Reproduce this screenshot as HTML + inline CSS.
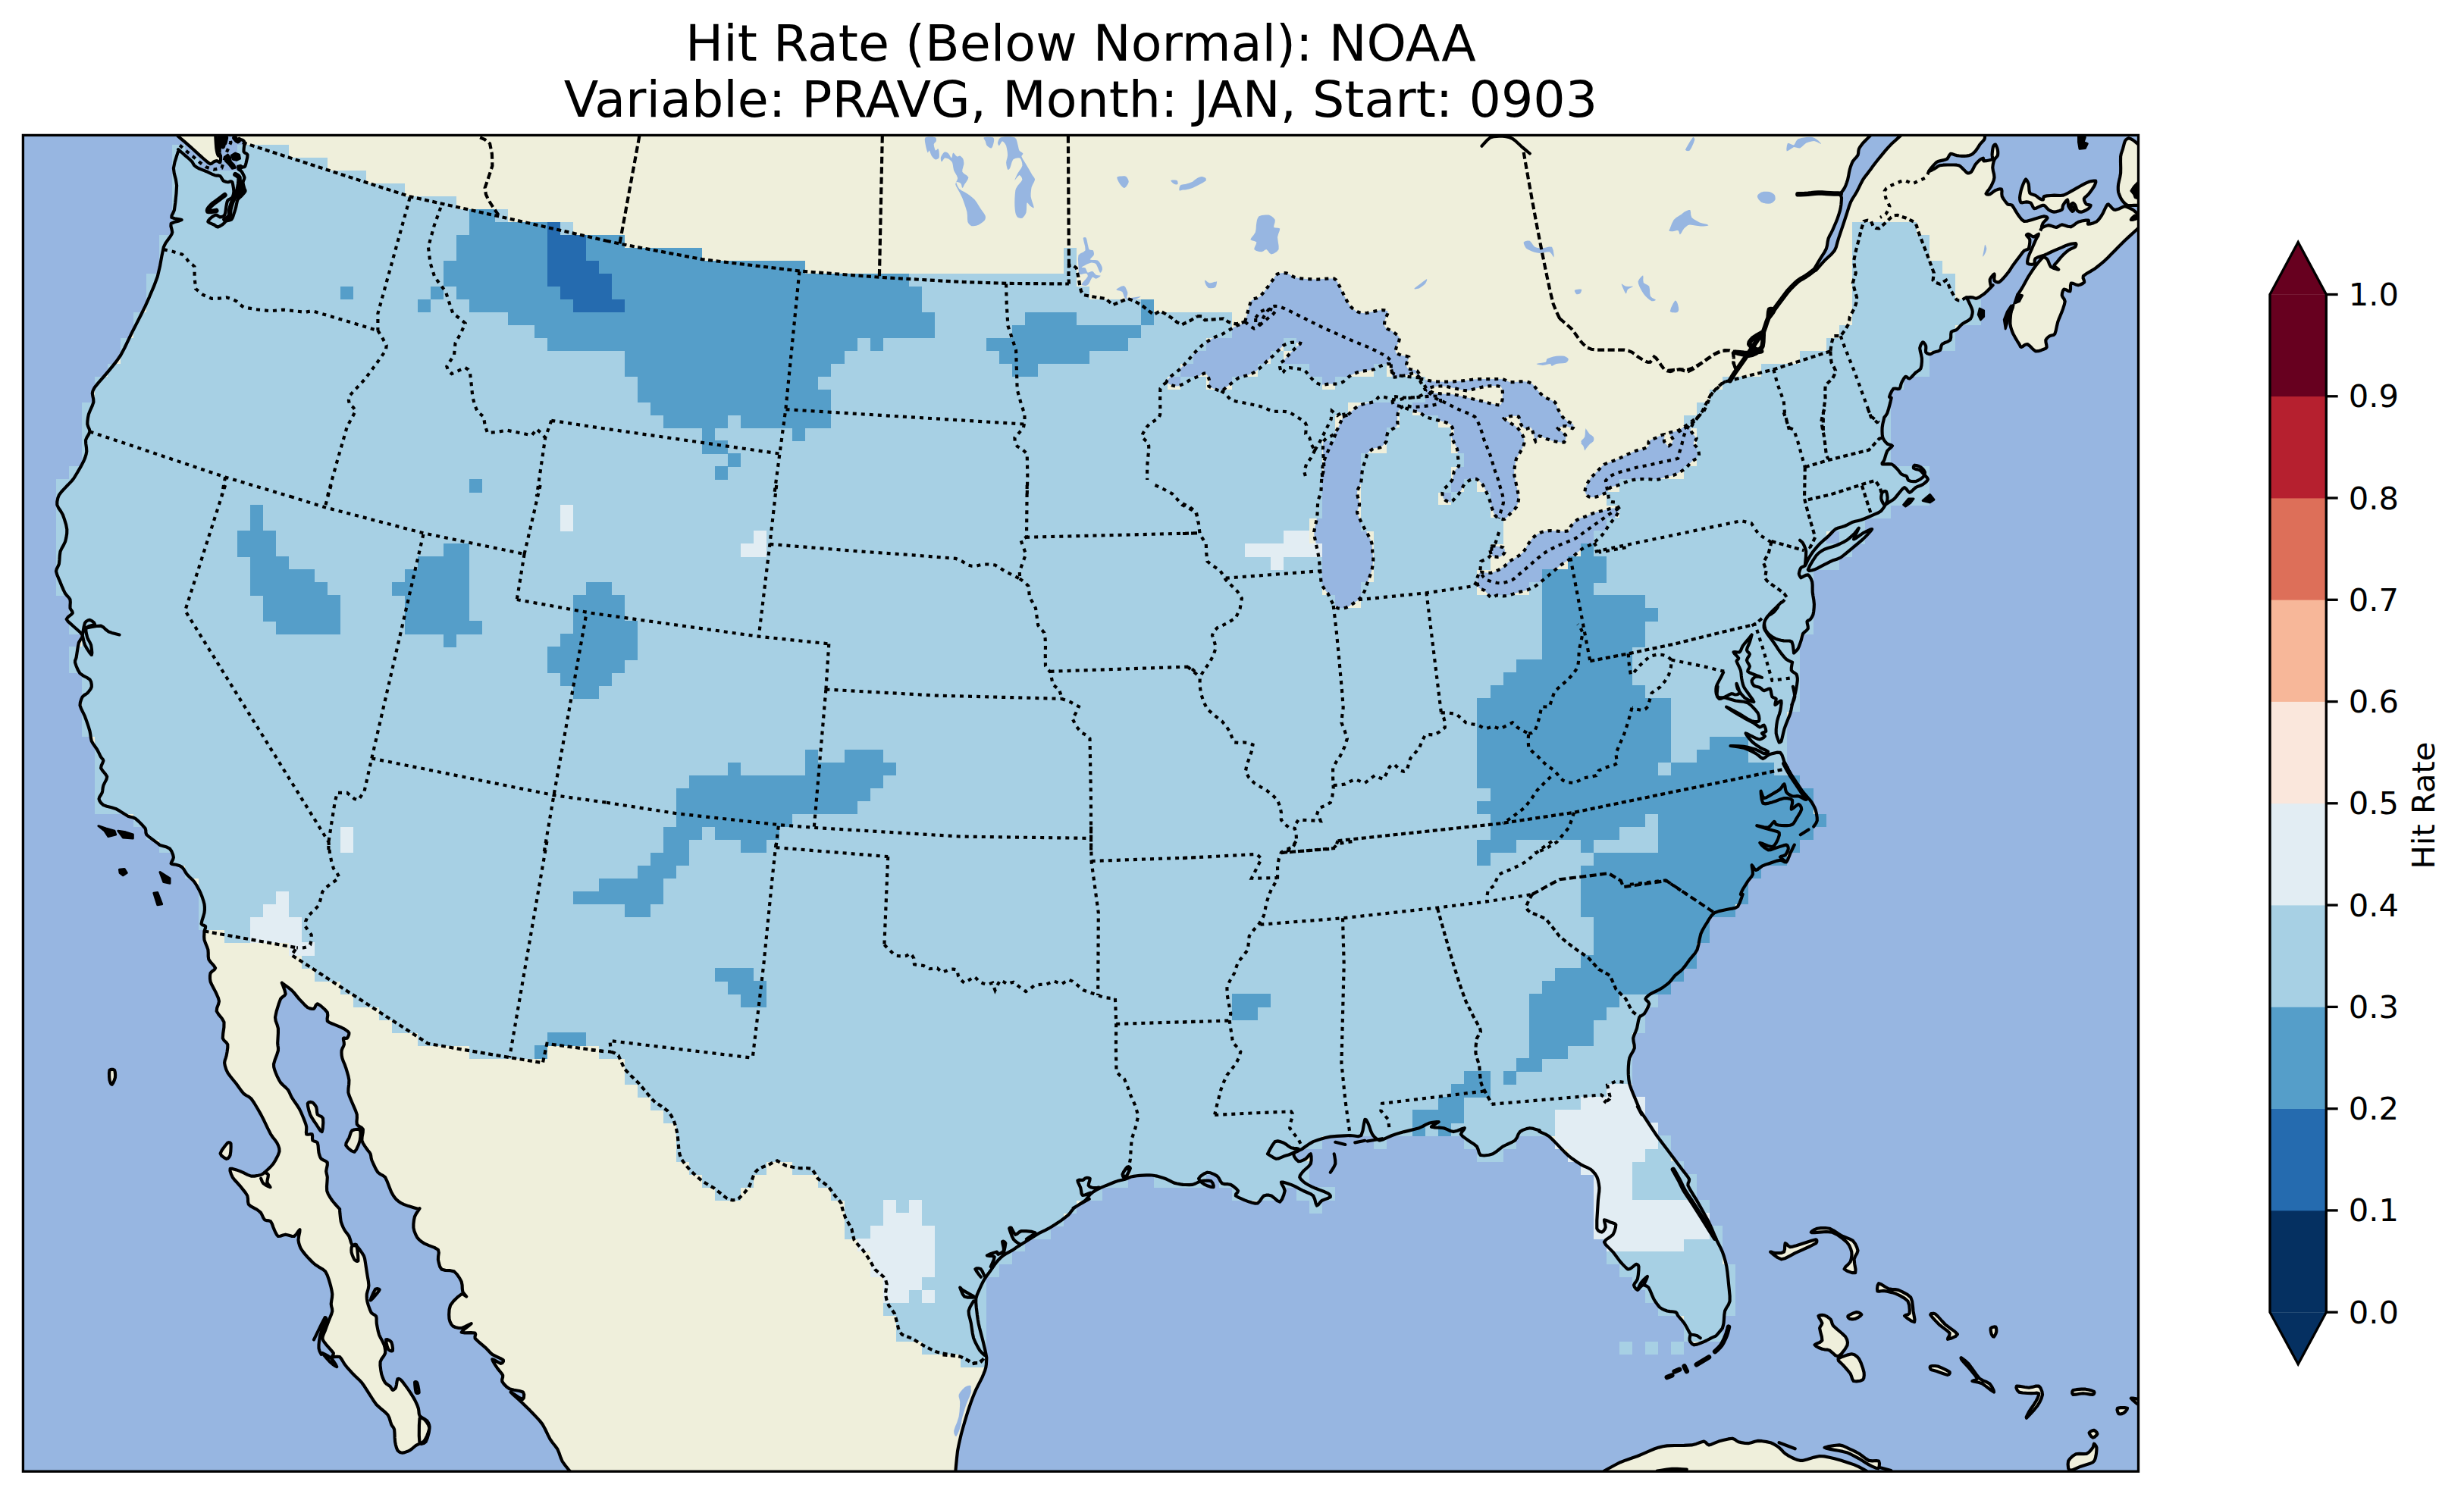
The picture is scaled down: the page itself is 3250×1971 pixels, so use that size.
<!DOCTYPE html><html><head><meta charset="utf-8"><title>Hit Rate</title><style>html,body{margin:0;padding:0;background:#fff}body{width:3250px;height:1971px;position:relative;overflow:hidden}</style></head><body><svg width="3250" height="1971" viewBox="0 0 3250 1971" style="position:absolute;left:0;top:0">
<defs><clipPath id="ax"><rect x="30.4" y="178.4" width="2790.1" height="1762.8"/></clipPath></defs>
<g clip-path="url(#ax)">
<rect x="30.4" y="178.4" width="2790.1" height="1762.8" fill="#97b6e1"/>
<path d="M1583.5,1558.5l-1.1,-1 -1.3,-2.7 2.4,-3 4.7,-3.3 4.3,-1.8 4.2,0.6 5,2.1 3.8,2.2 2.3,3 2,3.9 2.1,2.8 3.4,0.8 4.3,0.1 3.7,0.7 3.6,2.2 3.9,3.2 2.3,2.7 -0.9,2.2 -2.1,2.3 -0.3,2 4.6,2.7 7.4,3.2 5.9,2.2 4,1.2 4,0.8 3.3,-0.3 2.7,-2.7 2.8,-4.2 2.6,-2.9 3,-0.8 3.5,0 3.3,0.8 3.7,2.8 4.2,3.8 3.4,1.5 2.7,-3.4 2.5,-6.1 1.3,-5.1 -1.4,-4.2 -2.6,-4.5 -0.8,-2.6 3,0 5.1,1.5 4.9,1.7 5.1,2.3 6,3.2 5.1,2.6 4.6,2 4.8,2.1 3.6,2.4 2,4.3 1.4,5.5 1.4,3.2 1.8,-1 2.3,-3 2.4,-2.5 3.8,-1.6 4.7,-1.7 2.9,-1.5 0,-1.6 -1.4,-1.9 -1.8,-1.4 -4.5,-2 -6.4,-2.4 -5.4,-2.1 -4.5,-2 -4.7,-2.3 -3.8,-2.2 -3.3,-2.5 -3.1,-3 -1.7,-2.6 0.6,-2.5 2.1,-2.9 2.2,-2.7 3.1,-2.9 3.9,-3.5 2.7,-3.4 0.8,-4.5 -0.1,-5.4 -0.7,-3.1 -1.6,1 -2.4,3 -2.5,2.5 -3,1.6 -3.7,1.5 -3,0.2 -2.8,-2.4 -2.8,-4.1 -0.9,-3.3 2.5,-2.2 4.5,-2.1 4.4,-2.2 4.2,-3 5.2,-3.7 5.2,-3 6.7,-2.4 8.3,-2.4 7.7,-1.7 8.4,-0.8 9.9,-0.5 7.7,-0.3 5.4,0.5 5.3,0.7 3.9,-1.2 2.1,-6.3 1.5,-9.1 1.3,-5.7 1.6,0.3 1.7,3 1.5,3.2 1.4,3.9 1.7,5.1 1.8,4 2.6,3.3 3.5,3.2 3.6,1.6 4.8,-1.3 6.1,-2.8 5.4,-2.4 5.1,-1.7 5.7,-1.7 5.4,-1.5 6.2,-1.5 7.4,-1.8 5.9,-1.6 4.5,-2.1 4.6,-2.5 3.9,-1.8 4.8,-1.1 5.4,-0.7 2.8,0.1 -2.5,1.7 -5,2.8 -2.3,2 3.7,0.7 6.8,0.3 5.8,0.6 4.3,1.7 4.5,2.1 4.1,1.1 5.2,-1.4 5.9,-2.4 3.6,-1.1 -0.8,1.8 -2.8,3.4 -1.3,3 2.2,2.6 3.9,2.9 3.6,2.6 3.7,2.5 4.4,2.8 3.3,2.8 1.6,3.8 1.3,4.6 2,3 4.6,0.5 6.3,-0.8 5.3,-1.4 4.2,-2.7 4.6,-3.8 4.2,-3.2 5.3,-2.6 6.2,-2.8 4.7,-2.7 2.5,-3.6 1.8,-4.5 2.2,-3.3 3.8,-2.2 4.9,-1.8 4.3,-0.9 4.5,0.7 5.1,1.5 3.4,1.1 -0.3,0.3 -0.5,0.4 0,0.3 3.3,1.6 5.2,2.3 4.5,2.6 4.1,3.7 4.8,4.9 4.1,4.3 4,4.2 4.7,4.8 4.3,4 5.1,3.9 6,4.2 5.1,3.3 4.5,2.3 4.7,2.1 3.8,2.1 3,2.8 3,3.4 2.1,3.5 1.5,4.3 1.1,5.4 0.6,4.9 -0.2,4.8 -0.8,5.8 -0.6,5.7 -0.7,11.6 -0.9,15.1 0,10.6 1.5,2.5 2.7,1.8 2.3,0.6 1.9,-1.3 1.9,-2.6 1.1,-2.6 -0.4,-3.3 -1.1,-4 -0.2,-2.4 2.1,0.3 3.3,1.5 2.8,1.4 2.7,0.7 2.8,0.9 1.6,1.6 -0.4,3.7 -1.5,5.1 -2,4.2 -3.9,3.2 -5,3.4 -2.5,3.2 2.3,4 4.9,4.8 4.2,4.2 3.2,4.2 3.5,4.8 3,3.9 3.3,3.6 3.7,3.8 2.8,2.4 1.6,0.1 1.7,-0.7 1.6,-1 2,-1.6 2.5,-2.1 1.9,-1.2 1.4,0.4 1.3,1.2 0.6,1.6 -0.1,4.7 -0.6,6.5 -0.9,5.1 -1.6,3 -2.2,2.8 -1.1,2.3 0.9,2.6 2.1,2.6 1.9,1.3 1.9,-1.6 2.4,-3 2.2,-1.9 2.6,0.1 3,1.2 2.5,1.9 2.1,4.1 2.3,5.7 2.1,4.8 2.4,4 3,4.2 2.7,3.2 2.9,2 3.6,1.7 3.2,1.2 3.8,0.6 4.4,0.4 3.2,0.6 1.4,1.3 0.8,1.8 1,1.8 2.3,2.7 3.1,3.5 2.8,3.5 2.8,4.8 3.2,5.9 2.1,3.9 -0.5,2.2 -0.6,3.2 0.1,2.7 1.2,2.3 2.1,2.4 2.5,1.2 3.8,-0.7 5,-1.8 4.2,-1.7 3.4,-1.6 3.6,-1.8 2.8,-1.5 2.2,-1 2.3,-1 2,-1.3 2.7,-3 3.3,-4 2.1,-2.7 0.4,-1.6 0.7,-2.4 0.5,-2.5 0.4,-4.7 0.4,-6.2 0.8,-5.3 2,-4 2.8,-4.4 1.7,-4.6 0,-6.7 -0.8,-8.5 -0.8,-7.5 -0.7,-7.4 -0.9,-8.3 -1,-7.1 -1.5,-6.5 -2,-7 -2,-5.9 -2.4,-5.2 -2.9,-5.6 -2.8,-5.5 -2.8,-6.7 -3.4,-8.2 -3.6,-7.8 -4.9,-9.2 -6.2,-11.1 -5.1,-8.9 -4.3,-7.1 -4.4,-7.2 -2.7,-5.2 0.2,-2.7 1.2,-2.7 0.3,-2.7 -1.9,-3.3 -3.1,-4 -3.2,-4.1 -4.1,-5.5 -5.4,-7.2 -5.1,-6.8 -6.1,-8.1 -7.4,-9.7 -6,-8.1 -4.5,-6.6 -4.5,-6.9 -3.9,-6 -4.5,-6.8 -5,-7.5 -3,-7.1 -3,-7.2 -2.8,-6.7 -3.1,-7.8 -2.2,-6.6 -1,-5.9 -0.5,-6.5 -0.1,-5.5 0.2,-5.4 0.5,-5.9 0.9,-4.9 2,-4.3 2.8,-4.7 1.7,-4 -0.2,-4.1 -1,-4.8 -0.4,-4.1 1.2,-4.1 2,-4.6 1.6,-4.2 1,-4.9 1.1,-5.7 1.2,-4.1 1.9,-1.8 2.5,-1.3 2.1,-1.7 2.4,-3.8 2.7,-5.2 1.4,-4 -1.2,-2.5 -2.5,-2.1 -1.2,-1.9 1.2,-2.1 2.5,-2.3 2.8,-2.1 3.8,-2 5,-2.3 4.2,-2.2 3.8,-2.4 4.1,-3 3.4,-2.7 2.8,-3.1 2.8,-3.6 2.6,-3.1 3,-2.5 3.6,-2.8 3.1,-2.8 3.1,-3.9 3.5,-4.8 3.1,-4.3 3.3,-3.9 3.7,-4.4 2.8,-4.6 1.7,-6.4 1.5,-8.1 1.6,-6.6 2.4,-5.1 3,-5.2 2.8,-4.4 2.7,-4.5 3.3,-4.8 3.7,-3.6 5.9,-2.1 7.6,-1.6 6,-1.2 4.1,-0.7 4.1,-0.8 3.1,-1.8 2.5,-4.9 2.5,-6.7 1.5,-4.6 -0.9,0.2 -1.2,0.3 -0.6,-0.4 0.5,-1.6 1,-2.4 1.2,-2.4 1.9,-3.2 2.5,-4 2.2,-3.5 2.4,-3 2.6,-3.3 1.7,-3.1 -0.1,-4.3 -0.9,-5 -0.3,-2.8 1.2,1.4 2.1,3.3 2.1,2 2.3,-1 2.9,-2.3 2.8,-2 3.2,-1.4 3.9,-1.4 3.6,-1.2 4.3,-1.5 5.1,-1.6 4,-0.9 2.9,0.9 2.9,1.5 2.2,0.2 1.9,-3 1.9,-4.8 1.6,-4.2 1.9,-3.8 2,-4.2 1.4,-2.7 25.4,-24.1 1.4,-1.9 2,-3 1.2,-3.1 -0.1,-4 -0.8,-5.1 -1,-4.3 -1.4,-3.6 -2,-3.9 -1.9,-3.2 -2,-2.7 -2.4,-2.7 -2.3,-2.7 -2.8,-3.2 -3.5,-3.9 -3.1,-3.6 -3.1,-4.1 -3.5,-4.9 -2.8,-4.3 -2.5,-4.7 -2.5,-5.2 -1.7,-3.5 -10.7,-33.5 0.8,-0.2 1.1,-0.4 0.8,-0.7 1.2,-4.4 1.5,-6.5 1.3,-5.2 1.3,-3.7 1.4,-3.8 1.3,-3.2 1.3,-3.4 1.6,-3.8 1.2,-3.5 0.9,-3.7 0.8,-4.3 0.9,-4 1.2,-4.5 1.6,-5.4 1.2,-4.9 1.1,-5.3 1,-6 0.6,-4.7 0,-2.9 -0.5,-2.9 -0.8,-2.3 -2.1,-1.7 -2.8,-1.7 -1.8,-1.9 0,-3.4 0.7,-4.4 0.6,-2.9 2,-12.2 1.4,-1.2 2.1,-2 1.8,-2.2 1.4,-3.1 1.5,-4.1 1.2,-3.5 0.8,-3.2 0.8,-3.4 1,-2.8 2.1,-2.2 2.8,-2.3 1.8,-2.2 -0.1,-3 -0.9,-3.7 -0.3,-2.7 1,-1.1 1.6,-0.6 1.4,-0.9 1.4,-1.7 1.5,-2.4 1.1,-2.6 0.7,-3.8 0.5,-5 0.2,-4.6 -0.5,-5 -1,-6.1 -0.7,-5 -0.1,-4.5 0,-4.9 -0.4,-4 -1.3,-3.6 -2,-3.7 -2.1,-2.1 -3,0.6 -3.8,2 -2.5,1.4 -0.9,-1.3 -1.2,-2 -0.6,-2 0.5,-2.6 1,-3.2 1.2,-2.3 1.6,-1 2,-0.6 1.7,-1 1.3,-2.2 1.3,-3 1.4,-2.9 1.9,-3.3 2.4,-3.9 2.4,-3.5 2.8,-3.4 3.4,-4 3.2,-3.3 3.4,-3.1 3.9,-3.3 3.4,-3 3,-3.2 3.3,-3.5 3.1,-2.7 3.7,-1.6 4.5,-1.2 3.9,-1.2 3.5,-1.7 3.8,-2 3.4,-1.6 3.3,-0.9 3.8,-0.9 3.6,-0.9 4.1,-1.5 5,-2 4.3,-1.9 4.4,-1.9 5.1,-2.2 3.9,-2.6 3.1,-3.9 2.7,-4.4 1.7,-1.1 1.9,-1.3 2.4,-1.5 3.1,-1.9 2.5,-1.9 2.2,-2.5 2.4,-3 2.1,-2.6 2.1,-2.6 2.5,-2.8 2.1,-1.3 2.1,1.7 2.4,3.3 2.2,1.7 2.4,-1.4 2.9,-2.9 2.7,-2.4 3,-1.4 3.5,-1.2 2.9,-1.4 2.7,-2 2.7,-2.5 1.3,-2.2 -1,-2.2 -2.3,-2.4 -1.4,-1.4 -0.5,1.2 -1.5,2.1 -2.6,2 -3.6,2.1 -3.2,1.3 -3.2,0.1 -3.6,-0.5 -2.6,-0.9 -1.1,-1.6 -0.6,-2.1 -0.9,-1.7 -1.9,-0.9 -2.6,-0.8 -2.2,-1 -1.7,-1.9 -1.9,-2.5 -1.8,-2.3 -2.3,-2.3 -2.8,-2.7 -2.9,-1.7 -4,-0.2 -5,0.3 -3.1,-0.1 0,-1.3 1.4,-2 1.3,-2 1.1,-3.6 1.4,-4.8 1.5,-3.7 2.4,-2.6 2.9,-2.4 1.4,-1.7 -1.4,-0.9 -2.8,-0.7 -2.5,-1.1 -2.1,-2.1 -2.2,-2.9 -1.6,-3 -0.7,-3.9 -0.2,-5.1 0.1,-4.4 0.7,-4.7 1.2,-5.2 0.8,-3.5 1.1,-1.3 1.6,-2.1 1.3,-2.3 1.9,-6.1 2.2,-8.3 1.3,-5.7 -0.7,-0.6 -1.4,-0.1 -0.6,-0.6 1.1,-3.2 2.1,-4.4 2.1,-3.1 2.6,-0.4 3.2,0.6 2.3,-0.2 1.1,-2.1 0.7,-3.1 0.9,-2.8 1.5,-2.9 2,-3.3 1.8,-1.9 1.6,0.5 1.9,1.7 1.9,0.5 2.4,-2 3.1,-3.3 2.5,-2.7 2.4,-1.6 2.5,-1.7 1.8,-2.1 0.9,-3.8 0.5,-5.1 0,-4.5 -0.8,-4.4 -1.3,-5.1 -0.6,-3.9 0.9,-3.3 1.6,-3.1 1.5,-1.6 1.4,0.8 1.6,2.3 1,2.2 0.1,2.6 -0.3,3.2 0.2,2.3 1.4,1.3 2.1,0.9 1.9,0.4 1.6,-0.5 1.8,-1.1 1.9,-1 2.6,-0.7 3.2,-0.8 2.3,-1.2 0.9,-2.3 0.5,-3.1 1.2,-2.6 3.2,-1.7 4.5,-1.7 3.1,-2 0.8,-3.3 0,-4.3 0.5,-3.1 1.8,-1.2 2.5,-0.6 2.4,-0.9 2.4,-2.3 2.9,-3.1 2.7,-2.6 3.5,-2.1 4.2,-2.3 3,-2.3 1.5,-2.9 0.9,-3.5 0.3,-3 -0.5,-2.5 -1,-2.8 -1.2,-2.7 -1.7,-3.6 -2.1,-4.3 -1.5,-2.9 2.2,0 3.2,-0.1 2.6,0.1 1.8,0.6 1.8,0.7 1.8,0.1 3.1,-1.5 4,-2.6 3.6,-2.6 3.7,-3.5 4.2,-4.3 2.8,-2.9 -2.5,1.2 -0.6,-2.3 -0.7,-3.5 -0.1,-3 1.6,-2.9 2.5,-3.1 1.7,-1.3 0.2,2 -0.4,3.9 0.2,2.9 1.5,1.3 2.3,0.8 2,0.1 1.8,-1.1 2.1,-1.9 2,-2.1 2.3,-2.6 2.7,-3.3 2.3,-2.9 1.8,-2.7 2,-3.1 2,-3 2.7,-3.7 3.4,-4.4 2.7,-3.6 2,-2.7 2,-2.7 1.8,-1.9 2,-0.9 2.3,-0.7 1.6,-1.3 0.9,-3.4 0.6,-4.7 0,-3.6 -1.3,-2.3 -2,-2.1 -1.1,-1.4 0.4,-0.9 1.2,-0.5 1.3,-0.1 1.9,1.1 2.5,1.7 2.2,0.9 2.4,-1.1 2.7,-1.9 1.4,-0.7 -0.7,2 -1.9,3.5 -1.7,3.3 -1.4,3.2 -1.6,3.7 -1.4,3.3 -1.5,3.3 -1.7,3.7 -1.2,3.2 -1,3.3 -0.7,3.7 0.2,2.5 2.4,1 3.7,0.3 2.7,-0.5 0.6,-1.9 0,-3 0.9,-2.4 3,-1.5 4.5,-1.5 4.1,-1.4 4.2,-1.8 4.9,-2.3 4.1,-1.8 3.5,-1.5 3.6,-1.6 3.1,-1.3 2.9,-1.3 3.1,-1.3 2.8,-1 3.3,-0.8 3.8,-0.6 2.4,-0.1 0.6,1.1 -0.4,1.8 -0.9,1.5 -2.3,1.3 -3.5,1.5 -3,1.6 -2.8,2.3 -3.3,3 -2.7,2.7 -2.5,2.9 -2.8,3.4 -2,2.5 -1.3,1.2 -1.2,1.3 -0.4,1.2 1.8,1.8 2.8,2.2 1.2,1.1 -2.5,-0.5 -4.3,-1.4 -3.4,-1.8 -1.7,-2.9 -1.4,-3.8 -1.3,-2.8 -1.7,-1.7 -2.1,-1.3 -2,0.1 -3,2.8 -3.9,4.7 -3.3,4.2 -2.9,4.1 -3.2,4.8 -2.7,4.2 -2.4,4.3 -2.7,4.9 -2.2,4 -2.3,3.8 -2.6,4.1 -1.7,2.6 -6.5,15.1 -0.8,1.9 -1.1,3 -0.8,3.1 -0.7,4.7 -0.5,6.2 -0.1,5.2 0.8,4.4 1.5,4.8 1.7,4.2 2.5,4.5 3.1,5.2 2.4,3.7 0.8,1.6 0.8,1.7 1.1,0.7 2.2,-1.2 2.9,-2.1 2.9,-0.7 3.3,2.5 4,4.1 3.5,2.7 3.6,-0.1 4.1,-1.3 3,-1.2 1.6,-0.6 1.5,-0.8 0.9,-1.3 -0.3,-2.7 -0.8,-3.7 -0.2,-3 1.3,-2 2,-2 2,-1.4 2.2,-0.7 2.6,-0.5 1.9,-1.4 1.4,-4.4 1.3,-6.3 1.3,-5.4 1.7,-4.4 2,-4.8 1.7,-4.2 1.6,-4.4 1.6,-5.1 0.8,-3.9 -1,-2.9 -1.9,-2.7 -1.1,-2.4 0.3,-2.9 1,-3.3 1.4,-1.9 2.4,0.6 3.3,1.7 2.3,0.4 0.6,-3 0,-4.7 0.7,-3 2.6,0.3 3.6,1.5 3.2,0.9 2.9,-0.8 3.2,-1.5 2,-1.7 -0.3,-2.3 -1.3,-3.1 0.2,-2.7 3.8,-2.9 5.9,-3.4 5.1,-3.1 4.3,-3.3 4.8,-3.8 4.2,-3.6 4.3,-4.1 4.8,-5 4.3,-4.3 4.1,-4.2 4.8,-4.8 4.5,-4.4 5.8,-5.4 7,-6.4 4.6,-4.2 5.4,0 0,-127.9 -2515.1,0 0,6.1 0.1,2 0.3,2.8 0.6,1.8 1.4,-0.2 2,-1.1 1.7,-0.7 1.4,0.1 1.5,0.4 1.1,0.5 0.9,0.7 0.7,1.1 0.4,1.2 -0.3,3.5 -0.6,4.9 -0.1,3.6 1.4,1.5 2.2,1 1.4,1.5 -0.2,3.3 -1,4.4 -0.8,3.4 -0.5,1.9 -0.6,1.9 -0.9,1.2 -1.8,0.2 -2.4,-0.2 -1.8,0 -1.1,0.8 -0.7,1.2 -0.2,1 0.9,0.8 1.7,1 1.4,1.2 1.5,2.3 1.6,3.2 0.9,2.6 -0.4,1.9 -1,2.1 -0.6,2 0.4,2.9 0.9,3.5 0.7,2.6 0.5,1 0.5,1 0,1 -1.2,1.8 -2,2.3 -1.8,2 -1.7,1.5 -1.9,1.7 -1.4,1.8 -0.8,2.6 -0.7,3.4 -0.6,3 -0.9,3.2 -1.1,3.8 -1,3 -0.8,2.6 -1,2.6 -1.2,1.9 -2.1,0.9 -2.7,0.5 -2.2,0.6 -1.4,1.2 -1.2,1.5 -1.4,1.3 -2.1,1.5 -2.8,1.6 -2.2,0.9 -1.6,-0.5 -1.7,-1.3 -1.7,-1.2 -2.8,-1.2 -3.3,-1.4 -1.9,-1.4 0.8,-1.9 2.2,-2.3 2,-1.8 1.9,-1.3 2.2,-1.2 1.9,-0.5 1.7,0.8 1.7,1.4 1.7,0.8 2,-0.4 2.3,-1 1.7,-1.6 0.9,-3.1 0.6,-4.4 0.5,-3.6 0.5,-2.9 0.6,-2.9 0.9,-2.2 1.8,-1.4 2.4,-1.2 1.8,-1.4 1,-2.2 0.7,-3 0.3,-2.9 -0.4,-3.9 -0.8,-4.8 -0.8,-3.3 -0.6,-0.5 -0.8,-0.3 -0.6,-0.2 -1,0.3 -1.5,0.5 -1.5,0.2 -1.9,-0.3 -2.2,-0.7 -1.9,-1 -1.3,-1.9 -1.3,-2.4 -1.4,-1.8 -2,-0.5 -2.6,-0.1 -2.5,-0.4 -3.3,-1.4 -4.1,-1.9 -3.6,-1.7 -3.4,-1.3 -3.8,-1.5 -2.9,-1.2 -2.2,-1.2 -2.2,-1.5 -1.6,-1.3 -1,-1.5 -0.9,-1.8 -1.1,-1.7 -2.5,-2.4 -3.4,-3 -3.1,-2.7 -3.2,-2.8 -3.5,-3.1 -2.1,-0.6 -2,6.1 -2.9,9.1 -1.6,8.1 0.9,7 2.1,8 1.2,7.8 -0.6,10.4 -1.3,12.7 -1.3,9.3 -1.5,3.7 -1.9,3.6 -0.2,2.5 4,1.4 6.2,0.9 3.1,0.9 -3.3,1.3 -6.4,1.6 -4.3,2 -0.2,3.4 1.2,4.5 0.7,3.5 -0.7,2.3 -1.2,2.1 -1.4,2.1 -2.4,3.4 -3.3,4.6 -2.4,4.9 -2.3,10.9 -2.7,14.9 -3.1,13.2 -4.7,12.6 -6.1,14.4 -5.4,12 -5.2,10.7 -5.9,11.6 -5.2,10.1 -5.2,10.7 -5.8,12.1 -5.2,9.7 -5.1,7.4 -5.8,7.3 -5.3,6.4 -6,7.1 -7,8 -4.9,6 -1.5,2.6 -1.2,2.8 -0.5,2.7 0.5,3.3 0.9,4.1 0.2,4 -1.7,5 -2.8,6.1 -2,5.1 -0.9,4.4 -0.6,4.7 -0.1,3.9 1,3.3 1.6,3.4 0.6,3.1 -1.4,3.4 -2.5,4.1 -1.6,3.8 0.2,4.5 0.8,5.4 0.3,4.7 -0.7,4.1 -1.4,4.5 -1.8,4.4 -3.7,7.1 -5.2,8.9 -4.1,6.7 -2.9,3.6 -3.1,3.3 -2.1,2.1 -3.2,3.4 -4.8,5.1 -3.4,4.5 -1.6,4.1 -1,4.8 0,4.1 1.8,4 3.1,4.5 2.6,4.5 2.1,5.9 2.2,7.3 1.2,6.2 -0.1,5.5 -1,5.9 -1.2,4.9 -2,4.2 -2.6,4.6 -1.9,4.2 -0.7,5.2 -0.4,6.1 -0.5,4.9 -1.4,3.3 -1.7,3.2 -0.8,3.2 1.2,4.4 2.2,5.4 2.1,4.8 2,4.9 2.4,5.5 2.1,4.3 2.3,2.9 2.5,2.6 1.7,2.6 0.3,3.6 -0.3,4.3 0,3.4 1.2,2.3 1.6,2.2 0.5,2 -2.4,2.4 -3.8,3 -1.9,2.7 2,3 4,3.5 3.7,3.3 4,3.6 4.7,4.2 2.7,3.6 -0.7,3 -2.3,3.3 -1.9,3.4 -1.2,6 -1.2,7.8 -0.9,5.7 -0.7,2.2 -0.8,2.1 -0.1,2.2 1.4,4.4 2.4,5.7 2.7,4.5 4.1,2.9 5.2,2.7 3.7,2.5 1.6,3 0.7,3.7 0,3 -1.3,2.8 -2.2,3 -2,2.4 -2.1,1.5 -2.5,1.5 -1.9,1.8 -1.5,3.1 -1.4,4.3 -0.4,4 1.5,4.3 2.6,5.3 2.4,5 2.2,6.1 2.5,7.4 1.8,6 0.8,4.5 0.6,4.6 0.9,3.9 2.1,3.7 2.9,4.1 2.4,3.5 1.8,3.4 1.7,3.6 1.4,2.8 1.3,1.6 1.4,1.5 0.6,1.7 -1,2.8 -1.7,3.6 -0.6,3.4 2.3,3.5 3.6,4.2 2.2,3.6 -0.9,3.7 -2.2,4.2 -1.7,3.5 -0.7,3.2 -0.4,3.5 -0.6,3 -1.5,2.7 -1.9,2.9 -0.8,2.6 1,2.7 2.1,3 2.8,2.4 4.5,1.6 6.2,1.5 5.5,1.7 5.3,3 6.1,3.9 4.8,2.9 3.3,1.1 3.4,0.7 3.1,1.4 4.3,3.7 5.1,5.2 3.6,4.1 0.7,2.6 0.1,3 0.8,2.5 4.2,3.7 6,4.5 4.4,3.2 1.2,0.9 1.2,1 0.8,0.6 3.6,1 5.4,1.7 4,2.1 2.3,3.3 1.8,4.5 0.8,3.6 -0.9,3 -1.7,3 -0.7,2.1 1.4,0.8 2.6,0.4 2.5,0.4 2.6,0.8 3,1 2.6,1.5 2.1,2.7 2.2,3.7 2.2,3.3 2.9,3 3.7,3.4 3.1,3.4 2.8,4.4 3,5.4 2.3,4.8 1.9,4.7 1.8,5.4 1.2,4.5 0.4,3.7 0,4 -0.4,3.7 -1.3,4.8 -1.8,5.7 -0.8,4.1 1.4,1.5 2.5,0.8 1.6,0.9 -0.1,2.1 -0.9,2.6 -0.6,1.8 -0.1,2.9 -0.2,4.4 0.3,4.1 1.4,4 2,4.8 1.5,4.2 0.3,4.2 0,4.7 0.6,4 2.8,3.9 3.9,4.2 2.1,3.3 -1.4,2.2 -3,2.1 -2.1,2.2 -0.6,3.3 0,4.2 0.6,3.9 1.7,4 2.6,4.8 2.2,4.2 1.9,4.1 2,4.7 1,4.1 -1,4.1 -1.8,4.7 -0.5,4.2 2.7,4.4 4.3,5.1 2.8,5.1 -0.1,6.7 -1.2,8.3 -0.4,6.1 1.8,3 2.8,2.5 1.9,2.7 0,4.4 -0.8,5.7 -0.8,4.5 -1,3.3 -1.1,3.3 -0.5,3.1 0.7,3.9 1.5,4.8 2,4.3 3.3,4.6 4.4,5.4 3.7,4.6 3.2,4.4 3.5,4.9 3,3.7 3.1,2.2 3.6,1.8 3.1,2.5 4,5.7 4.8,8 4.2,7.4 4.3,8.4 4.8,10 3.8,7.6 2.8,4.1 3.1,3.8 2.3,3.4 1.7,3.5 1.3,4 0.2,3.9 -1.8,5 -3.2,6.2 -3.1,5 -3.6,4.2 -4.5,4.2 -3.3,3 -1.5,1.3 -1.5,1.1 -1.8,0.8 -3.6,0.9 -4.9,0.8 -4.5,0 -4.6,-1.7 -5.4,-2.7 -4.6,-2.1 -4.7,-1.7 -5.2,-1.5 -3.1,-0.1 -0.1,2.8 1.4,4.5 1.9,4.1 2.7,3.6 3.8,4 3.3,3.7 3.3,4.1 3.8,4.8 2.6,4.1 0.7,3.9 0.1,4.2 0.8,3.3 2.9,2.5 4.1,2.2 2.8,1.3 1.7,1.2 2.6,2 2.2,2 1.5,2.9 1.6,3.6 1.7,2.6 2.5,0.9 3.1,0.3 2.5,1.1 1.8,3.2 1.6,4.5 1.5,3.7 1.4,3.1 1.7,3.1 1.8,1.9 2.8,-0.3 3.6,-1.2 3.3,-0.8 3.6,0.8 4.3,1.3 3.5,0.2 2.9,-2.8 2.9,-4.2 1.7,-1.8 -0.2,3.1 -1.2,5.6 -0.6,4.9 0.6,3.8 1.2,4 1.5,3.6 2.5,3.7 3.4,4.2 3.1,3.5 3,3.2 3.4,3.5 3.4,3 4.3,2.8 5.3,3.1 4,3.2 2.4,4.5 2,5.8 1.5,5 1.3,4.7 1.2,5.4 0.7,4.5 -0.3,4.3 -0.8,4.8 -0.5,3.9 0.5,3.2 0.9,3.3 0.2,3.2 -1.2,3.9 -2,4.9 -1.7,4.2 -1.6,4.2 -1.8,4.9 -1.4,3.9 -1.4,3.3 -1.4,3.5 -0.5,2.9 0.9,2.6 1.9,2.8 2.1,2.7 3.1,3.6 4,4.5 2.6,3.3 -0.3,1.8 -1.2,1.9 -0.1,1.2 2.5,0 4,-0.4 3.3,0.4 2.1,2.5 2.2,3.7 2.1,3.5 2.8,3.5 3.6,4.1 3.4,3.8 4,4 5,4.7 4,4.3 3.3,4.6 3.4,5.3 3,4.7 3,4.7 3.4,5.3 3.4,4.6 4.7,4.2 5.7,4.7 4.2,4.1 2.1,4.3 1.5,5 1.2,3.7 1.3,2.1 1.6,2.1 1,2.2 0.4,4.8 0.2,6.3 0.4,5.2 0.8,4.1 1.2,4.2 1.3,3 1.8,1.7 2.3,1.2 2.3,0.4 3,-0.6 3.7,-1.3 3.1,-1.4 2.6,-1.9 2.9,-2.5 2.6,-2.1 3.1,-1.5 3.7,-1.6 2.9,-1.7 1.9,-2.3 1.7,-2.9 1.3,-2.9 1.3,-3.5 1.4,-4.4 0.6,-3.5 -0.5,-2.8 -1.2,-2.9 -1.6,-2.4 -2.9,-2.1 -4,-2.2 -2.8,-2.2 -0.9,-2.9 -0.3,-3.6 -0.5,-3.3 -1.2,-3.5 -1.8,-4.1 -1.8,-3.7 -2.3,-4 -3,-4.8 -2.8,-4.2 -3.2,-4.5 -3.7,-5 -2.9,-3.5 -1.6,-1.2 -1.8,-0.8 -1.4,0.4 -0.8,3.1 -0.7,4.7 -0.8,3.5 -1.2,1.6 -1.6,1.3 -1.4,0.4 -1,-1.1 -1.1,-2 -1.2,-1.8 -1.9,-1.3 -2.5,-1.6 -2.1,-1.9 -1.8,-3.1 -1.8,-4.2 -1.3,-4.1 -0.9,-5 -0.8,-6.2 0.1,-5 1.8,-3.9 2.9,-4 1.8,-3.5 0.1,-3.6 -0.7,-4.1 -1,-3.7 -1.9,-4 -2.6,-4.7 -2,-4.3 -1.3,-4.7 -1.1,-5.5 -0.8,-4.4 -0.2,-3.5 0,-3.5 -0.5,-2.7 -1.8,-1.6 -2.6,-1.4 -2.1,-1.9 -1.9,-4.2 -2,-5.8 -1.3,-4.6 -0.5,-3.3 -0.2,-3.3 0.1,-3.1 0.8,-3.3 1.2,-4 0.6,-4.1 -0.5,-5.5 -1.2,-6.8 -0.9,-5.5 -0.6,-4 -0.6,-4 -0.5,-3.4 -0.5,-3.1 -0.6,-3.5 -1.1,-3.2 -2.6,-4.3 -3.6,-5.1 -2.9,-3.5 -2.1,-0.7 -2.5,-0.1 -1.9,-0.9 -1.3,-3.1 -1.3,-4.5 -1.3,-3.7 -1.8,-2.7 -2.2,-2.7 -1.9,-2.7 -1.7,-3.3 -1.8,-4.2 -1.3,-3.9 -0.7,-4.9 -0.6,-5.8 -0.3,-5.7 -2.6,-2.8 -3.9,-4.3 -3.3,-4 -2.6,-3.9 -2.8,-4.6 -1.7,-4.5 -0.2,-5.7 0.5,-6.9 0.3,-5.2 -0.5,-2.7 -0.7,-2.8 -0.4,-2.6 0.6,-3.6 1,-4.5 0,-3.3 -2.2,-1.9 -3.3,-1.4 -2.6,-1.6 -1.4,-2.2 -1,-2.9 -0.8,-3 -0.5,-4.1 -0.4,-5.2 -0.8,-3.7 -2,-1.5 -2.6,-0.7 -1.9,-1 -0.3,-2.5 0.1,-3.4 -0.4,-2.2 -2.2,-0.2 -3.2,0.5 -2.1,-0.3 -0.3,-2.5 0.3,-3.9 0,-3.4 -0.7,-3 -1.2,-3.4 -1.3,-3.3 -1.8,-4.4 -2.3,-5.4 -2.4,-4.8 -3.1,-4.8 -3.8,-5.4 -2.9,-4.4 -1.6,-3.4 -1.5,-3.4 -1.7,-3 -2.9,-3 -3.8,-3.4 -3.1,-3.3 -2.4,-4 -2.4,-4.9 -1.7,-4.1 -1.3,-3.5 -1.1,-3.9 -0.2,-4 1.6,-5.5 2.6,-6.9 1.7,-5.4 0.1,-3.2 -0.5,-3.3 -0.3,-3.3 0.3,-5.7 0.4,-7.5 0,-6.2 -1.3,-4.7 -1.9,-5 -0.7,-5 1.6,-7.7 2.9,-9.6 2.6,-7 2.2,-2.3 2.8,-1.9 1.5,-2.3 -1,-4.6 -2.2,-6 -1.6,-4 3.4,2.5 5.2,3.7 4.3,3.5 3.3,3.5 3.4,4.2 3.1,3.7 3.6,3.9 4.2,4.4 3.5,3.1 2.8,1.2 3,0.6 2.4,-0.2 1.5,-2.1 1.4,-3.1 1.9,-1.3 4,2.5 5.4,4.7 3.6,4.1 0.5,3.8 -0.7,4.4 0.2,3.2 2.5,1.9 3.8,1.6 3.5,1.4 3.6,1.5 4.3,1.8 3.4,1.6 2.9,1.8 2.9,2 1.7,2 -0.2,2.4 -1.1,2.8 -1.3,1.9 -1.6,0.2 -2,-0.5 -1.3,0.3 0.1,2.1 0.7,3.3 0.2,2.8 -0.9,2.5 -1.5,2.9 -0.9,2.7 -0.1,2.9 0.2,3.5 0.6,3.3 1.3,3.9 2,4.7 1.6,4.4 1.5,5 1.7,5.9 1,5.3 -0.2,5.3 -0.7,6 -0.1,5 1.2,4.2 1.9,4.6 1.8,4.2 2.2,5.1 2.6,6 1.7,5.1 0.1,4.5 -0.4,4.8 0.3,3.7 2.4,2.2 3.5,1.9 2.2,2.4 -0.2,4.3 -1.1,5.6 -0.3,4.7 1.6,3.9 2.7,4.2 2.2,3.2 1.7,2.3 1.8,2.1 1.3,2.1 0.6,2.4 0.4,3 0.7,2.8 2.2,5 3,6.4 2.9,4.8 3.1,2.3 3.6,1.8 3,2.4 2.7,5.7 3,7.8 2.4,6 2,3.6 2.2,3.4 2.3,2.7 2.7,2.3 3.4,2.3 3.7,1.9 6.2,2.2 7.9,2.4 6.9,0.8 -1.8,2.7 -2.7,4 -2,4 -1,4.5 -0.6,5.4 0,4.7 1,4.4 1.9,4.8 2,3.8 2.6,2.9 3.4,2.8 3.7,2.4 5.7,2.4 7.3,2.8 4.9,2.9 0.9,3.9 -0.7,4.8 -0.2,4.3 0.9,4.4 1.5,5.1 2.4,3.5 4.7,1.1 6.5,0.3 5.1,1.2 3.7,3.7 3.6,5.3 2.4,4.6 0.9,4.4 0.2,4.9 0.5,3.7 1.7,2.7 2.2,2.5 1,1.3 -1.3,-0.9 -2.6,-1.9 -2.6,-0.4 -4.6,3.5 -5.9,5.7 -4.1,5.4 -1.5,5.7 -0.4,6.8 0.3,5.3 1,3.8 1.7,3.5 2.1,2.5 3.2,1.5 4.3,1 3.9,0.1 4.8,-1.9 5.6,-2.9 2.6,-1.1 -3.5,2.9 -6.4,5 -3.1,3.5 4.4,0.8 7.9,-0.2 5.6,0.4 0.6,1.8 -0.7,2.8 0.1,2.5 4,3.9 5.9,5.1 4.7,4 2.7,2.8 2.6,2.9 2.8,2.4 4.8,2.5 6,2.8 3.8,2.2 0.1,1.8 -1.4,1.9 -2,0.8 -3.7,-1.7 -4.8,-2.8 -2.8,-1 1,2.7 2.8,4.7 2.7,4 2.5,3.2 3,3.6 1.9,2.9 -0.1,2.6 -0.9,2.9 0.1,2.6 2.2,3.2 3.6,3.8 3.9,2.8 5.8,1.5 7.3,1.2 4.8,1.5 1.3,3.3 -0.3,4.3 -1.7,2.1 -5,-2.7 -7.1,-4.8 -3.5,-2.2 3.4,3.5 7,6.3 5.9,5.5 4.3,4.2 4.7,4.6 4,4.1 4.2,4.4 4.8,5.3 3.9,5 3.3,6.1 3.5,7.4 3,5.9 3.2,4.4 3.6,4.5 2.9,4.1 2.1,5 2.1,6.1 2.3,5.2 3.7,5.2 4.6,5.7 3.1,3.7 0,3.5 507.2,0 0,-5.7 0.6,-6.8 1,-10.3 1,-8.9 1.4,-7.4 1.8,-8.2 1.7,-7.1 2,-7.3 2.4,-8.4 2.1,-7 2,-6.5 2.4,-7.1 2,-5.9 2,-5.4 2.3,-5.7 2.2,-5.1 2.6,-5.3 3.1,-6 2.5,-5 1.8,-4.3 1.8,-4.6 1.2,-4 0.6,-4.5 0.3,-5.1 0.1,-3.4 -0.4,-2.4 -0.7,-3.7 -0.8,-3.7 -1.1,-4.7 -1.4,-6 -1.4,-5.5 -1.6,-6.1 -1.9,-7.3 -1.4,-6.1 -0.9,-5.4 -0.8,-5.7 -0.6,-5.1 -0.6,-5.3 -0.5,-6 0.1,-5 1.2,-4.3 1.9,-4.6 1.8,-4 1.9,-4.2 2.4,-4.8 2.2,-4 2.5,-3.7 3,-4.1 2.6,-3.6 2.6,-3.7 2.9,-4.3 2.6,-3.4 2.5,-2.8 2.9,-2.9 2.8,-2.4 3.5,-2.2 4.2,-2.3 3.6,-2 3.1,-2 3.4,-2.3 3.3,-2.2 3.9,-2.5 4.8,-3 4.2,-2.6 4.1,-2.6 4.8,-3 4.1,-2.5 4.1,-2.1 4.8,-2.3 4.1,-2.1 4.1,-2.4 4.8,-3 4.1,-2.7 4.3,-3 4.9,-3.7 3.8,-3 2.4,-2.8 2.2,-3 1.9,-2.4 2,-1.7 2.2,-1.6 2.3,-1.5 3,-1.9 3.7,-2.4 3,-2.2 2.2,-2.5 2.1,-3.1 2.2,-2.5 2.8,-2.2 3.6,-2.3 3.4,-2 3.9,-1.9 4.8,-2 4.2,-1.7 4.2,-1.7 4.8,-2 4,-1.4 3.4,-0.9 3.5,-0.7 2.9,-0.7 2.6,-1 2.8,-1.3 2.7,-1 3.4,-0.6 4.1,-0.6 3.8,-0.4 4.1,-0.3 4.9,-0.3 4,0 3.2,0.2 3.4,0.5 3.2,0.6 4,1.1 5,1.6 4,1.5 3.2,1.6 3.4,1.8 3.1,1.4 3.9,0.9 4.5,0.9 2.9,0.5 3.4,0.1 5.2,0.2 4.4,-0.3 3.7,-1.4 4,-2Z" fill="#efefdb"/>
<path d="M2672.1,236.5l1.2,1.2 1.4,2.6 1.1,2.8 0.4,3.7 0.3,4.6 0.8,3.3 2,1.4 2.9,0.8 2.4,0.8 2,1.4 2.1,1.7 1.7,1.3 1.6,0.8 1.6,0.6 1.2,0 0.4,-1.2 0.2,-1.9 0.8,-1.3 3.5,-0.7 5.2,-0.4 4.5,-0.3 3.9,0.1 4.2,0.2 3.6,-0.3 3.3,-1.3 3.6,-1.9 3.3,-1.9 3.6,-2 4.3,-2.5 3.8,-2.1 3.8,-2.1 4.3,-2.2 3.6,-1.6 3.5,-1 3.7,-0.6 2.3,0.2 0.1,1.7 -1,2.9 -1.3,2.7 -2.1,3.2 -2.8,3.9 -2.4,3.1 -2.2,2.1 -2.4,2 -1.3,1.8 0.3,2.4 1.3,2.9 1.4,2 1.9,0.7 2.5,0.3 1.4,0.4 -0.3,1.2 -1.1,1.8 -1.5,1.4 -2.5,1.6 -3.5,1.7 -2.8,1.1 -2.1,0 -2.1,-0.5 -1.6,-1 -1.1,-2.1 -1,-3 -0.8,-2.2 -0.9,-1.3 -1.1,-1.1 -1,-0.5 -1.1,0.5 -1.3,1.2 -0.5,1.2 1.2,1.3 2,1.7 1.2,1.4 -0.2,1.5 -0.9,1.7 -1.1,0.5 -1.6,-1.4 -2,-2.7 -1.5,-2.5 -0.6,-3.1 -0.3,-3.8 -0.6,-1.9 -1.7,1.4 -2.4,3.2 -1.7,2.7 -0.5,2.1 -0.1,2.1 -0.9,1.7 -2.8,1.3 -4.1,1.1 -3.3,0.5 -2.5,-0.5 -2.6,-1.1 -2.2,-1.3 -2,-1.9 -2.1,-2.5 -1.8,-1.5 -1.8,0 -2.1,0.7 -1.9,0.8 -2.3,1.1 -2.8,1.4 -2.2,0.4 -1.5,-1.9 -1.5,-3.1 -1.4,-2.3 -1.7,-0.9 -2.1,-0.4 -2,-0.2 -2.4,0.3 -2.9,0.6 -2,-0.1 -0.9,-1.6 -0.5,-2.5 -0.1,-2.5 0.3,-2.7 0.6,-3.2 0.6,-2.9 0.8,-2.8 1.1,-3.3 1,-2.6 1.1,-2.6 1.3,-2.7ZM405.8,1455.8l1.3,-1.5 2.5,-0.4 2.1,0.3 1.9,1.5 2.1,2.4 1.5,2.5 0.6,3.1 0.3,3.8 0.7,2.9 2.2,1.5 3.1,1.3 1.9,2.1 0.3,5.7 -0.6,7.7 -1,4.4 -2,-1.4 -2.9,-4.2 -2.6,-4.1 -2.7,-3.9 -3.1,-4.8 -2.3,-4.3 -1.6,-4.9 -1.3,-5.8ZM464.3,1491.5l3.2,-1.3 4.3,-0.5 2.9,0.8 0.8,3.5 -0.1,5.5 -0.7,5 -1.7,5.5 -2.8,6.2 -2.7,3.5 -3.8,-1.3 -4.7,-3.9 -2.8,-3.5 0.4,-3.1 2,-3.6 1.8,-3.1 1.1,-3.4 1.2,-3.7ZM144.5,1411.9l1.9,-1.1 2.7,0.1 1.9,1 0.8,2.6 0.3,3.8 -0.2,3.4 -1.1,3.4 -1.7,3.7 -1.4,2 -1.2,-0.8 -1.2,-2.5 -0.8,-2.6 -0.4,-4.1 -0.1,-5.3ZM290.6,1521.7l2.2,-4.5 4.2,-5.7 3.3,-3.8 1.5,-0.5 1.7,0.4 1,1.1 0.1,4.3 -0.3,6.3 -0.7,4.7 -1.2,2.3 -1.8,1.9 -1.9,0.6 -2.9,-1.4 -3.6,-2.7ZM2335.2,1651.6l3.3,2.9 5.8,4.4 5.5,2.4 5.2,-1.4 6.4,-3.3 6.3,-3.4 9,-4.1 11.2,-5.1 7.4,-3.8 1,-1.7 0,-2.2 -1,-1 -5.7,1.5 -8.5,2.8 -6.9,2.2 -4.7,1.5 -4.7,1.3 -3.6,0.5 -2.6,-1.6 -2.3,-2.5 -1.6,-0.8 -0.5,3 -0.2,4.9 -0.9,3.5 -3.2,1.2 -4.6,0.4 -3.6,0 -2.9,-0.7 -2.9,-1ZM2388.8,1625.6l1.6,-1.5 3.1,-2 3.4,-1.4 4.7,-0.6 6.1,-0.1 5.4,0.7 5.2,2.6 6,4 5.1,3.2 5,2 5.5,2.1 4.1,2.3 2.9,3.8 2.4,5 1.2,4.2 -1.1,3.5 -2.3,3.9 -1.5,4 0.6,6 1.3,7.4 -0.3,4.5 -4.4,-0.1 -6.4,-2.3 -3.8,-2.5 1.4,-2.7 3.8,-3.6 2.9,-3.5 1.1,-3.9 0.7,-4.8 -0.2,-4.2 -1.2,-4.1 -2.2,-4.8 -3.1,-4.1 -5.3,-4.5 -7.3,-5.2 -6.8,-3.3 -7.6,-0.6 -8.9,0.7 -6.3,0.5 -2.1,0 -2,-0.1ZM2398.5,1736l1.8,-0.9 3.3,-0.2 3,0.4 2.7,1.3 3.1,2.1 2.3,2.1 1.1,2.4 0.8,3.1 1.4,2.7 4.8,4.4 6.7,5.6 4.7,4.6 1.9,3.6 0.9,3.9 -0.5,3.8 -3,5.1 -4.8,6.1 -4.2,3.4 -3.7,-1.4 -4.2,-3.8 -3.5,-2.9 -3.2,-0.8 -3.5,-0.3 -3,-0.5 -3.7,-1.5 -4.1,-2.1 -2,-1.9 2.3,-1.6 4.6,-1.8 2.9,-2.5 -0.5,-4.8 -1.8,-6.5 -1,-4.9 0.9,-2.3 1.6,-2.1 0.8,-2.1 -1.5,-3.2 -2.4,-3.8ZM2424.5,1792.8l4.5,-2.6 7.4,-2.6 5.9,-1.3 3.7,1 3.4,2.4 2.7,3.1 2.5,5.2 2.5,7.1 1.5,5.5 0.2,3.7 -0.5,3.6 -1.4,2.5 -3.4,1.3 -4.9,0.7 -3.7,-0.4 -1.6,-2.4 -1.2,-3.8 -1.4,-3.5 -2.9,-3.6 -3.7,-4.3 -3.1,-3.5 -3,-2.8 -3,-2.9ZM2437.5,1736l2.9,-1.7 4.7,-2.1 3.7,-1.1 2.8,0.5 2.6,1.4 1.1,1.4 -1.7,1.8 -3.4,2.2 -3,1.5 -2.6,0.4 -2.8,0 -2.1,-0.4 -1.4,-1 -1,-1.5ZM2478.1,1693.1l3.4,1.4 5.1,3.3 4.4,2.5 4,0.6 4.7,0.2 4.3,0.8 5.4,2.4 6.4,3.5 4.5,3.8 1.8,5.3 0.9,6.9 0.5,5.7 1,5.5 1,5.9 -0.4,3.2 -3.9,-1.4 -5.7,-3.7 -3.4,-3 1.2,-1 3.2,-0.7 2.1,-1.6 0.2,-4.6 -0.6,-6.4 -1.8,-5.2 -4.2,-3.6 -6,-3.5 -5.4,-2.6 -5.4,-1.7 -6.2,-1.4 -4.7,-0.8 -3.1,0.3 -3.1,0.6 -1.9,-0.3 -0.4,-3.2 0.6,-4.6ZM2546.2,1734.4l1,-1.4 2.9,-0.3 2.6,0.7 3.7,3.6 4.8,5.5 4.5,4.8 5.8,4.4 6.9,4.9 3.5,3.7 -2.8,2.9 -6,2.6 -4.1,1 0.4,-1.7 1.9,-3.3 0.3,-3.1 -3.6,-3.4 -5.6,-4.2 -4.8,-3.8 -4.3,-4.4 -4.6,-5.1ZM2625.8,1752.2l1.8,-1.1 2.7,-0.7 2,0.2 0.7,1.6 0.3,2.6 -0.1,2.3 -0.8,2.4 -1.3,2.6 -1.1,1.5 -1.1,-0.3 -1.2,-1.4 -0.9,-1.6 -0.7,-2.5 -0.5,-3.3ZM2546.2,1802.5l2.4,-0.5 3.7,0 3.7,0.5 5.2,2.1 6.3,3 4.1,2.4 0.2,1.5 -1.2,1.7 -1.6,0.7 -4.1,-1.1 -5.9,-2.1 -4.6,-1.7 -2.8,-0.7 -2.8,-0.7 -1.9,-0.8 -0.9,-1.4 -0.4,-1.7ZM2586.8,1791.2l2.4,1.7 3.9,3 3.5,3.4 4.4,5.9 5.5,7.8 4.7,5.8 4.4,2.6 4.9,1.9 3.7,2 2.9,4 2.5,4.9 0.4,2.4 -3.8,-2.5 -6.4,-5 -5.4,-3.8 -4.9,-1.5 -5.2,-1 -2.9,-0.8 1.4,-0.7 3.5,-0.8 1.6,-1.7 -2.6,-4.1 -4.7,-5.8 -4,-4.7 -3.2,-3.6 -3.3,-3.6 -2.3,-2.6 -0.8,-1.3 -0.5,-1.5ZM2659.9,1828.5l4.1,0.3 6.6,1.2 5.5,0.8 4.6,-0.9 4.8,-1.3 3.6,-0.1 2.4,2.7 1.9,4.5 0.6,4.2 -1.2,4.4 -2.4,5.4 -2.9,4.8 -4.7,5.8 -6.1,6.6 -3.8,3.8 -0.2,-1.1 1.6,-3.5 1.8,-3.5 2.9,-4.4 3.9,-5.6 2.9,-4.6 1.8,-3.6 1.4,-3.8 0.1,-2.4 -2.2,-0.5 -3.7,0.3 -3.8,0.2 -5.2,-0.2 -6.5,-0.5 -4.6,-0.9 -2.4,-2.5 -1.3,-3.4ZM2734.5,1834l4.4,-0.8 6.5,-0.5 5.4,0 4.3,0.8 4.3,1.3 2.7,1.2 0.4,1.3 -0.7,1.7 -1.3,0.9 -3.5,-0.3 -5,-0.9 -4.5,-0.5 -4.5,0.6 -5.1,0.9 -3.4,0.2 -1.2,-1.6 0,-2.5ZM2793,1857.7l3.8,-0.6 5.7,0 3.5,0.6 -0.5,1.8 -2.2,2.8 -2.2,1.9 -2.1,0.9 -2.6,0.4 -1.8,-0.3 -1.2,-2.1 -0.9,-3.2ZM2810.8,1844.7l2.3,-0.2 4.4,0.8 3.1,1.1 0.9,2.2 0,3 -0.9,1.3 -3.1,-2 -4.4,-3.7ZM2755.6,1890.2l1.5,-1.5 2.7,-1.3 2.3,-0.5 1.8,1.1 1.8,2 0.7,1.8 -1.3,1.9 -2.5,2.1 -2.1,0.9 -2,-1.5 -2,-2.8ZM2728.1,1927.5l2.3,-3.3 3.7,-3.5 3.7,-2.3 4.6,-0.5 5.6,0.3 4.4,-0.4 3.2,-2.2 2.9,-3.3 2,-2.6 0.7,-1.9 0.4,-2 0.5,-1 1.1,0.8 1.4,2 0.8,2.1 0,3.3 -0.4,4.4 -0.6,3.6 -0.7,2.9 -1.2,3 -2,2.3 -4.5,1.9 -6.3,1.9 -5.4,1.7 -5.1,2.2 -5.7,2.4 -3.8,0.6 -1.6,-3 -0.5,-5.1ZM2116,1940.5l5.4,-3 8.3,-4.5 7.4,-3.8 7.2,-2.8 8.3,-2.8 7.3,-2.6 7.4,-3.2 8.5,-3.7 6.8,-2.8 5.3,-1.7 5.4,-1.3 5.5,-0.9 9.9,-0.4 12.7,-0.1 9.9,-0.5 6,-1.5 5.9,-2.2 4.3,-1.1 2.3,1.2 2,2.4 2.2,1.2 3.6,-1 4.8,-2 4.6,-1.8 5.7,-1.5 6.9,-1.7 5.3,-0.7 2.8,1 2.6,2 2.7,1.5 3.9,0.9 4.8,0.9 4.3,0.2 4,-0.9 4.7,-1.5 4.3,-0.9 5.1,0.3 6.1,0.9 5,1.1 4,1.8 4.1,2.4 3.3,2.3 2.6,2.5 2.7,3 2.8,2.6 3.9,2.5 5,2.7 4.1,1.9 3.1,1.1 3.3,0.8 3.3,0.1 6.6,-1.7 8.7,-2.6 7.4,-1.6 6.2,0.4 6.8,1.3 6.5,1.6 8.2,2.3 9.9,3.1 7.9,2.7 6.2,2.8 6.1,3.2 3.9,2.1ZM2406.6,1909.7l4.5,-1.3 8.2,-1.4 6.8,-0.6 4.5,1 4.6,2 3.9,1.9 4.1,1.9 4.8,2.3 4.1,2.3 4.1,3 4.8,3.6 4.1,2.5 4.5,0.4 5.2,-0.3 3.3,0.5 0.9,3 -0.3,4.3 -1.3,2.5 -3.2,-0.6 -4.8,-2.1 -4.3,-2.2 -4,-2.4 -4.6,-3 -4.4,-2.7 -5,-2.7 -6,-3.1 -5.3,-2.3 -5.3,-1.3 -5.9,-1.1 -5,-0.9 -5.3,-1 -5.6,-1.2ZM553.5,1871.2l1.5,-0.9 2.7,1 2.3,1.6 2.4,2.8 2.7,4.2 1.4,4.3 -0.8,5.8 -2,7.2 -2.1,4.9 -2.6,2 -3.4,0.9 -2.1,-1.3 -0.7,-9.3 0.1,-13.9ZM464.3,1644l1.7,-1.4 2.4,-1 1.7,0.7 1.2,6 0.9,9 0.2,6.1 -1.1,0.6 -2.1,-0.8 -1.7,-1.4 -1.4,-2.7 -1.6,-3.8 -0.9,-3.2 -0.2,-2.9 0.2,-3ZM488.6,1715.4l1.3,-3.9 2.8,-6.3 2.4,-4.4 2,-0.7 2.3,0.4 1.2,0.9 -1.1,2 -2.3,3 -2.1,2.5 -2.4,2.8 -2.8,2.9ZM509.1,1767.3l1.8,-0.2 3.1,1.5 2.2,2 1.1,3.5 0.7,4.7 -0.1,3.1 -1.5,0.5 -2.3,-0.7 -1.8,-1.4 -1.5,-3.9 -1.4,-5.6ZM547.1,1823.5l0.8,-0.5 1.4,0.3 1,0.9 1,3.8 1,5.4 0.3,3.7 -1,0.8 -1.7,0 -1.2,-0.8 -0.8,-3.9 -0.6,-5.8ZM234.6,179.5l3.6,3.1 5.5,4.6 4.5,3.9 3.4,3 3.5,3.2 3.1,2.8 3.2,3 3.7,3.3 3.2,2.8 3.1,2.7 3.3,2.7 2.6,1.6 1.9,-0.4 1.7,-1.5 1.4,-1.1 1.3,-0.5 1.4,-0.4 1.3,-0.1 1.4,0.8 1.6,1.1 1.1,0.1 0.5,-2.5 0.2,-3.9 -0.2,-2.7 -1,-0.5 -1.5,0 -1.1,-0.5 -0.8,-2.2 -0.7,-3.4 -0.5,-3.4 -0.4,-5 -0.4,-6.4 -0.2,-4.2Z" fill="#efefdb"/>
<path d="M1642,424.4l2.6,-8 2.8,-11.3 2.8,-8.1 3.4,-2.6 4.6,-1.4 4.1,-2.1 4.6,-5.3 5.4,-7.2 4.2,-5.8 2.8,-4.1 2.7,-4.2 2.7,-2.8 3.7,-1.1 4.5,-0.3 3.9,0.3 3.4,1.3 3.6,2.2 3.2,1.6 3.1,0.9 3.5,0.6 3.5,0.5 5.8,0.5 7.6,0.4 6.9,0.2 7.5,-0.5 8.6,-0.7 6.2,0.1 2.7,2 1.9,3.2 1.5,3 1.7,3.1 1.8,3.7 1.6,3.3 1.6,3.2 1.8,3.7 1.7,3.2 1.8,3.1 2.2,3.4 2.1,2.7 2.4,2.2 2.9,2.3 2.8,1.6 3.1,1 3.7,0.7 3.3,0.3 3.2,-0.4 3.6,-0.8 3.4,-0.8 3.9,-0.8 4.5,-0.9 3.7,-0.4 3.2,0.2 3.2,0.6 1.8,1.3 -0.7,3.1 -2,4.3 -1.4,3.7 -0.5,3.1 -0.2,3.4 0.7,2.7 2.7,2 4,2.1 3.5,1.9 3.4,2.4 3.6,2.9 2.1,2.9 -0.6,3.8 -2,4.6 -1.5,3.7 -0.7,2.5 -0.6,2.6 0.3,2 2,1.5 3.2,1.5 2.9,1.1 3.2,0.5 3.8,0.5 2.2,1 -0.4,2.6 -1.7,3.6 -1,3 0.1,2.2 0.6,2.2 1.3,1.6 3.5,1 5,0.8 3.7,1.3 2.1,3 1.7,3.9 0.3,2.2 -1.9,-1.3 -3.3,-2.9 -2.9,-1.9 -2.5,0.2 -3,1 -2.7,0.9 -3.1,0.7 -3.7,0.7 -3.3,0.6 -3.5,0.6 -3.9,0.6 -2.7,-0.2 -0.8,-1.7 -0.1,-2.7 -0.2,-2.7 -0.6,-3.4 -1,-4.1 -1.4,-2.6 -2.8,-0.2 -3.9,1 -3.5,1.2 -3.2,1.5 -3.6,2.1 -3.3,1.5 -3.8,0.8 -4.6,0.7 -3.8,0.5 -3.3,0.5 -3.6,0.7 -3.2,0.8 -3.3,1.4 -3.8,1.9 -3.1,1.8 -2.7,2.3 -2.9,2.7 -2.5,2.1 -2.5,1.3 -2.9,1 -2.7,0.7 -3.1,0.1 -3.7,-0.1 -3.3,0 -3.3,0.4 -3.8,0.6 -3.1,0.1 -2.7,-0.6 -2.9,-1.1 -2.5,-1.4 -2.6,-2.3 -3,-3.1 -2.5,-2.7 -2.2,-2.8 -2.4,-3.1 -2.5,-2.2 -3.3,-1.1 -4.2,-0.6 -3.7,-0.4 -3.7,-0.6 -4.2,-0.6 -3.3,0.2 -2.6,2.4 -2.6,3.3 -1.9,1.4 -1.4,-3 -1.2,-5.2 -0.4,-3.9 1.1,-1.7 2.1,-1.1 1.9,-1.3 2,-2.3 2.5,-2.9 2.6,-2.9 3.5,-3.6 4.4,-4.4 3.2,-3.2 1.9,-1.5 1.9,-1.5 0.3,-1 -3,-0.6 -5,-0.5 -4.2,0.1 -3.4,0.9 -3.7,1.5 -3,1.6 -2.4,2.1 -2.5,2.6 -2.2,2.4 -2.3,2.3 -2.5,2.6 -2.3,2.2 -2.2,1.9 -2.6,2.2 -2.3,2 -2.5,2.5 -2.9,3 -2.7,2.6 -2.8,2.4 -3.4,2.6 -3,2.1 -3.2,1.5 -3.7,1.4 -3.2,1.2 -3.3,0.9 -3.8,1 -3.1,1.1 -2.7,1.8 -2.9,2.3 -2.5,2 -2.6,2 -3,2.2 -2.5,1.9 -2.1,2 -2.3,2.2 -2.7,0.9 -5.1,-1.2 -6.7,-2.6 -4.4,-2.3 -0.4,-2 1,-2.6 0.4,-2.5 -1.1,-3.5 -2,-4.2 -2,-2.5 -2.6,0.5 -3.4,1.9 -3.1,1.7 -3.2,1.2 -3.7,1.5 -3.3,1.4 -3.2,1.9 -3.7,2.3 -3.2,1.8 -3.2,1.4 -3.6,1.3 -3.4,0.4 -4.3,-1 -5,-2.1 -2.8,-2 0.7,-2.4 2.6,-3 2.7,-2.7 3.1,-2.6 3.9,-3 3.2,-2.5 2.4,-2.3 2.5,-2.5 2.2,-2.3 2.3,-2.5 2.5,-3 2.3,-2.6 2.2,-2.6 2.6,-3 2.3,-2.6 2.5,-2.6 3,-3 2.6,-2.5 2.5,-2.1 2.9,-2.1 2.7,-1.9 3.1,-2 3.8,-2.2 3.3,-1.8 3.2,-1.4 3.7,-1.3 3.2,-1.4 3.3,-1.9 3.7,-2.3 3.2,-1.9 2.9,-1.7 3.3,-1.8 2.9,-1.6 3.3,-1.2 3.9,-1.3ZM1589.3,369.6l1.3,0.7 2.4,2 2.4,1.3 3.1,-0.6 3.7,-1.2 2.3,-0.2 -0.1,2.3 -1.2,3.5 -1.7,2.3 -2.7,0.1 -3.8,-0.8 -2.7,-1.3 -1.6,-2.6 -1.2,-3.5ZM1872.3,500.2l4.2,0 7.4,1.7 6.7,1.3 6.3,0.3 7.5,0.2 6.5,-0.1 6.6,-0.3 7.5,-0.6 6.2,-0.5 5.3,-0.7 5.7,-0.8 5.2,-0.5 5.8,-0.1 6.7,0 5.8,0.1 5.5,-0.1 6,-0.1 4.7,0.2 3.4,1.2 3.3,1.7 3.4,1.1 5.6,-0.1 7.1,-0.7 5.6,-0.2 3.7,0.5 3.6,1.1 2.9,1.4 2.7,2.6 2.9,3.6 2.5,3 2.4,2.7 2.8,2.9 2.9,2.5 4.5,2.3 5.6,2.4 4.1,2.4 1.8,2.7 1.2,3.4 1.1,3 1.8,3.3 2.2,3.9 2,3 2.2,2.2 2.6,2.2 2.3,1.7 2.5,1.4 2.8,1.3 1.8,1.3 0.4,1.8 -0.4,2.1 -1,1.2 -2.4,-0.7 -3.5,-1.5 -3.2,-0.9 -3.8,0.4 -4.3,1.2 -2,1.5 2.4,2.5 4.6,3.5 3.1,3.1 0.4,3.2 -0.8,3.7 -1.6,2.3 -3.3,0.3 -4.8,-0.6 -4.1,-0.8 -3.4,-0.8 -3.6,-1.1 -3.2,-1.1 -3.4,-1.6 -3.8,-1.8 -2.9,-0.7 -2,2.1 -1.7,3.4 -1.4,1.6 -1.1,-2.3 -1,-4.2 -0.9,-3.6 -0.9,-3 -1,-3.2 -1.2,-1.9 -2.1,0.3 -2.7,1.2 -2.3,0.5 -2.1,-1.3 -2.3,-2.4 -1.7,-2.4 -1,-3.2 -0.8,-4.1 -1.2,-2.8 -2.5,-1 -3.5,-0.2 -3.1,0.2 -3.8,0.6 -4.4,1 -2,1.4 2.4,2.4 4.8,3.1 4,2.6 2.5,1.6 2.4,1.6 2.2,1.9 2.4,3.2 2.8,4.3 1.9,3.6 0.9,3 0.3,3.2 -0.2,3 -1.3,3.5 -2,4.2 -1.8,3.4 -1.7,2.7 -1.9,2.9 -1.4,2.6 -0.9,3.1 -0.7,3.7 -0.5,3.3 -0.5,3.2 -0.4,3.8 -0.1,3.2 0.5,3.2 0.8,3.7 0.7,3.2 0.7,3.2 0.7,3.6 0.7,3.3 0.8,3.8 0.9,4.5 0.3,3.9 -0.5,3.7 -1.1,4.1 -1.4,3.4 -2.3,3.1 -3.2,3.3 -2.7,2.7 -2.3,2.6 -2.6,2.8 -2.2,1.7 -2.3,0.3 -2.6,-0.6 -2.2,-0.7 -2,-0.9 -2.2,-1.4 -1.8,-1.8 -1.5,-2.9 -1.4,-3.8 -1.2,-3.4 -1,-3.2 -1,-3.8 -1,-3.2 -1.2,-3.2 -1.5,-3.7 -1.4,-3.2 -1.5,-3.3 -1.8,-3.8 -1.8,-3 -2.4,-2.7 -3,-2.7 -2.7,-1.7 -2.6,-0.3 -2.9,0.4 -2.6,0.9 -2.7,1.6 -3.1,2.3 -2.3,2.2 -1.5,2.5 -1.3,3 -1.3,2.6 -1.8,2.6 -2.2,3 -2.1,2.5 -2.4,2.7 -3,2.9 -2.7,1.5 -3.1,-0.8 -3.6,-2 -2.4,-2.3 -1,-3 -0.4,-3.9 0.4,-3.2 1.8,-2.4 2.9,-2.5 2.4,-2.2 2.1,-2.5 2.3,-2.9 1.6,-2.7 0.8,-3.2 0.5,-3.9 0.8,-3.1 1.9,-2.3 2.6,-2.4 1.6,-2.4 0.1,-3.3 -0.6,-4.2 -0.5,-3.7 -0.2,-3.6 -0.3,-4 -0.6,-3.5 -1.4,-3.4 -2,-3.7 -1.6,-3.1 -1.3,-2.8 -1.3,-3 -0.5,-2.3 1.2,-1.3 1.9,-1.2 1,-1.5 -0.9,-3.1 -2,-4 -2.2,-3.1 -2.9,-1.7 -3.7,-1.3 -3.5,-1 -3.8,-1 -4.6,-1.1 -3.8,-1 -3.4,-0.9 -3.7,-1 -3.1,-1.1 -2.6,-1.9 -2.9,-2.4 -2.6,-1.8 -3,-0.8 -3.7,-0.5 -3.4,-0.7 -3.8,-1.5 -4.5,-2 -3.9,-1.6 -4.2,-0.9 -4.8,-0.9 -3.2,-1.3 -1.1,-3.1 0,-4.2 1.1,-2.8 3,-0.3 4.6,0.8 4.6,0.5 6.3,0 7.9,-0.2 6.1,-0.8 4.4,-1.9 3.9,-3 1.8,-3.2 -2.3,-5 -4.2,-6.2ZM2090.5,648.3l0.4,-3.1 1.2,-3.8 1.4,-3.3 1.7,-3 2.2,-3.3 2.2,-2.8 2.5,-2.6 3,-2.9 2.6,-2.6 2.5,-2.7 2.9,-3.1 2.7,-2.3 3.1,-1.5 3.8,-1.4 3.3,-1.2 3.2,-1.2 3.7,-1.5 3.2,-1.3 3.2,-1.6 3.6,-1.8 3.4,-1.7 3.9,-1.7 4.5,-2 3.7,-1.4 2.8,-0.8 2.9,-0.5 2.5,-0.7 2.8,-1.1 3.2,-1.5 2.1,-1.5 0.2,-1.9 -0.6,-2.3 0.4,-1.9 2.6,-1.7 4,-1.8 3.5,-1.5 3.5,-1.8 4.1,-1.8 2.6,-0.5 0.4,2.2 -0.5,3.8 0.1,3.1 1.6,2.5 2.4,2.6 2.1,1 2.3,-1.7 2.5,-3.3 1.2,-3.1 -1.7,-3 -3,-3.6 -1.3,-2.5 2.3,-1 4.1,-0.4 3.7,-0.7 3.2,-1.6 3.7,-2.3 3.2,-2.1 3.3,-2.2 3.8,-2.7 3.1,-2.2 3.2,-2.7 3.5,-2.8 1.4,-0.6 -2.7,4 -4.7,6.6 -2.7,5.6 1.9,4.3 3.8,4.5 2.4,3.4 -0.9,2.2 -2.1,2 -1.1,1.9 1.5,2.4 2.7,2.9 1.9,2.8 0.9,3.2 0.5,3.9 -0.4,3 -2.3,2.1 -3.7,2 -3.1,2 -2.6,2.8 -2.9,3.5 -2.6,2.8 -2.6,1.9 -2.9,1.8 -2.6,1.4 -2.5,1.4 -2.9,1.5 -2.8,1.2 -3.7,1 -4.5,1.1 -3.9,0.9 -3.4,1.1 -3.6,1.3 -3.2,0.7 -3.2,-0.1 -3.7,-0.5 -3.2,-0.4 -3.2,-0.1 -3.8,0 -3.2,0.1 -3.2,0.2 -3.7,0.3 -3.2,0.5 -3.2,0.8 -3.8,1.1 -3.2,1.1 -3.2,1.3 -3.7,1.5 -3.2,1.3 -3.4,0.9 -3.9,1 -2.9,1.1 -1.6,1.9 -1.3,2.4 -1.1,1.8 -1.2,0.9 -1.5,0.6 -1.4,0.5 -2.9,1.3 -3.8,1.7 -3.4,1.1 -3.4,0.5 -3.9,0 -2.9,-0.5 -2.1,-1.7 -1.9,-2.7ZM2026.5,479.9l3,-0.6 5.3,-0.7 3.9,-0.8 0.9,-1.3 0.3,-1.9 0.8,-1.4 3.3,-1.3 4.8,-1.3 4.1,-0.9 3.5,-0.3 3.8,0 2.9,0.3 2.4,1 2.2,1.6 1.1,1.5 -0.4,1.7 -1.4,1.9 -1.9,1.4 -3.6,0.5 -4.8,0.3 -3.8,0.3 -2.3,1 -2.2,1.3 -1.6,0.7 -0.7,-0.8 -0.5,-1.4 -0.8,-0.8 -2.8,0.5 -4,1 -3.3,0.5 -3.3,-0.4 -3.6,-0.8ZM2091.5,565.1l0.7,0.8 1,2.9 1.3,2.4 2.2,1.6 2.9,1.8 2,1.6 0.7,1.9 0,2.2 -0.7,2 -2.3,1.9 -3.3,2.3 -2.5,1.9 -1.3,2.3 -0.9,2.6 -0.8,1.2 -0.7,-1.3 -0.7,-2.6 -0.7,-2.2 -1.1,-1.3 -1.4,-1.4 -0.5,-1.3 1.3,-1.6 2.2,-2.1 1.6,-2.4 0.5,-4.4 0.2,-5.5ZM1778,547.2l3.9,-3.5 5.2,-5 5.1,-3.7 6.5,-2 7.9,-1.5 5.9,-1.5 2.8,-2.4 2.4,-3.1 3,-1.6 6,1.1 8,2.4 6.2,1.5 3.4,-0.3 3.4,-0.9 3.4,-0.8 5.7,-0.7 7.5,-0.7 7.1,-0.6 8.8,-0.7 10.6,-0.7 7,0.4 2.1,2.8 0,4.3 -2.1,3 -9,1.8 -13.4,1.5 -10.1,0.8 -4.4,-0.6 -4.4,-1.2 -3.4,-0.3 -3,1.3 -3,2.3 -2.1,2.5 -1.1,3.6 -0.6,4.7 -0.3,3.9 0.2,3 0.3,3.1 -0.7,2.6 -3.5,2.5 -5.1,2.8 -3.6,2.8 -1.1,3.8 -0.2,4.6 -0.7,3.8 -2.2,3 -3.1,3.1 -2.8,2 -2.6,0.6 -3,0.1 -2.6,0.4 -2.7,1.5 -3.1,2.3 -2.3,2.2 -1.2,2.7 -0.9,3.3 -0.9,3.2 -1.3,3.5 -1.6,4.3 -1.2,4.3 -0.7,5.6 -0.5,7 -0.8,5.7 -1.7,4.1 -2.2,4.2 -1.2,3.9 0.7,5.1 1.5,6.2 0.9,4.9 -0.8,3.6 -1.6,3.5 -0.7,3.1 0.9,3.2 1.6,3.7 1.6,3.2 1.5,3.3 1.9,3.7 1.6,3.2 1.6,2.9 1.9,3.2 1.6,3 1.7,3.4 2,4 1.4,3.7 0.6,3.9 0.2,4.5 0.2,3.8 0.4,3.2 0.5,3.6 0.1,3.4 -0.4,4.3 -0.7,5.3 -0.9,4.6 -1.5,4.6 -1.9,5.2 -1.7,4.4 -1.3,4.1 -1.3,4.4 -1.4,3.7 -1.8,3.5 -2.2,3.7 -2.1,2.9 -2.4,2.2 -2.9,2.1 -2.8,1.8 -3.1,2.1 -3.7,2.4 -3.4,1.6 -3.6,0.9 -4.2,0.4 -3.3,-0.3 -2.6,-1.6 -2.5,-2.7 -2.1,-2.8 -1.9,-3.6 -2.1,-4.6 -2,-4 -2.7,-3.7 -3.2,-4.3 -2.3,-4.2 -1,-5.4 -0.5,-6.8 -0.5,-6 -0.6,-5.8 -0.6,-6.5 -0.8,-6 -1.2,-6.6 -1.7,-7.7 -1.2,-6 -0.9,-4 -0.9,-4.1 -0.2,-4.1 1,-6 1.8,-7.5 1.3,-6.7 0.4,-6.7 0.2,-7.6 0.4,-6 1.2,-4.1 1.6,-4.1 1.2,-4 0.4,-5.6 0.2,-6.9 0.4,-5.8 1,-4.5 1.3,-4.8 0.8,-4.9 -0.6,-10.5 -0.9,-13.9 0.5,-10.1 4,-4.2 6.1,-2.6 5.1,-3.3 4,-7 4,-9 3.2,-6.3 1.8,-1.2 2.3,-0.6ZM1952.4,754.8l0.5,-0.2 0.8,0.1 0.7,0.1 3.3,0.4 4.8,0.5 4.1,0.1 3.4,-0.9 3.7,-1.6 3,-1.5 2.8,-1.5 2.9,-1.9 2.4,-1.7 1.9,-1.9 2.1,-2.2 2.1,-2 3.1,-1.9 3.9,-2.3 3.2,-1.9 2.8,-1.8 2.9,-2.1 2.4,-2.2 2,-3 2.1,-3.8 2,-3.3 2.4,-3.4 2.9,-3.8 2.8,-3 3,-2.3 3.7,-2.2 3.4,-1.6 3.8,-1 4.5,-0.7 3.9,-0.3 3.9,0.2 4.4,0.5 3.9,0.3 4.2,0 4.6,-0.3 3.3,-0.7 1.1,-1.6 0.3,-2.4 0.7,-2.1 2.2,-2.6 3,-3.1 2.9,-2.4 3,-1.5 3.7,-1.3 3.4,-1.2 3.8,-1.6 4.5,-2 3.9,-1.5 3.9,-1.1 4.4,-1.1 3.9,-0.9 4,-1.1 4.5,-1.2 3.7,-0.7 3.5,-0.2 3.6,0.2 2,1 -0.7,2.7 -2.2,4 -2.2,3.5 -2.4,3.2 -3,3.6 -2.7,3.3 -2.6,3.9 -2.9,4.6 -2.6,3.7 -2.6,2.9 -3,2.9 -2.5,2.3 -1.9,1.8 -2,1.8 -2.2,1.5 -4,2 -5.4,2.5 -4.8,2.6 -4.6,3.7 -5.2,4.6 -4.4,3.8 -4,2.8 -4.4,2.8 -3.8,2.6 -3.9,3.1 -4.4,3.7 -3.9,3.3 -3.9,3.3 -4.5,3.8 -3.7,3.1 -3.4,2.8 -3.6,3 -3.2,2.3 -3.2,1.8 -3.6,1.8 -3.3,1.4 -3.8,1.1 -4.5,1 -3.9,1 -4,1.3 -4.6,1.6 -3.6,1.1 -2.8,0.6 -2.8,0.4 -2.5,0.1 -2.6,-0.3 -2.9,-0.6 -2.6,-0.2 -2.6,1.1 -2.9,1.6 -2.6,0.4 -2.6,-2.3 -3,-3.8 -2.6,-3 -2.8,-1.4 -3.1,-1.1 -2.2,-1.6 -1.2,-3.5 -0.7,-4.8 -0.1,-3.9 1,-3.1 1.7,-3ZM1967.6,720.3l4.5,0 6.3,0.9 4.4,1.1 1.5,1.6 0.7,2.4 -0.2,2.1 -1.3,2.2 -2.4,2.4 -2.4,1.5 -3.2,0.3 -4,-0.4 -2.9,-0.9 -1.6,-1.9 -1,-2.8 -0.5,-2.4 0,-2.3 0.6,-2.4ZM2091.4,566.1l1.3,1 1.9,2.6 1.8,2.5 2.2,2.2 2.6,2.6 1.3,2.3 -1.2,2.3 -2.6,2.5 -2.3,2.3 -2.1,2.7 -2.4,2.9 -1.6,1.5 -0.5,-1.2 -0.2,-2.6 -0.3,-2.3 -1.4,-1.7 -1.8,-1.7 -0.8,-1.7 1.2,-1.8 2.2,-2.1 1.6,-2.2 0.5,-3.5 0.1,-4.2ZM2618.1,178.8l-0.1,1.3 -0.1,2 -0.6,1.8 -1.6,2 -2.2,2.3 -2,2.3 -1.8,2.8 -2.1,3.3 -1.9,2.6 -1.8,1.9 -2,1.9 -2.1,1.3 -2.6,0.8 -3.2,0.5 -3,0.2 -3.2,0 -3.8,-0.3 -3.2,-0.4 -2.8,-0.9 -2.9,-1.1 -2.3,-0.2 -1.5,1.7 -1.5,2.8 -1.4,2.1 -2,0.9 -2.4,0.7 -2.2,0.5 -2.3,0.5 -2.6,0.6 -2.4,1.1 -3.6,3.6 -4.3,5 -2.3,3.1 1.3,0 3.2,-1.5 2.8,-1.4 2.1,-1.4 2.5,-1.8 2.7,-1.2 4.3,-0.5 5.7,-0.2 4.6,0 3.6,0 3.7,0.2 2.9,0.5 2.1,1.4 2.1,1.9 1.7,1.8 1.9,1.8 2.1,2.1 1.8,1.2 1.7,-0.1 1.9,-0.8 1.5,-1.2 1.6,-2.7 1.9,-3.8 1.7,-3 1.9,-2.2 2.1,-2.1 1.8,-1.6 1.6,-1.1 1.6,-0.8 1.2,-0.3 0.2,1 -0.1,1.7 0.6,1 3.2,-0.2 4.6,-0.9 3.2,-1.1 0.6,-1.7 -0.4,-2.5 -0.2,-2.4 0.3,-3.3 0.5,-4 0.6,-2.9 0.8,-1.5 1.2,-1.2 1,-0.2 1,1.7 1.2,3 0.7,2.6 0.3,2.4 0,2.7 -0.3,2.2 -1.2,1.8 -1.8,1.9 -1.4,2.1 -1,2.9 -0.8,3.7 -0.4,3.6 0.6,4.1 1.2,4.9 0.4,4.2 -0.9,3.9 -1.8,4.2 -1.7,3.6 -2.3,3.4 -2.8,3.7 -1.5,2.4 0.9,0.9 2.2,0.2 2.1,-0.4 2.2,-1.4 2.7,-2.1 2.4,-1.6 2.7,-1 3.2,-0.8 2.1,0.3 0.5,2.4 -0.2,3.7 0.4,3.4 2,3.5 2.9,4 2.4,2.8 1.9,0.6 2.2,0.1 1.8,0.7 2.2,3.2 2.7,4.6 2.4,3.9 2.5,3.5 3,3.8 3.2,2.2 4.4,-0.4 5.6,-1.7 4.7,-1.5 4.1,-1.1 4.3,-1.3 3.2,-0.6 1.9,0.3 1.8,0.8 0.7,1.1 -1.4,1.9 -2.5,2.5 -1.9,2.2 -1,2.2 -0.8,2.3 0.3,1.3 2.2,-0.6 3.4,-1.5 3.2,-0.8 3.3,0.8 3.8,1.4 3.1,0.7 2.4,-1 2.4,-1.6 2.5,-1 3.5,0.8 4.4,1.5 3.8,0.6 3.2,-1.7 3.6,-2.8 3.4,-2.1 4.4,-1.2 5.3,-0.9 3.5,-0.1 0.3,1.5 -1.1,2.3 0.1,1.4 2.9,-0.3 4.4,-1.2 3.6,-1.5 2.6,-2.3 2.6,-3.3 2.1,-3.1 2.1,-3.8 2.1,-4.6 1.7,-3.3 0.8,-1.4 0.9,-1.2 1.2,-0.3 2.1,2 2.7,3.2 2.5,2.1 2.3,0.1 2.7,-0.8 2.3,-0.8 2.2,-1.1 2.6,-1.3 2.5,-0.5 3.2,1 4,1.8 3,1.6 2,1.5 1.9,1.6 1.3,1.2 0.8,0.4 0.8,0.2 0.5,0.2 0,-11 -1.4,0 -2.2,0 -2.2,0 -2.7,0.2 -3.3,0.2 -2.8,-0.4 -2.5,-1.8 -2.7,-2.8 -2.1,-2.7 -1.7,-3.1 -1.6,-3.8 -1.1,-3.3 -0.3,-3.1 0,-3.6 0.3,-3.5 0.9,-4.2 1.2,-5.3 0.9,-5.2 0.1,-6.9 -0.2,-8.5 0.1,-6.5 0.7,-3.6 1.2,-3.5 1,-3.1 0.9,-3.4 1,-3.9 1,-2.9 1.2,-1.7 1.7,-1.3 1.5,-0.7 1.7,0.2 2.1,0.9 2,1.1 2.5,1.8 2.9,2.5 1.9,1.6 5.1,-17.1ZM2618.1,322.7l0.8,0.8 0.9,2.2 0.5,2.1 -0.2,1.8 -0.6,2.2 -0.7,1.8 -1.2,2.1 -1.5,2.2 -0.9,0.9 0.1,-1.8 0.7,-3.3 0.6,-3 0.5,-2.9 0.5,-3.3ZM2467.9,178l-2.9,2.9 -4.4,4.3 -3.4,3.6 -2.1,2.7 -2,2.8 -1.3,2.5 -0.5,2.5 -0.2,2.9 -0.6,2.6 -1.9,2.5 -2.7,2.9 -2.1,2.7 -1.5,3.2 -1.4,3.9 -1.1,3.6 -0.9,4.2 -0.9,5 -0.9,4.2 -1.2,3.6 -1.4,3.9 -1.4,3.2 -1.8,2.8 -2.2,2.9 -1.4,2.3 0.1,1.8 0.7,1.8 0.5,1.8 -0.2,3.8 -0.4,5.1 -0.7,4.5 -1,4.2 -1.5,4.8 -1.5,4.4 -2,5.1 -2.6,6 -2.1,4.9 -1.9,3.7 -2,3.7 -1.5,3.4 -0.9,4.1 -0.7,4.9 -1.1,4.3 -2.2,4.3 -3.1,4.8 -2.7,4.3 -2.8,4.7 -3.1,5.2 -2.1,3.5 2.7,1.4 2.7,-3.1 4.1,-4.7 3.9,-4.3 4.3,-4.1 5.2,-4.8 3.9,-4.5 2.2,-4.9 1.6,-5.9 1.5,-5.2 1.7,-5.1 2,-5.9 1.7,-5.1 1.7,-5.1 1.9,-5.9 1.7,-5.1 1.6,-5.2 1.9,-5.9 1.9,-5 2.4,-4.4 3,-4.7 2.6,-4.3 2.6,-5.1 2.9,-6 2.6,-4.9 2.6,-3.7 2.9,-3.7 2.5,-3.3 2.5,-3.4 2.8,-3.8 2.7,-3.6 3.3,-4.2 4,-4.9 3.5,-4.3 3.3,-3.9 3.8,-4.3 3.6,-3.8 4.5,-4.2 5.3,-4.8 3.6,-3.1ZM2317.9,258.4l1.1,-1.7 2,-1.8 2.2,-1.3 3.2,-0.6 4.2,-0.2 3.3,0.2 2.5,1 2.5,1.5 1.7,1.6 0.8,2 0.3,2.6 -0.3,2.1 -1.4,1.8 -2.4,1.9 -2.3,1.1 -2.9,0.2 -3.6,-0.4 -2.9,-0.6 -2.2,-1 -2.1,-1.5 -1.6,-1.5 -1.1,-1.7 -0.9,-2ZM2201.3,303.9l2.1,-3.6 3.8,-5.3 3.5,-4.5 3.4,-3.8 4,-4.1 3.3,-2.8 2.9,-1.6 3.1,-1.2 2.1,0.2 0.6,2.8 0,4.4 0.7,3.5 2.4,2 3.5,1.8 3.5,1.5 4.7,1.4 5.7,1.5 3,1.1 -1.9,0.7 -4.5,0.6 -4.3,0.1 -4.3,-0.9 -5.1,-1.3 -4,-0.5 -3,1.2 -2.8,2.1 -2.3,2.1 -1.9,2.8 -1.9,3.4 -1.5,1.8 -0.9,-1.1 -0.8,-2.6 -1,-1.7 -1.9,0.1 -2.6,0.8 -2.2,0.5 -2.2,0 -2.4,-0.2ZM2356.7,199.5l-0.4,-2.8 0.6,-4.8 1.1,-3.1 2.3,0.4 3.2,1.6 2.6,0.6 1.5,-2.1 1.6,-3.4 2.2,-2.5 4.7,-1.3 6.4,-1 5,-0.4 2.9,0.4 2.9,1 2.3,1.3 2.7,2.2 2.9,2.9 1.1,1.6 -2,-0.8 -3.9,-2 -3.5,-1.2 -3.4,0.3 -4,1.1 -3.3,1.3 -2.7,2.1 -2.9,2.8 -2.5,1.7 -2.5,-0.1 -2.9,-0.9 -2.6,-0.3 -3.2,1.8 -3.8,2.6ZM2222.8,198.1l1.4,-3.1 2.9,-5 2.4,-3.9 1.4,-2.2 1.5,-2.1 1.1,-1.1 0.7,0.7 0.6,1.6 0,1.7 -1.3,3.2 -2,4.4 -2,3.1 -2.4,1.8 -2.9,1.1ZM2202.7,411.1l1.2,-4.4 3,-6.5 2.5,-3.8 1.6,0.8 1.4,3.1 1,2.8 0.6,2.7 0.2,3.2 -0.8,2.1 -3.3,0.9 -4.7,0.2ZM1264.6,1839.9l2,-3.4 3.2,-3.8 2.9,-2.6 2.9,-1.5 3.3,-0.8 1.9,0.7 -0.2,3.6 -1.4,5.8 -1.6,5.2 -2.5,5 -3.3,5.9 -2.3,5.4 -0.7,6.1 -0.3,7.2 -0.6,6.1 -1.9,6.1 -2.6,6.5 -2,3.7 -1.5,-0.6 -1.4,-2.9 -0.4,-3 1.6,-5.4 2.8,-7.5 2.1,-6.6 0.9,-6.5 0.5,-7.4 0.2,-5.6 -0.6,-3.4 -1,-3.4ZM1264.5,1840.4l1.4,-2.8 2.6,-3.1 2.5,-2.2 2.7,-1.7 3.2,-1.4 2.3,-0.2 1.1,1.8 0.6,3.1 -0.1,3.2 -1.6,4.7 -2.7,6.2 -2.2,5.4 -1.7,5.1 -1.7,5.7 -1.5,5.4 -1.5,6.6 -1.8,7.8 -1.6,5.1 -2.2,0.9 -2.9,-0.7 -1.3,-1.8 1.9,-5.7 3.6,-8.4 2.6,-7 1,-5.7 0.6,-5.9 0,-4.7 -1,-3.5 -1.7,-3.4ZM1660.6,285.3l3.7,-1.2 5.2,-0.6 4.1,0.1 3.2,1.5 3.1,2.5 1.9,2.5 -0.2,3.2 -1.2,3.9 -0.3,2.7 2.3,0.7 3.6,0.1 2.2,0.8 -0.5,2.9 -1.6,4.3 -1.1,4.2 0.6,5.2 1,6.3 0,4.7 -2.5,3 -4,2.5 -3.2,1 -2.3,-1.6 -2.2,-3 -2,-1.9 -2,0.6 -2.2,1.7 -2.3,0.9 -3.3,-0.4 -4,-1.2 -2.4,-1.6 0.6,-2.9 1.9,-3.9 0.7,-2.9 -2.3,-1.2 -3.8,-0.9 -2,-1.2 1.4,-2.6 2.9,-3.6 2.2,-3.5 0.8,-4.1 0.3,-5 0.5,-3.9 0.6,-3.1 1,-2.9ZM1560,244.7l3.4,-1.6 5.1,-1.7 4.5,-1.6 4.4,-2.3 4.9,-2.8 3.7,-1.4 2.6,0.8 2.1,2 0.1,2.1 -4.5,3 -7.2,3.9 -6.1,2.8 -4.8,1.5 -5,1 -3.2,0.1 -1.1,-1.4 0.1,-2.4ZM1589.2,371.3l1.4,0.6 2.6,1.6 2.5,1 2.8,-0.8 3.3,-1.4 2,-0.4 0.1,2 -0.9,3.3 -1.4,2.2 -2.7,0.4 -3.6,-0.5 -2.8,-0.9 -1.7,-2.2 -1.3,-3.1ZM1865.2,381l1.7,-1.7 3.3,-2.5 3.1,-2.3 3.1,-2.4 3.5,-2.7 2.2,-1.3 0.1,1.3 -1,2.7 -1.4,2.4 -2.3,2.1 -3.1,2.2 -2.7,1.6 -2.6,0.7 -2.7,0.3ZM2009.7,319.4l2,-1.2 3.3,-0.7 2.8,0.2 2.1,2.2 2.2,3.4 2.2,2.5 2.8,1 3.5,0.5 3.4,0.2 4.3,-0.8 5.1,-1.2 3.6,0.3 1.7,4.1 0.9,6 0,3.6 -1.1,-1.3 -2.2,-3.5 -2.5,-2.4 -3.8,0.1 -5,1 -4.2,0.6 -3.4,-0.4 -3.5,-0.9 -2.9,-1 -2.8,-1.1 -3.1,-1.5 -2.2,-1.6 -1.6,-2.5 -1.4,-3.3ZM2076.9,382.7l2.5,-0.8 4,-0.4 2.6,0.2 0.2,1.4 -0.8,2.2 -1,1.6 -1.4,0.8 -2,0.6 -1.5,-0.1 -1.3,-1.5 -1.2,-2.3ZM2138.6,374.5l1,0.2 2.4,1.8 2.4,1.3 3.4,0.1 4.2,-0.2 2.2,0.1 -1.4,1 -3.3,1.4 -2.5,1.5 -1,2.3 -0.7,2.7 -0.9,0.8 -2,-3.5 -2.5,-5.8ZM2160.6,371.3l1.7,-3.2 2.8,-3.4 2,-1.5 0.4,2.2 -0.2,4.2 0.5,3.3 2.2,1.6 3.1,1.4 2.2,1.9 0.7,3.9 0.2,5.2 0.7,3.9 2.3,2.1 3.1,1.6 1.7,1.1 -0.9,1 -2.3,0.7 -2.3,0 -2.5,-1.5 -3,-2.5 -2.6,-2.5 -2.3,-2.9 -2.4,-3.7 -1.8,-3.2 -1.5,-3.1 -1.4,-3.6ZM2202.9,410.3l1.2,-4.2 2.9,-5.9 2.4,-3.6 1.5,0.5 1.4,2.4 0.9,2.6 0.3,3.2 0,4 -0.9,2.6 -3,0.5 -4.3,-0.5ZM2202.2,304.7l0.6,-3.7 2.3,-6.1 2.6,-4.8 3.3,-3.1 4.4,-2.8 3.7,-2.2 3.4,-2.2 3.7,-2.1 2.6,-0.6 1,2.3 0.5,4.1 1.1,3.4 2.8,2.4 4,2.3 3.6,1.8 4.2,1.3 4.9,1.1 2.3,0.8 -2.2,0.7 -4.8,0.6 -4.4,0.3 -4.2,-0.5 -4.9,-0.8 -3.9,-0.3 -3,0.6 -2.9,1.1 -2.2,1.6 -1.8,3.3 -1.7,4.3 -1.4,2.1 -0.9,-2.4 -0.9,-4.5 -1.4,-2.8 -3.4,1.2 -4.4,2.8ZM2318.1,257.7l1.7,-2 3.2,-1.9 3.2,-1 3.7,0.2 4.5,0.9 3.2,1.2 1.8,2.1 1.2,2.9 0.2,2.4 -1.3,2.2 -2.5,2.3 -2.6,1.4 -3.5,0.2 -4.5,-0.6 -3.4,-1.2 -2.3,-2.6 -2,-3.6ZM2223,197.6l1.7,-2.2 3.3,-3.1 2.5,-2.8 1.3,-2.9 1.1,-3.3 0.8,-1.9 0.8,0.3 0.7,1.4 0.1,1.5 -1.6,4.3 -2.6,5.8 -2.3,3.9 -2.2,0.6 -2.5,-0.5ZM1220.6,181.2l3.8,-0.7 5.5,0.1 3.9,0.6 1,1.3 0.2,2 -0.2,1.7 -0.9,1.2 -1.4,1.4 -0.8,1.5 0.3,2.6 0.9,3.4 0.9,2.1 1.3,-0.4 1.5,-1.4 1.2,-0.2 0.7,3 0.4,4.7 -0.1,3.4 -1.2,1.7 -2,1.1 -1.8,0.3 -1.7,-1.1 -1.9,-2 -1.5,-2 -1.1,-2.4 -1.1,-3 -0.8,-1.7 -0.7,0.8 -0.7,1.8 -0.7,0.5 -1,-2.8 -1.2,-4.5 -0.8,-3.9 -0.6,-3.3 -0.3,-3.5ZM1240.9,207.5l1.2,-2.5 2,-2.9 1.8,-1.7 1.6,0 1.9,0.9 1.6,1.2 1.4,2.1 1.5,2.7 1.2,1.3 0.7,-1.8 0.5,-3.4 0.8,-1.9 1.5,1.1 1.9,2.3 1.7,1.6 1.3,-0.1 1.5,-0.7 1.2,-0.2 1.4,0.9 1.6,1.6 1.1,1.6 0.6,2 0.4,2.6 0,2.5 -0.8,3.1 -1.1,3.9 -0.1,3.1 2.4,2.4 3.6,2.4 2.1,2.3 -0.9,2.9 -2.3,3.6 -1.9,2.7 -1.1,2.1 -1,2 -0.9,0.9 -0.6,-1.4 -0.5,-2.7 -0.9,-2 -2,-1.2 -2.6,-0.9 -1.5,0.1 0.5,2.3 1.6,3.8 1.9,3 2.9,2.1 3.9,2 3.4,2 3.3,2.3 3.7,2.9 3.1,2.9 2.8,3.7 2.9,4.7 2.4,3.8 2.3,3.2 2.3,3.3 1.5,2.7 0.3,2.1 -0.4,2.1 -0.9,1.8 -2.1,2.1 -3.2,2.3 -2.8,1.7 -3,0.9 -3.4,0.6 -2.7,-0.1 -2,-1.1 -1.9,-2 -1.2,-2.3 -0.4,-3.6 -0.1,-4.9 -0.5,-4.7 -1.7,-5.8 -2.4,-7 -2,-5.5 -1.7,-3.6 -1.8,-3.6 -1.6,-2.9 -1.5,-2.7 -1.7,-2.9 -0.8,-2.5 0.8,-2.5 1.5,-3 0.7,-2.7 -1.2,-3.1 -2.2,-3.7 -1.7,-3.3 -0.7,-3.4 -0.6,-3.9 -0.7,-2.9 -1.4,-2 -2,-1.8 -1.7,-1.2 -1.7,-0.7 -1.8,-0.5 -1.6,0.2 -1.4,1.6 -1.5,2.3 -1.1,1.1 -0.7,-1.3 -0.4,-2.5ZM1297.7,181.2l3.4,-0.5 5.2,0 3.6,0.5 1.1,1.5 0.2,2.3 -0.3,2.2 -0.7,2.8 -1.1,3.4 -1.3,2 -1.9,-0.2 -2.3,-1.4 -1.8,-1.5 -0.9,-1.8 -0.7,-2.3 -0.5,-2 -1.1,-1.8 -1.1,-1.9ZM1320,181.2l5.4,-0.7 7.5,0 5.4,0.7 2.2,2.4 1.1,3.6 0.7,3.1 0.7,2.8 0.6,3 0.8,2.3 1.6,1.5 2.1,1.4 1.3,1.2 -0.4,1.2 -1.2,1.4 -0.4,1.4 1.7,3.4 2.9,4.7 2.5,4.1 2.4,4.1 2.7,4.6 2,3.5 1.5,2 1.4,2 0.6,2.1 -1.1,2.9 -1.9,3.7 -1.5,3.5 -0.6,3.8 -0.4,4.6 0,3.8 0.8,3.5 1.2,3.7 1,2.9 0.6,2 0.5,2 -0.1,1.1 -1.3,-0.4 -2,-1.3 -1.7,-1.3 -1.5,-1.8 -1.5,-2 -1.1,-0.3 -0.4,3.4 -0.1,5.4 -0.5,4.4 -1.4,2.9 -1.9,2.6 -1.8,1.6 -2,0.3 -2.3,-0.4 -1.8,-0.9 -1.2,-1.5 -1.1,-2.2 -0.7,-2.4 -0.5,-3.7 -0.4,-4.9 -0.1,-4.6 0.1,-5.3 0.4,-6.2 0.5,-4.7 0.7,-2.2 1.1,-2 1.2,-1.9 2.1,-2.5 2.6,-3.1 1.4,-2.5 -0.6,-2.5 -1.7,-2.5 -1.7,-1.1 -2.1,2 -2.6,3.4 -1.4,1.7 0.6,-1.9 1.7,-3.8 1.7,-3.5 2.1,-3.2 2.5,-3.7 1.5,-3.2 -0.2,-3.6 -1.2,-4 -1.6,-2.5 -2.7,-0.3 -3.7,0.8 -2.8,1.5 -1.6,3.3 -1.3,4.5 -1.1,3.3 -0.9,1.2 -1.2,1 -1,-0.1 -0.8,-2.2 -0.8,-3.7 -0.4,-3.3 0.5,-3.1 1,-3.6 0.5,-3.4 -0.3,-3.9 -0.8,-4.7 -0.9,-3.6 -1.5,-2.7 -1.9,-2.4 -1.7,-1 -1.4,1.5 -1.5,2.9 -1.1,1.7 -0.9,-0.6 -0.9,-1.6 -0.2,-1.8 0.6,-2.3 1.3,-2.9ZM1428.6,314.1l0.9,-0.9 1.7,-0.2 1.4,0.7 0.8,2.2 0.7,3.4 0.6,2.9 0.6,2.5 0.6,2.7 0.8,1.9 1.6,0.5 2,0.1 1.5,0.4 0.7,1.6 0.5,2.4 -0.2,2.1 -1.7,2.1 -2.5,2.4 -0.9,1.6 2.5,0.4 4.3,0.1 3.4,0.5 2,2 1.8,2.8 1.2,2.3 0.7,1.7 0.3,1.9 0,1.5 -0.7,1.8 -1.1,1.9 -1.2,0.3 -1.5,-2.9 -1.9,-4.8 -1.7,-3.4 -1.8,-1.3 -2.3,-0.6 -2,-0.2 -1.9,0.4 -2.1,0.8 -2,0.9 -2.6,1.3 -2.9,1.5 -1.6,1.2 0.9,0.3 2.3,0.2 1.8,0.5 1,1.9 1,2.6 1.1,1.6 1.8,-0.4 2.3,-1.1 2,-0.5 1.6,1.3 1.8,2.2 1.6,1.6 2.2,0.5 2.6,0.1 1.3,0.4 -1.3,1.3 -2.6,1.7 -2.2,1 -1.7,-0.6 -1.7,-1.2 -1.6,-0.2 -1.6,2.5 -1.9,3.9 -1.6,2.8 -1.2,1 -1.5,0.7 -1.4,0.3 -1.9,-0.2 -2.3,-0.6 -0.8,-1.2 2.1,-2.9 3.6,-4.2 2.4,-3.1 0,-1.6 -0.8,-1.6 -1.3,-0.9 -2.7,0.3 -3.8,0.9 -2.6,-0.1 -0.8,-2.2 -0.2,-3.5 0,-3.5 -0.3,-5 -0.3,-6.4 0.6,-4.8 2.7,-2.2 3.9,-1.7 2.5,-2.2 -0.4,-5 -1.7,-6.7ZM1472.2,382.1l2.3,-1.9 4.4,-2.4 3.5,-0.8 2.1,2.1 1.8,3.8 1.1,3.2 -0.3,2.6 -0.9,2.8 0.2,1.7 2.6,0.2 4.1,-0.6 3.5,-0.6 3.2,-0.5 3.3,-0.5 1.6,0 -1.5,1.1 -3.3,1.8 -3.3,1.1 -3.9,0.2 -4.8,-0.3 -3.5,-0.9 -1.7,-2.6 -1.1,-3.7 -1.3,-2.8 -2.9,-1.3 -3.6,-0.8ZM1473.2,233.9l1.3,-1 2.6,-0.3 2.2,-0.1 2,-0.2 2.3,0 1.8,0.6 1.5,1.8 1.4,2.8 0.5,2.5 -1.2,2.9 -2.2,3.4 -2,1.8 -2,-0.7 -2.3,-2.1 -1.8,-2.2 -1.7,-2.9 -1.8,-3.7ZM1544.2,238l2.1,-0.4 3.6,0 2.5,0.4 0.9,1.5 0.4,2.2 -0.3,1.4 -1.3,0.3 -2.1,-0.2 -1.7,-0.6 -1.7,-1.4 -1.9,-1.9ZM1555.4,251.2l-0.1,-1.9 0.6,-3 1.5,-2.2 3.4,-0.8 4.9,-0.5 3.9,-0.8 2.9,-1.8 2.8,-2.4 2.4,-1.9 2.4,-1.3 2.5,-1.2 2.2,-0.5 2.4,0.5 2.6,1.2 1.1,1.3 -1.4,1.5 -2.8,1.8 -2.9,1.8 -3.6,2.3 -4.7,2.8 -3.9,2 -3.5,1 -3.7,0.6 -2.9,0.5 -2.4,0.6 -2.3,0.6ZM1588.9,369.9l0.8,0.9 1.4,1.8 1.8,1.3 2.8,0.3 3.7,0 2.7,-0.3 1.4,-1.1 1.1,-1.5 0.5,-0.4 -0.1,2.1 -0.7,3.5 -1.2,2.5 -2.7,0.9 -3.6,0.3 -2.8,-0.2 -1.4,-1.2 -1,-2 -0.7,-1.8 -0.9,-1.9 -0.9,-2.1Z" fill="#97b6e1"/>
<path d="M2672.1,236.5l1.2,1.2 1.4,2.6 1.1,2.8 0.4,3.7 0.3,4.6 0.8,3.3 2,1.4 2.9,0.8 2.4,0.8 2,1.4 2.1,1.7 1.7,1.3 1.6,0.8 1.6,0.6 1.2,0 0.4,-1.2 0.2,-1.9 0.8,-1.3 3.5,-0.7 5.2,-0.4 4.5,-0.3 3.9,0.1 4.2,0.2 3.6,-0.3 3.3,-1.3 3.6,-1.9 3.3,-1.9 3.6,-2 4.3,-2.5 3.8,-2.1 3.8,-2.1 4.3,-2.2 3.6,-1.6 3.5,-1 3.7,-0.6 2.3,0.2 0.1,1.7 -1,2.9 -1.3,2.7 -2.1,3.2 -2.8,3.9 -2.4,3.1 -2.2,2.1 -2.4,2 -1.3,1.8 0.3,2.4 1.3,2.9 1.4,2 1.9,0.7 2.5,0.3 1.4,0.4 -0.3,1.2 -1.1,1.8 -1.5,1.4 -2.5,1.6 -3.5,1.7 -2.8,1.1 -2.1,0 -2.1,-0.5 -1.6,-1 -1.1,-2.1 -1,-3 -0.8,-2.2 -0.9,-1.3 -1.1,-1.1 -1,-0.5 -1.1,0.5 -1.3,1.2 -0.5,1.2 1.2,1.3 2,1.7 1.2,1.4 -0.2,1.5 -0.9,1.7 -1.1,0.5 -1.6,-1.4 -2,-2.7 -1.5,-2.5 -0.6,-3.1 -0.3,-3.8 -0.6,-1.9 -1.7,1.4 -2.4,3.2 -1.7,2.7 -0.5,2.1 -0.1,2.1 -0.9,1.7 -2.8,1.3 -4.1,1.1 -3.3,0.5 -2.5,-0.5 -2.6,-1.1 -2.2,-1.3 -2,-1.9 -2.1,-2.5 -1.8,-1.5 -1.8,0 -2.1,0.7 -1.9,0.8 -2.3,1.1 -2.8,1.4 -2.2,0.4 -1.5,-1.9 -1.5,-3.1 -1.4,-2.3 -1.7,-0.9 -2.1,-0.4 -2,-0.2 -2.4,0.3 -2.9,0.6 -2,-0.1 -0.9,-1.6 -0.5,-2.5 -0.1,-2.5 0.3,-2.7 0.6,-3.2 0.6,-2.9 0.8,-2.8 1.1,-3.3 1,-2.6 1.1,-2.6 1.3,-2.7ZM1886.5,511.3l4.1,-1 6.5,-0.8 5.7,-0.2 5.2,0.7 5.8,1.2 5.2,1.1 5.3,1.2 6,1.3 4.9,0.6 4,-0.6 4.2,-1.3 4,-1.2 4.9,-1.1 6,-1.2 5.3,-0.7 5.6,-0.2 6.4,0.2 4.3,1 1.6,2.9 0.4,4.4 0,3.9 -0.2,4.2 -0.7,4.7 -1.1,3.2 -2.1,0.8 -3,-0.3 -3,-0.5 -3.6,-0.8 -4.6,-1.1 -4,-1.1 -3.8,-1 -4.3,-1.1 -4.1,-1 -5,-1.2 -6,-1.6 -5.2,-1.2 -4.6,-1.1 -5,-1.2 -4.6,-0.8 -5.2,-0.4 -6.1,-0.3 -5,-0.3 -4.4,-0.5 -4.6,-0.6 -3.1,-0.9 -1.8,-1.8 -1,-2.5Z" fill="#efefdb"/>
<g shape-rendering="crispEdges">
<path d="M227.4,191H244.4V208.6H227.4ZM312.6,191H380.7V208.6H312.6ZM227.4,207.9H261.5V225.5H227.4ZM312.6,207.9H431.9V225.5H312.6ZM227.4,224.9H483V242.5H227.4ZM227.4,241.9H534.1V259.5H227.4ZM227.4,258.9H602.3V276.5H227.4ZM227.4,275.9H670.4V293.4H227.4ZM227.4,292.8H755.6V310.4H227.4ZM2442.6,292.8H2527.8V310.4H2442.6ZM210.3,309.8H823.8V327.4H210.3ZM2442.6,309.8H2544.8V327.4H2442.6ZM210.3,326.8H926V344.4H210.3ZM1403.1,326.8H1420.2V344.4H1403.1ZM2442.6,326.8H2544.8V344.4H2442.6ZM210.3,343.8H1062.3V361.3H210.3ZM1403.1,343.8H1420.2V361.3H1403.1ZM2442.6,343.8H2561.9V361.3H2442.6ZM193.3,360.7H1420.2V378.3H193.3ZM2442.6,360.7H2578.9V378.3H2442.6ZM193.3,377.7H1437.2V395.3H193.3ZM2442.6,377.7H2578.9V395.3H2442.6ZM193.3,394.7H1522.4V412.3H193.3ZM2442.6,394.7H2613V412.3H2442.6ZM176.3,411.7H1624.7V429.2H176.3ZM2442.6,411.7H2613V429.2H2442.6ZM176.3,428.6H1624.7V446.2H176.3ZM2425.5,428.6H2578.9V446.2H2425.5ZM159.2,445.6H1590.6V463.2H159.2ZM1692.8,445.6H1709.9V463.2H1692.8ZM2408.5,445.6H2578.9V463.2H2408.5ZM159.2,462.6H1573.5V480.2H159.2ZM1675.8,462.6H1692.8V480.2H1675.8ZM2374.4,462.6H2544.8V480.2H2374.4ZM142.2,479.6H1556.5V497.1H142.2ZM1658.7,479.6H1726.9V497.1H1658.7ZM1812.1,479.6H1829.1V497.1H1812.1ZM2323.3,479.6H2544.8V497.1H2323.3ZM125.1,496.5H1539.5V514.1H125.1ZM1556.5,496.5H1590.6V514.1H1556.5ZM1624.7,496.5H1743.9V514.1H1624.7ZM1761,496.5H1880.3V514.1H1761ZM2272.2,496.5H2510.7V514.1H2272.2ZM125.1,513.5H1880.3V531.1H125.1ZM2255.1,513.5H2493.7V531.1H2255.1ZM108.1,530.5H1778V548.1H108.1ZM1846.2,530.5H1863.2V548.1H1846.2ZM2238.1,530.5H2493.7V548.1H2238.1ZM108.1,547.5H1761V565H108.1ZM1846.2,547.5H1897.3V565H1846.2ZM2221.1,547.5H2493.7V565H2221.1ZM108.1,564.4H1761V582H108.1ZM1829.1,564.4H1914.3V582H1829.1ZM2238.1,564.4H2493.7V582H2238.1ZM108.1,581.4H1743.9V599H108.1ZM1829.1,581.4H1914.3V599H1829.1ZM2238.1,581.4H2493.7V599H2238.1ZM108.1,598.4H1743.9V616H108.1ZM1795.1,598.4H1931.4V616H1795.1ZM2238.1,598.4H2493.7V616H2238.1ZM91.1,615.4H1743.9V632.9H91.1ZM1795.1,615.4H1914.3V632.9H1795.1ZM2221.1,615.4H2544.8V632.9H2221.1ZM74,632.3H1743.9V649.9H74ZM1795.1,632.3H1914.3V649.9H1795.1ZM1931.4,632.3H1948.4V649.9H1931.4ZM2135.9,632.3H2544.8V649.9H2135.9ZM74,649.3H1743.9V666.9H74ZM1795.1,649.3H1897.3V666.9H1795.1ZM1914.3,649.3H1965.5V666.9H1914.3ZM2118.8,649.3H2544.8V666.9H2118.8ZM74,666.3H1743.9V683.9H74ZM1795.1,666.3H1965.5V683.9H1795.1ZM2135.9,666.3H2493.7V683.9H2135.9ZM74,683.3H1726.9V700.8H74ZM1795.1,683.3H1982.5V700.8H1795.1ZM2118.8,683.3H2459.6V700.8H2118.8ZM74,700.2H1726.9V717.8H74ZM1812.1,700.2H1982.5V717.8H1812.1ZM2101.8,700.2H2408.5V717.8H2101.8ZM2425.5,700.2H2459.6V717.8H2425.5ZM74,717.2H1743.9V734.8H74ZM1812.1,717.2H1965.5V734.8H1812.1ZM2084.7,717.2H2442.6V734.8H2084.7ZM74,734.2H1743.9V751.8H74ZM1812.1,734.2H1965.5V751.8H1812.1ZM2067.7,734.2H2425.5V751.8H2067.7ZM74,751.2H1743.9V768.7H74ZM1812.1,751.2H1948.4V768.7H1812.1ZM2033.6,751.2H2391.5V768.7H2033.6ZM74,768.1H1743.9V785.7H74ZM1795.1,768.1H1948.4V785.7H1795.1ZM2016.6,768.1H2391.5V785.7H2016.6ZM91.1,785.1H1761V802.7H91.1ZM1795.1,785.1H2391.5V802.7H1795.1ZM91.1,802.1H2391.5V819.6H91.1ZM91.1,819.1H2391.5V836.6H91.1ZM108.1,836H2374.4V853.6H108.1ZM91.1,853H2374.4V870.6H91.1ZM91.1,870H2374.4V887.6H91.1ZM108.1,887H2374.4V904.5H108.1ZM108.1,903.9H2374.4V921.5H108.1ZM108.1,920.9H2374.4V938.5H108.1ZM108.1,937.9H2357.4V955.5H108.1ZM108.1,954.9H2357.4V972.4H108.1ZM125.1,971.8H2357.4V989.4H125.1ZM125.1,988.8H2357.4V1006.4H125.1ZM125.1,1005.8H2357.4V1023.4H125.1ZM125.1,1022.8H2374.4V1040.3H125.1ZM125.1,1039.7H2391.5V1057.3H125.1ZM125.1,1056.7H2391.5V1074.3H125.1ZM176.3,1073.7H2408.5V1091.2H176.3ZM193.3,1090.7H2391.5V1108.2H193.3ZM210.3,1107.6H2374.4V1125.2H210.3ZM227.4,1124.6H2357.4V1142.2H227.4ZM244.4,1141.6H2323.3V1159.1H244.4ZM261.5,1158.6H2306.3V1176.1H261.5ZM261.5,1175.5H2306.3V1193.1H261.5ZM261.5,1192.5H2289.2V1210.1H261.5ZM261.5,1209.5H2255.1V1227H261.5ZM295.5,1226.5H2255.1V1244H295.5ZM380.7,1243.4H2238.1V1261H380.7ZM397.8,1260.4H2238.1V1278H397.8ZM414.8,1277.4H2221.1V1294.9H414.8ZM448.9,1294.4H2204V1311.9H448.9ZM465.9,1311.3H2187V1328.9H465.9ZM500,1328.3H2169.9V1345.9H500ZM517.1,1345.3H2169.9V1362.8H517.1ZM551.1,1362.2H2152.9V1379.8H551.1ZM619.3,1379.2H721.5V1396.8H619.3ZM789.7,1379.2H2152.9V1396.8H789.7ZM823.8,1396.2H2152.9V1413.8H823.8ZM823.8,1413.2H2152.9V1430.8H823.8ZM840.8,1430.2H2152.9V1447.7H840.8ZM857.9,1447.1H2169.9V1464.7H857.9ZM874.9,1464.1H2169.9V1481.7H874.9ZM891.9,1481.1H2187V1498.6H891.9ZM891.9,1498.1H1743.9V1515.6H891.9ZM1812.1,1498.1H1829.1V1515.6H1812.1ZM1931.4,1498.1H1999.5V1515.6H1931.4ZM2050.7,1498.1H2204V1515.6H2050.7ZM891.9,1515H1709.9V1532.6H891.9ZM1948.4,1515H1982.5V1532.6H1948.4ZM2067.7,1515H2204V1532.6H2067.7ZM909,1532H1011.2V1549.6H909ZM1045.3,1532H1726.9V1549.6H1045.3ZM2084.7,1532H2221.1V1549.6H2084.7ZM926,1549H994.2V1566.5H926ZM1079.4,1549H1488.3V1566.5H1079.4ZM1522.4,1549H1590.6V1566.5H1522.4ZM1607.6,1549H1726.9V1566.5H1607.6ZM2101.8,1549H2238.1V1566.5H2101.8ZM943.1,1566H977.1V1583.5H943.1ZM1096.4,1566H1454.3V1583.5H1096.4ZM1624.7,1566H1692.8V1583.5H1624.7ZM1709.9,1566H1761V1583.5H1709.9ZM2101.8,1566H2238.1V1583.5H2101.8ZM1113.5,1582.9H1420.2V1600.5H1113.5ZM1726.9,1582.9H1743.9V1600.5H1726.9ZM2101.8,1582.9H2255.1V1600.5H2101.8ZM1113.5,1599.9H1403.1V1617.5H1113.5ZM2101.8,1599.9H2255.1V1617.5H2101.8ZM1113.5,1616.9H1386.1V1634.5H1113.5ZM2101.8,1616.9H2272.2V1634.5H2101.8ZM1130.5,1633.9H1352V1651.4H1130.5ZM2118.8,1633.9H2272.2V1651.4H2118.8ZM1147.5,1650.8H1335V1668.4H1147.5ZM2118.8,1650.8H2272.2V1668.4H2118.8ZM1147.5,1667.8H1317.9V1685.4H1147.5ZM2135.9,1667.8H2289.2V1685.4H2135.9ZM1164.6,1684.8H1300.9V1702.3H1164.6ZM2152.9,1684.8H2289.2V1702.3H2152.9ZM1164.6,1701.8H1300.9V1719.3H1164.6ZM2169.9,1701.8H2289.2V1719.3H2169.9ZM1164.6,1718.7H1300.9V1736.3H1164.6ZM2187,1718.7H2289.2V1736.3H2187ZM1181.6,1735.7H1300.9V1753.3H1181.6ZM2221.1,1735.7H2272.2V1753.3H2221.1ZM1181.6,1752.7H1300.9V1770.2H1181.6ZM2221.1,1752.7H2272.2V1770.2H2221.1ZM1215.7,1769.7H1300.9V1787.2H1215.7ZM2135.9,1769.7H2152.9V1787.2H2135.9ZM2169.9,1769.7H2187V1787.2H2169.9ZM2204,1769.7H2221.1V1787.2H2204ZM1266.8,1786.6H1300.9V1804.2H1266.8Z" fill="#a7d0e4"/>
<path d="M619.3,275.9H653.4V293.4H619.3ZM619.3,292.8H721.5V310.4H619.3ZM602.3,309.8H721.5V327.4H602.3ZM772.7,309.8H823.8V327.4H772.7ZM602.3,326.8H721.5V344.4H602.3ZM772.7,326.8H926V344.4H772.7ZM585.2,343.8H721.5V361.3H585.2ZM789.7,343.8H1062.3V361.3H789.7ZM585.2,360.7H721.5V378.3H585.2ZM806.7,360.7H1198.7V378.3H806.7ZM448.9,377.7H465.9V395.3H448.9ZM568.2,377.7H585.2V395.3H568.2ZM602.3,377.7H738.6V395.3H602.3ZM806.7,377.7H1215.7V395.3H806.7ZM551.1,394.7H568.2V412.3H551.1ZM619.3,394.7H755.6V412.3H619.3ZM823.8,394.7H1215.7V412.3H823.8ZM1505.4,394.7H1522.4V412.3H1505.4ZM670.4,411.7H1232.7V429.2H670.4ZM1352,411.7H1420.2V429.2H1352ZM1505.4,411.7H1522.4V429.2H1505.4ZM704.5,428.6H1232.7V446.2H704.5ZM1335,428.6H1505.4V446.2H1335ZM721.5,445.6H1130.5V463.2H721.5ZM1147.5,445.6H1164.6V463.2H1147.5ZM1300.9,445.6H1488.3V463.2H1300.9ZM823.8,462.6H1113.5V480.2H823.8ZM1317.9,462.6H1437.2V480.2H1317.9ZM823.8,479.6H1096.4V497.1H823.8ZM1335,479.6H1369.1V497.1H1335ZM840.8,496.5H1079.4V514.1H840.8ZM840.8,513.5H1096.4V531.1H840.8ZM857.9,530.5H1096.4V548.1H857.9ZM874.9,547.5H960.1V565H874.9ZM977.1,547.5H1096.4V565H977.1ZM926,564.4H943.1V582H926ZM1045.3,564.4H1062.3V582H1045.3ZM926,581.4H960.1V599H926ZM960.1,598.4H977.1V616H960.1ZM943.1,615.4H960.1V632.9H943.1ZM619.3,632.3H636.3V649.9H619.3ZM329.6,666.3H346.7V683.9H329.6ZM329.6,683.3H346.7V700.8H329.6ZM312.6,700.2H363.7V717.8H312.6ZM312.6,717.2H363.7V734.8H312.6ZM585.2,717.2H619.3V734.8H585.2ZM2084.7,717.2H2101.8V734.8H2084.7ZM329.6,734.2H380.7V751.8H329.6ZM551.1,734.2H619.3V751.8H551.1ZM2067.7,734.2H2118.8V751.8H2067.7ZM329.6,751.2H414.8V768.7H329.6ZM534.1,751.2H619.3V768.7H534.1ZM2033.6,751.2H2118.8V768.7H2033.6ZM329.6,768.1H431.9V785.7H329.6ZM517.1,768.1H619.3V785.7H517.1ZM772.7,768.1H806.7V785.7H772.7ZM2033.6,768.1H2101.8V785.7H2033.6ZM346.7,785.1H448.9V802.7H346.7ZM534.1,785.1H619.3V802.7H534.1ZM755.6,785.1H823.8V802.7H755.6ZM2033.6,785.1H2169.9V802.7H2033.6ZM346.7,802.1H448.9V819.6H346.7ZM534.1,802.1H619.3V819.6H534.1ZM755.6,802.1H823.8V819.6H755.6ZM2033.6,802.1H2187V819.6H2033.6ZM363.7,819.1H448.9V836.6H363.7ZM534.1,819.1H636.3V836.6H534.1ZM755.6,819.1H840.8V836.6H755.6ZM2033.6,819.1H2169.9V836.6H2033.6ZM585.2,836H602.3V853.6H585.2ZM738.6,836H840.8V853.6H738.6ZM2033.6,836H2169.9V853.6H2033.6ZM721.5,853H840.8V870.6H721.5ZM2033.6,853H2152.9V870.6H2033.6ZM721.5,870H823.8V887.6H721.5ZM1999.5,870H2152.9V887.6H1999.5ZM738.6,887H806.7V904.5H738.6ZM1982.5,887H2152.9V904.5H1982.5ZM755.6,903.9H789.7V921.5H755.6ZM1965.5,903.9H2169.9V921.5H1965.5ZM1948.4,920.9H2204V938.5H1948.4ZM1948.4,937.9H2204V955.5H1948.4ZM1948.4,954.9H2204V972.4H1948.4ZM1948.4,971.8H2204V989.4H1948.4ZM2255.1,971.8H2306.3V989.4H2255.1ZM1062.3,988.8H1079.4V1006.4H1062.3ZM1113.5,988.8H1164.6V1006.4H1113.5ZM1948.4,988.8H2204V1006.4H1948.4ZM2238.1,988.8H2306.3V1006.4H2238.1ZM960.1,1005.8H977.1V1023.4H960.1ZM1062.3,1005.8H1181.6V1023.4H1062.3ZM1948.4,1005.8H2187V1023.4H1948.4ZM2204,1005.8H2340.3V1023.4H2204ZM909,1022.8H1164.6V1040.3H909ZM1948.4,1022.8H2374.4V1040.3H1948.4ZM891.9,1039.7H1147.5V1057.3H891.9ZM1965.5,1039.7H2391.5V1057.3H1965.5ZM891.9,1056.7H1130.5V1074.3H891.9ZM1948.4,1056.7H2391.5V1074.3H1948.4ZM891.9,1073.7H1045.3V1091.2H891.9ZM1965.5,1073.7H2169.9V1091.2H1965.5ZM2187,1073.7H2408.5V1091.2H2187ZM874.9,1090.7H926V1108.2H874.9ZM943.1,1090.7H1028.3V1108.2H943.1ZM1965.5,1090.7H2135.9V1108.2H1965.5ZM2187,1090.7H2391.5V1108.2H2187ZM874.9,1107.6H909V1125.2H874.9ZM977.1,1107.6H1011.2V1125.2H977.1ZM1948.4,1107.6H1999.5V1125.2H1948.4ZM2084.7,1107.6H2101.8V1125.2H2084.7ZM2187,1107.6H2374.4V1125.2H2187ZM857.9,1124.6H909V1142.2H857.9ZM1948.4,1124.6H1965.5V1142.2H1948.4ZM2101.8,1124.6H2357.4V1142.2H2101.8ZM840.8,1141.6H891.9V1159.1H840.8ZM2084.7,1141.6H2323.3V1159.1H2084.7ZM789.7,1158.6H874.9V1176.1H789.7ZM2084.7,1158.6H2306.3V1176.1H2084.7ZM755.6,1175.5H874.9V1193.1H755.6ZM2084.7,1175.5H2306.3V1193.1H2084.7ZM823.8,1192.5H857.9V1210.1H823.8ZM2084.7,1192.5H2289.2V1210.1H2084.7ZM2101.8,1209.5H2255.1V1227H2101.8ZM2101.8,1226.5H2255.1V1244H2101.8ZM2101.8,1243.4H2238.1V1261H2101.8ZM2084.7,1260.4H2238.1V1278H2084.7ZM943.1,1277.4H994.2V1294.9H943.1ZM2050.7,1277.4H2221.1V1294.9H2050.7ZM960.1,1294.4H1011.2V1311.9H960.1ZM2033.6,1294.4H2204V1311.9H2033.6ZM977.1,1311.3H1011.2V1328.9H977.1ZM1624.7,1311.3H1675.8V1328.9H1624.7ZM2016.6,1311.3H2135.9V1328.9H2016.6ZM1624.7,1328.3H1658.7V1345.9H1624.7ZM2016.6,1328.3H2118.8V1345.9H2016.6ZM2016.6,1345.3H2101.8V1362.8H2016.6ZM721.5,1362.2H772.7V1379.8H721.5ZM2016.6,1362.2H2101.8V1379.8H2016.6ZM704.5,1379.2H721.5V1396.8H704.5ZM2016.6,1379.2H2067.7V1396.8H2016.6ZM1999.5,1396.2H2033.6V1413.8H1999.5ZM1931.4,1413.2H1965.5V1430.8H1931.4ZM1982.5,1413.2H1999.5V1430.8H1982.5ZM1914.3,1430.2H1965.5V1447.7H1914.3ZM1897.3,1447.1H1931.4V1464.7H1897.3ZM1863.2,1464.1H1931.4V1481.7H1863.2ZM1863.2,1481.1H1880.3V1498.6H1863.2ZM1897.3,1481.1H1914.3V1498.6H1897.3Z" fill="#559ec9"/>
<path d="M721.5,292.8H738.6V310.4H721.5ZM721.5,309.8H772.7V327.4H721.5ZM721.5,326.8H772.7V344.4H721.5ZM721.5,343.8H789.7V361.3H721.5ZM721.5,360.7H806.7V378.3H721.5ZM738.6,377.7H806.7V395.3H738.6ZM755.6,394.7H823.8V412.3H755.6Z" fill="#256baf"/>
<path d="M738.6,666.3H755.6V683.9H738.6ZM738.6,683.3H755.6V700.8H738.6ZM994.2,700.2H1011.2V717.8H994.2ZM1692.8,700.2H1726.9V717.8H1692.8ZM977.1,717.2H1011.2V734.8H977.1ZM1641.7,717.2H1743.9V734.8H1641.7ZM1675.8,734.2H1692.8V751.8H1675.8ZM448.9,1090.7H465.9V1108.2H448.9ZM448.9,1107.6H465.9V1125.2H448.9ZM363.7,1175.5H380.7V1193.1H363.7ZM346.7,1192.5H380.7V1210.1H346.7ZM329.6,1209.5H397.8V1227H329.6ZM329.6,1226.5H397.8V1244H329.6ZM380.7,1243.4H414.8V1261H380.7ZM2118.8,1430.2H2152.9V1447.7H2118.8ZM2084.7,1447.1H2169.9V1464.7H2084.7ZM2050.7,1464.1H2169.9V1481.7H2050.7ZM2050.7,1481.1H2187V1498.6H2050.7ZM2050.7,1498.1H2187V1515.6H2050.7ZM2067.7,1515H2169.9V1532.6H2067.7ZM2084.7,1532H2152.9V1549.6H2084.7ZM2101.8,1549H2152.9V1566.5H2101.8ZM2101.8,1566H2152.9V1583.5H2101.8ZM1164.6,1582.9H1181.6V1600.5H1164.6ZM1198.7,1582.9H1215.7V1600.5H1198.7ZM2101.8,1582.9H2238.1V1600.5H2101.8ZM1164.6,1599.9H1215.7V1617.5H1164.6ZM2101.8,1599.9H2255.1V1617.5H2101.8ZM1147.5,1616.9H1232.7V1634.5H1147.5ZM2101.8,1616.9H2255.1V1634.5H2101.8ZM1130.5,1633.9H1232.7V1651.4H1130.5ZM2118.8,1633.9H2221.1V1651.4H2118.8ZM1147.5,1650.8H1232.7V1668.4H1147.5ZM1147.5,1667.8H1232.7V1685.4H1147.5ZM1164.6,1684.8H1215.7V1702.3H1164.6ZM1164.6,1701.8H1198.7V1719.3H1164.6ZM1215.7,1701.8H1232.7V1719.3H1215.7Z" fill="#e2edf3"/>
</g>
<path d="M215.9,329.1l11.7,2.7 12.7,3.8 5.7,5.7 4,5.6 3.7,2.2 2.8,2.7 0.1,14.2 1.5,15 9.7,8 11.4,5 10.2,-0.4 9.3,-1.2 7,2 6,2.9 4.5,4.3 5.2,3.8 17.5,2.9 18.2,2 8.1,-0.8 8.2,-0.9 14.9,1.6 14.3,1.7 4.9,-1 4.8,-0.6 43.5,12.9 42.6,13M540.6,260.9l-42.2,152.6 0,22.7M498.4,436.2l5.8,9.3 5.5,10.2 -0.6,5.1 -2.6,4.7 -12.2,17.3 -13.8,18.4 -11,11.7 -8.5,9.4 -1.1,5.9 1.1,5.4 4.7,3.6 3.5,4.6 -4.9,9.2 -6.5,11.9 -13.6,47.2 -12.4,45M581.2,273.9l-8.6,24 -7.7,27.9 2.6,21.1 5.6,17.9 7.2,10.2 7.4,9.3 4.8,14.9 4.9,14.3 9.2,6.7 7,6.3 -5.6,12.8 -7.4,13.2 -0.9,8.5 -0.7,7.7 -5.3,7.6 -4.4,7 1.9,6 4.6,3.8 8.9,-4 8.9,-4.2 4.1,2.8 2.4,5.4 1.7,14.8 1.6,16 3,11 3.5,8.5 4.1,3.2 4,3.3 1.6,11 3.3,10.1 11.6,-0.9 14.3,-2.4 17.2,3.5 15.3,3 3.7,-4.3 2.8,-3.8 6,5.3 5.4,6.1M727.3,554.7l-8.1,22.8 -11.4,77.6M118.5,569.4l178.6,60 86,25.7M297.1,629.4l-4.9,25.7M1054.4,358.3l-17.9,180.2 -8.1,60.1 -7.5,56.5M1036.5,540.1l314.9,19.5M727.3,554.7l52.7,8.2 248.4,35.7M1327.1,374.5l0.6,26 1.7,29.2 5.4,16.3 5.3,16.2 0.8,26 0.8,26 5,17.9 4.7,14.5 0.2,9.6 -1.8,8.3 -5.9,6.8 -5.5,6.2 0.4,5.8 2.9,5.5 6.9,4 6.1,5.8 0.6,28.7 -0.6,27.8M1642,424.4l2.6,-8 2.8,-11.3 2.8,-8.1 3.4,-2.6 4.6,-1.4 4.1,-2.1 4.6,-5.3 5.4,-7.2 4.2,-5.8 2.8,-4.1 2.7,-4.2 2.7,-2.8 3.7,-1.1 4.5,-0.3 3.9,0.3 3.4,1.3 3.6,2.2 3.2,1.6 3.1,0.9 3.5,0.6 3.5,0.5 5.8,0.5 7.6,0.4 6.9,0.2 7.5,-0.5 8.6,-0.7 6.2,0.1 2.7,2 1.9,3.2 1.5,3 1.7,3.1 1.8,3.7 1.6,3.3 1.6,3.2 1.8,3.7 1.7,3.2 1.8,3.1 2.2,3.4 2.1,2.7 2.4,2.2 2.9,2.3 2.8,1.6 3.1,1 3.7,0.7 3.3,0.3 3.2,-0.4 3.6,-0.8 3.4,-0.8 3.9,-0.8 4.5,-0.9 3.7,-0.4 3.2,0.2 3.2,0.6 1.8,1.3 -0.7,3.1 -2,4.3 -1.4,3.7 -0.5,3.1 -0.2,3.4 0.7,2.7 2.7,2 4,2.1 3.5,1.9 3.4,2.4 3.6,2.9 2.1,2.9 -0.6,3.8 -2,4.6 -1.5,3.7 -0.7,2.5 -0.6,2.6 0.3,2 2,1.5 3.2,1.5 2.9,1.1 3.2,0.5 3.8,0.5 2.2,1 -0.4,2.6 -1.7,3.6 -1,3 0.1,2.2 0.6,2.2 1.3,1.6 3.5,1 5,0.8 3.7,1.3 2.1,3 1.7,3.9 0.3,2.2 -1.9,-1.3 -3.3,-2.9 -2.9,-1.9 -2.5,0.2 -3,1 -2.7,0.9 -3.1,0.7 -3.7,0.7 -3.3,0.6 -3.5,0.6 -3.9,0.6 -2.7,-0.2 -0.8,-1.7 -0.1,-2.7 -0.2,-2.7 -0.6,-3.4 -1,-4.1 -1.4,-2.6 -2.8,-0.2 -3.9,1 -3.5,1.2 -3.2,1.5 -3.6,2.1 -3.3,1.5 -3.8,0.8 -4.6,0.7 -3.8,0.5 -3.3,0.5 -3.6,0.7 -3.2,0.8 -3.3,1.4 -3.8,1.9 -3.1,1.8 -2.7,2.3 -2.9,2.7 -2.5,2.1 -2.5,1.3 -2.9,1 -2.7,0.7 -3.1,0.1 -3.7,-0.1 -3.3,0 -3.3,0.4 -3.8,0.6 -3.1,0.1 -2.7,-0.6 -2.9,-1.1 -2.5,-1.4 -2.6,-2.3 -3,-3.1 -2.5,-2.7 -2.2,-2.8 -2.4,-3.1 -2.5,-2.2 -3.3,-1.1 -4.2,-0.6 -3.7,-0.4 -3.7,-0.6 -4.2,-0.6 -3.3,0.2 -2.6,2.4 -2.6,3.3 -1.9,1.4 -1.4,-3 -1.2,-5.2 -0.4,-3.9 1.1,-1.7 2.1,-1.1 1.9,-1.3 2,-2.3 2.5,-2.9 2.6,-2.9 3.5,-3.6 4.4,-4.4 3.2,-3.2 1.9,-1.5 1.9,-1.5 0.3,-1 -3,-0.6 -5,-0.5 -4.2,0.1 -3.4,0.9 -3.7,1.5 -3,1.6 -2.4,2.1 -2.5,2.6 -2.2,2.4 -2.3,2.3 -2.5,2.6 -2.3,2.2 -2.2,1.9 -2.6,2.2 -2.3,2 -2.5,2.5 -2.9,3 -2.7,2.6 -2.8,2.4 -3.4,2.6 -3,2.1 -3.2,1.5 -3.7,1.4 -3.2,1.2 -3.3,0.9 -3.8,1 -3.1,1.1 -2.7,1.8 -2.9,2.3 -2.5,2 -2.6,2 -3,2.2 -2.5,1.9 -2.1,2 -2.3,2.2 -2.7,0.9 -5.1,-1.2 -6.7,-2.6 -4.4,-2.3 -0.4,-2 1,-2.6 0.4,-2.5 -1.1,-3.5 -2,-4.2 -2,-2.5 -2.6,0.5 -3.4,1.9 -3.1,1.7 -3.2,1.2 -3.7,1.5 -3.3,1.4 -3.2,1.9 -3.7,2.3 -3.2,1.8 -3.2,1.4 -3.6,1.3 -3.4,0.4 -4.3,-1 -5,-2.1 -2.8,-2 0.7,-2.4 2.6,-3 2.7,-2.7 3.1,-2.6 3.9,-3 3.2,-2.5 2.4,-2.3 2.5,-2.5 2.2,-2.3 2.3,-2.5 2.5,-3 2.3,-2.6 2.2,-2.6 2.6,-3 2.3,-2.6 2.5,-2.6 3,-3 2.6,-2.5 2.5,-2.1 2.9,-2.1 2.7,-1.9 3.1,-2 3.8,-2.2 3.3,-1.8 3.2,-1.4 3.7,-1.3 3.2,-1.4 3.3,-1.9 3.7,-2.3 3.2,-1.9 2.9,-1.7 3.3,-1.8 2.9,-1.6 3.3,-1.2 3.9,-1.3ZM1642,424.4l5.8,4.8 6.4,4.3 3.4,-1.1 2.7,-3 3.9,-6.8 4.2,-7.4 3.9,-5.7 4.2,-4.4 4.8,-1.3 5.4,0.3 7.6,3 8.6,4.1 9.9,4.9 10.4,5.2 10.2,5.2 10.1,5 10.1,4.6 10.2,4.5 10.2,4.6 10.1,4.5 10.1,4 10.2,4.1 10.7,5.1 9.6,5.1 5.9,3.8 4.2,4.3 0,7.3 0,6.9 4.2,3.2 6,1.9 14.7,1.8 13.7,1.2M1656.2,419.3l6.1,-8.1 10.2,-4.1 10.1,3.1 -4,5 -8.1,6.1 -8.2,7.1 -6.1,-3ZM1538.6,504.5l-4.2,3 -4,5.1 -0.3,15.3 0.3,15.2 -0.4,4.3 -1.6,3.8 -5.9,4 -6.3,4.1 -3.5,4 -2.6,4.1 -2.7,4.6 -1.3,4.6 3.8,3.5 4.3,3.6 1,4.6 0,5.5 -1,9.7 -1,10.6 -0.1,10.5 0.1,8.4M1610.6,515.7l3.2,2.1 3.9,2.9 2.7,3.6 3.4,3.5 6.4,1.7 7.8,1.4 10.4,2.1 9.9,2 5.3,1.4 4.8,1.6 5,2.5 5.2,2.2 6,0.2 6.1,-0.2 5.3,0.4 4.9,1 4.1,2.3 4,2.8 5.3,3 4.9,3 2.5,2.8 1.5,3.3 -0.6,5.6 -0.4,5.6 2.4,2.7 2.7,2.4 1,3.9 1,4.2 2.6,4.5 2.5,3.6M1734.4,593.8l-5.1,10.1 -6.1,8.2 -3,10.1 3,10.8M1761.8,572.5l-6.1,13.2 -6.1,14.2 -4.1,10.1 -2,12.2 1,10.8M1734.4,593.8l7.1,-12.2 8.1,-16.2 6.1,-12.2 1,-11.1 7.1,6 8.1,-5 1,6.1 5.1,-2.1M1872.3,500.2l4.2,0 7.4,1.7 6.7,1.3 6.3,0.3 7.5,0.2 6.5,-0.1 6.6,-0.3 7.5,-0.6 6.2,-0.5 5.3,-0.7 5.7,-0.8 5.2,-0.5 5.8,-0.1 6.7,0 5.8,0.1 5.5,-0.1 6,-0.1 4.7,0.2 3.4,1.2 3.3,1.7 3.4,1.1 5.6,-0.1 7.1,-0.7 5.6,-0.2 3.7,0.5 3.6,1.1 2.9,1.4 2.7,2.6 2.9,3.6 2.5,3 2.4,2.7 2.8,2.9 2.9,2.5 4.5,2.3 5.6,2.4 4.1,2.4 1.8,2.7 1.2,3.4 1.1,3 1.8,3.3 2.2,3.9 2,3 2.2,2.2 2.6,2.2 2.3,1.7 2.5,1.4 2.8,1.3 1.8,1.3 0.4,1.8 -0.4,2.1 -1,1.2 -2.4,-0.7 -3.5,-1.5 -3.2,-0.9 -3.8,0.4 -4.3,1.2 -2,1.5 2.4,2.5 4.6,3.5 3.1,3.1 0.4,3.2 -0.8,3.7 -1.6,2.3 -3.3,0.3 -4.8,-0.6 -4.1,-0.8 -3.4,-0.8 -3.6,-1.1 -3.2,-1.1 -3.4,-1.6 -3.8,-1.8 -2.9,-0.7 -2,2.1 -1.7,3.4 -1.4,1.6 -1.1,-2.3 -1,-4.2 -0.9,-3.6 -0.9,-3 -1,-3.2 -1.2,-1.9 -2.1,0.3 -2.7,1.2 -2.3,0.5 -2.1,-1.3 -2.3,-2.4 -1.7,-2.4 -1,-3.2 -0.8,-4.1 -1.2,-2.8 -2.5,-1 -3.5,-0.2 -3.1,0.2 -3.8,0.6 -4.4,1 -2,1.4 2.4,2.4 4.8,3.1 4,2.6 2.5,1.6 2.4,1.6 2.2,1.9 2.4,3.2 2.8,4.3 1.9,3.6 0.9,3 0.3,3.2 -0.2,3 -1.3,3.5 -2,4.2 -1.8,3.4 -1.7,2.7 -1.9,2.9 -1.4,2.6 -0.9,3.1 -0.7,3.7 -0.5,3.3 -0.5,3.2 -0.4,3.8 -0.1,3.2 0.5,3.2 0.8,3.7 0.7,3.2 0.7,3.2 0.7,3.6 0.7,3.3 0.8,3.8 0.9,4.5 0.3,3.9 -0.5,3.7 -1.1,4.1 -1.4,3.4 -2.3,3.1 -3.2,3.3 -2.7,2.7 -2.3,2.6 -2.6,2.8 -2.2,1.7 -2.3,0.3 -2.6,-0.6 -2.2,-0.7 -2,-0.9 -2.2,-1.4 -1.8,-1.8 -1.5,-2.9 -1.4,-3.8 -1.2,-3.4 -1,-3.2 -1,-3.8 -1,-3.2 -1.2,-3.2 -1.5,-3.7 -1.4,-3.2 -1.5,-3.3 -1.8,-3.8 -1.8,-3 -2.4,-2.7 -3,-2.7 -2.7,-1.7 -2.6,-0.3 -2.9,0.4 -2.6,0.9 -2.7,1.6 -3.1,2.3 -2.3,2.2 -1.5,2.5 -1.3,3 -1.3,2.6 -1.8,2.6 -2.2,3 -2.1,2.5 -2.4,2.7 -3,2.9 -2.7,1.5 -3.1,-0.8 -3.6,-2 -2.4,-2.3 -1,-3 -0.4,-3.9 0.4,-3.2 1.8,-2.4 2.9,-2.5 2.4,-2.2 2.1,-2.5 2.3,-2.9 1.6,-2.7 0.8,-3.2 0.5,-3.9 0.8,-3.1 1.9,-2.3 2.6,-2.4 1.6,-2.4 0.1,-3.3 -0.6,-4.2 -0.5,-3.7 -0.2,-3.6 -0.3,-4 -0.6,-3.5 -1.4,-3.4 -2,-3.7 -1.6,-3.1 -1.3,-2.8 -1.3,-3 -0.5,-2.3 1.2,-1.3 1.9,-1.2 1,-1.5 -0.9,-3.1 -2,-4 -2.2,-3.1 -2.9,-1.7 -3.7,-1.3 -3.5,-1 -3.8,-1 -4.6,-1.1 -3.8,-1 -3.4,-0.9 -3.7,-1 -3.1,-1.1 -2.6,-1.9 -2.9,-2.4 -2.6,-1.8 -3,-0.8 -3.7,-0.5 -3.4,-0.7 -3.8,-1.5 -4.5,-2 -3.9,-1.6 -4.2,-0.9 -4.8,-0.9 -3.2,-1.3 -1.1,-3.1 0,-4.2 1.1,-2.8 3,-0.3 4.6,0.8 4.6,0.5 6.3,0 7.9,-0.2 6.1,-0.8 4.4,-1.9 3.9,-3 1.8,-3.2 -2.3,-5 -4.2,-6.2ZM1886.5,511.3l4.1,-1 6.5,-0.8 5.7,-0.2 5.2,0.7 5.8,1.2 5.2,1.1 5.3,1.2 6,1.3 4.9,0.6 4,-0.6 4.2,-1.3 4,-1.2 4.9,-1.1 6,-1.2 5.3,-0.7 5.6,-0.2 6.4,0.2 4.3,1 1.6,2.9 0.4,4.4 0,3.9 -0.2,4.2 -0.7,4.7 -1.1,3.2 -2.1,0.8 -3,-0.3 -3,-0.5 -3.6,-0.8 -4.6,-1.1 -4,-1.1 -3.8,-1 -4.3,-1.1 -4.1,-1 -5,-1.2 -6,-1.6 -5.2,-1.2 -4.6,-1.1 -5,-1.2 -4.6,-0.8 -5.2,-0.4 -6.1,-0.3 -5,-0.3 -4.4,-0.5 -4.6,-0.6 -3.1,-0.9 -1.8,-1.8 -1,-2.5ZM1873.3,498.3l2.2,4 2.9,5 2.8,5.1 3.3,5 4.4,4.4 4.7,3.7 4.4,2.2 4.8,1.9 6,3 6.1,3.1 5.2,2.6 5,2.4 5,2 5.1,2.1 5.4,2.3 4.8,2.8 2.8,4.2 2.2,4.9 2.2,5.5 1.9,5.7 1.5,5.1 1.5,5 2,5.1 2.1,5.1 2.1,5.1 2,5 1.5,5 1.5,5.1 1.5,5 1.6,5.2 2,5.6 2,5.6 1.6,5.6 1.5,5.5 1.6,5.2 1.4,5 0.8,5 0.2,5.1 -1.3,5.1 -1.7,5.1 -1.7,5.6 -1.4,4.5M2090.5,648.3l0.4,-3.1 1.2,-3.8 1.4,-3.3 1.7,-3 2.2,-3.3 2.2,-2.8 2.5,-2.6 3,-2.9 2.6,-2.6 2.5,-2.7 2.9,-3.1 2.7,-2.3 3.1,-1.5 3.8,-1.4 3.3,-1.2 3.2,-1.2 3.7,-1.5 3.2,-1.3 3.2,-1.6 3.6,-1.8 3.4,-1.7 3.9,-1.7 4.5,-2 3.7,-1.4 2.8,-0.8 2.9,-0.5 2.5,-0.7 2.8,-1.1 3.2,-1.5 2.1,-1.5 0.2,-1.9 -0.6,-2.3 0.4,-1.9 2.6,-1.7 4,-1.8 3.5,-1.5 3.5,-1.8 4.1,-1.8 2.6,-0.5 0.4,2.2 -0.5,3.8 0.1,3.1 1.6,2.5 2.4,2.6 2.1,1 2.3,-1.7 2.5,-3.3 1.2,-3.1 -1.7,-3 -3,-3.6 -1.3,-2.5 2.3,-1 4.1,-0.4 3.7,-0.7 3.2,-1.6 3.7,-2.3 3.2,-2.1 3.3,-2.2 3.8,-2.7 3.1,-2.2 3.2,-2.7 3.5,-2.8 1.4,-0.6 -2.7,4 -4.7,6.6 -2.7,5.6 1.9,4.3 3.8,4.5 2.4,3.4 -0.9,2.2 -2.1,2 -1.1,1.9 1.5,2.4 2.7,2.9 1.9,2.8 0.9,3.2 0.5,3.9 -0.4,3 -2.3,2.1 -3.7,2 -3.1,2 -2.6,2.8 -2.9,3.5 -2.6,2.8 -2.6,1.9 -2.9,1.8 -2.6,1.4 -2.5,1.4 -2.9,1.5 -2.8,1.2 -3.7,1 -4.5,1.1 -3.9,0.9 -3.4,1.1 -3.6,1.3 -3.2,0.7 -3.2,-0.1 -3.7,-0.5 -3.2,-0.4 -3.2,-0.1 -3.8,0 -3.2,0.1 -3.2,0.2 -3.7,0.3 -3.2,0.5 -3.2,0.8 -3.8,1.1 -3.2,1.1 -3.2,1.3 -3.7,1.5 -3.2,1.3 -3.4,0.9 -3.9,1 -2.9,1.1 -1.6,1.9 -1.3,2.4 -1.1,1.8 -1.2,0.9 -1.5,0.6 -1.4,0.5 -2.9,1.3 -3.8,1.7 -3.4,1.1 -3.4,0.5 -3.9,0 -2.9,-0.5 -2.1,-1.7 -1.9,-2.7ZM2136.1,671.6l-2.7,-4.5 -3.4,-4.6 -3.8,-0.3 -3.3,-0.7 -1.2,-5.4 -0.8,-6.8 -2,-7.9 -1,-7.3 3.4,-4.1 4.7,-3 4.8,-2.3 5.3,-1.8 6.1,-1.6 6.1,-1.4 5.2,-1.6 4.9,-1.5 5.1,-1.1 5.1,-0.9 5,-0.9 5.1,-1.1 6.1,-1.6 6.1,-1.5 5.1,-1 5.1,-1 6.5,-1.2 5.6,-1.8 1.5,-3.7 0.6,-4.5 1.5,-4.9 1.5,-5.2 1.4,-6.2 1.6,-6 1.9,-4.7 2.2,-4.4 2.8,-4.7 3.3,-4.4 4,-3.1 4.1,-3 4.2,-3.8 3.9,-4.3 2.7,-5.4 2.4,-5.8 2.4,-5.8 2.7,-5.4 3.9,-4.3 4.2,-3.8 4,-3.8 4.1,-3.3 4.5,-1.9 3.6,-1.1M1778,547.2l3.9,-3.5 5.2,-5 5.1,-3.7 6.5,-2 7.9,-1.5 5.9,-1.5 2.8,-2.4 2.4,-3.1 3,-1.6 6,1.1 8,2.4 6.2,1.5 3.4,-0.3 3.4,-0.9 3.4,-0.8 5.7,-0.7 7.5,-0.7 7.1,-0.6 8.8,-0.7 10.6,-0.7 7,0.4 2.1,2.8 0,4.3 -2.1,3 -9,1.8 -13.4,1.5 -10.1,0.8 -4.4,-0.6 -4.4,-1.2 -3.4,-0.3 -3,1.3 -3,2.3 -2.1,2.5 -1.1,3.6 -0.6,4.7 -0.3,3.9 0.2,3 0.3,3.1 -0.7,2.6 -3.5,2.5 -5.1,2.8 -3.6,2.8 -1.1,3.8 -0.2,4.6 -0.7,3.8 -2.2,3 -3.1,3.1 -2.8,2 -2.6,0.6 -3,0.1 -2.6,0.4 -2.7,1.5 -3.1,2.3 -2.3,2.2 -1.2,2.7 -0.9,3.3 -0.9,3.2 -1.3,3.5 -1.6,4.3 -1.2,4.3 -0.7,5.6 -0.5,7 -0.8,5.7 -1.7,4.1 -2.2,4.2 -1.2,3.9 0.7,5.1 1.5,6.2 0.9,4.9 -0.8,3.6 -1.6,3.5 -0.7,3.1 0.9,3.2 1.6,3.7 1.6,3.2 1.5,3.3 1.9,3.7 1.6,3.2 1.6,2.9 1.9,3.2 1.6,3 1.7,3.4 2,4 1.4,3.7 0.6,3.9 0.2,4.5 0.2,3.8 0.4,3.2 0.5,3.6 0.1,3.4 -0.4,4.3 -0.7,5.3 -0.9,4.6 -1.5,4.6 -1.9,5.2 -1.7,4.4 -1.3,4.1 -1.3,4.4 -1.4,3.7 -1.8,3.5 -2.2,3.7 -2.1,2.9 -2.4,2.2 -2.9,2.1 -2.8,1.8 -3.1,2.1 -3.7,2.4 -3.4,1.6 -3.6,0.9 -4.2,0.4 -3.3,-0.3 -2.6,-1.6 -2.5,-2.7 -2.1,-2.8 -1.9,-3.6 -2.1,-4.6 -2,-4 -2.7,-3.7 -3.2,-4.3 -2.3,-4.2 -1,-5.4 -0.5,-6.8 -0.5,-6 -0.6,-5.8 -0.6,-6.5 -0.8,-6 -1.2,-6.6 -1.7,-7.7 -1.2,-6 -0.9,-4 -0.9,-4.1 -0.2,-4.1 1,-6 1.8,-7.5 1.3,-6.7 0.4,-6.7 0.2,-7.6 0.4,-6 1.2,-4.1 1.6,-4.1 1.2,-4 0.4,-5.6 0.2,-6.9 0.4,-5.8 1,-4.5 1.3,-4.8 0.8,-4.9 -0.6,-10.5 -0.9,-13.9 0.5,-10.1 4,-4.2 6.1,-2.6 5.1,-3.3 4,-7 4,-9 3.2,-6.3 1.8,-1.2 2.3,-0.6ZM1952.4,754.8l0.5,-0.2 0.8,0.1 0.7,0.1 3.3,0.4 4.8,0.5 4.1,0.1 3.4,-0.9 3.7,-1.6 3,-1.5 2.8,-1.5 2.9,-1.9 2.4,-1.7 1.9,-1.9 2.1,-2.2 2.1,-2 3.1,-1.9 3.9,-2.3 3.2,-1.9 2.8,-1.8 2.9,-2.1 2.4,-2.2 2,-3 2.1,-3.8 2,-3.3 2.4,-3.4 2.9,-3.8 2.8,-3 3,-2.3 3.7,-2.2 3.4,-1.6 3.8,-1 4.5,-0.7 3.9,-0.3 3.9,0.2 4.4,0.5 3.9,0.3 4.2,0 4.6,-0.3 3.3,-0.7 1.1,-1.6 0.3,-2.4 0.7,-2.1 2.2,-2.6 3,-3.1 2.9,-2.4 3,-1.5 3.7,-1.3 3.4,-1.2 3.8,-1.6 4.5,-2 3.9,-1.5 3.9,-1.1 4.4,-1.1 3.9,-0.9 4,-1.1 4.5,-1.2 3.7,-0.7 3.5,-0.2 3.6,0.2 2,1 -0.7,2.7 -2.2,4 -2.2,3.5 -2.4,3.2 -3,3.6 -2.7,3.3 -2.6,3.9 -2.9,4.6 -2.6,3.7 -2.6,2.9 -3,2.9 -2.5,2.3 -1.9,1.8 -2,1.8 -2.2,1.5 -4,2 -5.4,2.5 -4.8,2.6 -4.6,3.7 -5.2,4.6 -4.4,3.8 -4,2.8 -4.4,2.8 -3.8,2.6 -3.9,3.1 -4.4,3.7 -3.9,3.3 -3.9,3.3 -4.5,3.8 -3.7,3.1 -3.4,2.8 -3.6,3 -3.2,2.3 -3.2,1.8 -3.6,1.8 -3.3,1.4 -3.8,1.1 -4.5,1 -3.9,1 -4,1.3 -4.6,1.6 -3.6,1.1 -2.8,0.6 -2.8,0.4 -2.5,0.1 -2.6,-0.3 -2.9,-0.6 -2.6,-0.2 -2.6,1.1 -2.9,1.6 -2.6,0.4 -2.6,-2.3 -3,-3.8 -2.6,-3 -2.8,-1.4 -3.1,-1.1 -2.2,-1.6 -1.2,-3.5 -0.7,-4.8 -0.1,-3.9 1,-3.1 1.7,-3ZM1967.6,720.3l4.5,0 6.3,0.9 4.4,1.1 1.5,1.6 0.7,2.4 -0.2,2.1 -1.3,2.2 -2.4,2.4 -2.4,1.5 -3.2,0.3 -4,-0.4 -2.9,-0.9 -1.6,-1.9 -1,-2.8 -0.5,-2.4 0,-2.3 0.6,-2.4ZM1977.1,702l-4.5,14.2 -5,6.1 -1,10.2 -4.1,4 -9.1,4.1 -1,12.2 2,5M1954.4,757.8l2.3,3.4 3.8,3.8 7,2.4 7.2,1.6 4.1,0.4 4,-0.4 5.9,-1.5 6.3,-2.5 5.9,-4.7 6.2,-5.5 7,-6 7.2,-6.2 7.2,-6.2 7.1,-5.9 7.1,-4.4 7.1,-3.8 7.1,-3.2 7.1,-2.9 7.1,-2.8 7.1,-3.2 7.1,-4.9 7.1,-5.3 7.1,-5.1 7.1,-5 7.1,-5.1 7.1,-5.1 7.8,-5.1 6.4,-4M1792,791.3l89.3,-9.1 62.9,-9.1 6.1,-10.2M2102.5,716.2l8.1,12.2 39.4,-7.1M2693.3,300l-2.9,5.9 -2.9,6.6M2544.3,225.5l-1.7,4.2 -2.7,4.6 -5,2.5 -5.2,1.9 -3.6,2.2 -3.7,1.4 -5,-2.2 -5.3,-2.2 -5.1,1.4 -5.1,2.3 -5.3,2.1 -4.9,2.3 -3.6,2.5 -2.3,3.3 0.6,5.7 1.6,6 2.6,4.5 1.8,4.3 -2,5.3 -3.1,4.9 -3.9,2.7 -3.4,1.7M2427.7,443.2l5.4,14.8 13.4,33.5 10.7,29.4 10.7,29.5 9.4,8M2339.3,487.4l5.4,20.1 8,21.5 1.3,16 6.7,24.9M297.1,640l-52.9,165.6 189.2,305.2M383.1,655.1l45.5,14.1 129.8,34.1 133.2,27.6M436.7,640l-8.1,29.2M558.4,704.9l-68.1,295.5 -9.8,43.8 -8.1,11.4 -4.9,-1.6 -9.7,-8.2 -13,0 -3.2,13 -8.2,52 0,14.3M712.7,640l-21.1,90.9M691.6,730.9l-9.8,60.1M772.7,813.7l-42.2,235.4 -13,76M490.3,1000.4l240.2,48.7 69.5,9.7M1024.2,640l-8.8,77.9 -14.6,121.8M1015.4,717.9l54.7,4.4 67,5.4 67,4.6 56.4,4.5 9.1,4.1 7.2,4.6 5,1.3 4.7,0.3 4.6,-1.3 5.1,-1.3 8,0 8.3,1 6.3,3.6 6.7,4.5 10.4,5.3 9,4.5M1354.7,640l-0.7,68.2 -7.4,4.9 6.5,17.8 -8.2,22.7 0,9.8M1353.1,708.8l226.9,-5.5M1344.9,763.4l5.6,4.1 5.8,5.6 1,7.1 0.6,7.5 4,6.9 4.1,7.7 1.6,11.6 1.7,11.2 4.1,5 4,4.7 1.2,7.4 0.4,8.8 -0.2,14.2 0.2,13.4 3,4.2 3.5,4 1.6,8.2 1.7,8 4.1,3.5 4,3 2,6 1.2,5.3M1385.5,885.8l183.5,-6.2 8.1,7.2M681.8,791l98.2,17.8 220.8,30.9 92.5,9.7M1093.3,849.4l-3.9,60.1M1089.4,909.5l145.1,8.1 165.6,4.2M1400.1,921.8l11.8,4.4 11,6 -3.5,7.7 -4.7,8.5 4.7,9.4 6.7,8.5 6.7,3.6 4.7,4.5 1.4,75.8 0.2,74.9M1089.4,909.5l-15.6,181.8M800,1058.8l93.6,14.6 133.2,14.7 47,3.8 193.2,11.7 172.1,2.3M1026.8,1089.7l-3.3,27.6M1523.5,640l10.7,5 12,6.4 6.7,7.4 6.3,7.2 9.5,4.9 8.4,4.8 2.3,7 0.6,6M1560,664.4l8.7,4.2 9.2,7.1 2.9,14.5 1.9,14.7 4.1,6.5 4,6.5 0.4,11.4 1.3,11.3 7.8,6.2 8.4,5.2 4.5,6.7 3.6,6.3 3.9,4 4.2,4.1 7.3,7.3 5.7,9 -2.2,13.1 -5.9,12.8 -12.2,7.3 -12.1,5.7 -4.3,4.5 -2.2,5.3 2.5,7.6 2.3,8.6 -3.2,9.6 -4.9,9.9 -7,9.5 -6,9.9 -0.2,11.4 1.9,11.4 3.2,10.1 4.9,9.4 9.6,8.4 9.8,7.8 5.5,6.6 4.3,6.4 3.2,7.9 3.3,6.7 5.3,0.6 6,-0.6 7.3,0.7 5.7,2.5 -1.5,8.2 -3.3,9.7 -3.3,9.1 -1.6,8.7 4.6,7.8 6.8,6.9 7.9,4.9 8.3,4.8 7.9,6.2 6.7,6.8 3.2,8.3 1.7,7.9 -0.3,5.1 0.3,4.7 4.4,5.3 5.3,4.4 4.4,0.5 3.7,1.1 1.9,6.7 0.4,7.9 -2.8,7 -4.3,6 -6.9,2.9 -6.1,1.7M1566.5,879.6l16.2,13.6M1560,704l19.5,-0.7M1616.8,762.7l127.6,-9.7M1758.7,799.1l1.9,15.3 2.3,20.4 2.5,25.4 2.4,26.6 2.3,25.1 1.6,21.9 -1.4,10.2 -0.9,9.3 4.1,10.4 3.4,10.7 -3.7,11.6 -5.4,11.1 -5.3,8 -4.4,8.3 0,12.8 0.6,13.2 -1.3,10.7 -2.6,8.7 -6.5,3.7 -6.5,2.8 -3.3,4.8 -1.6,5 3.6,4.6 1.3,3.5 -14.1,-1 -15.1,-0.6 -3.7,5.5 -1.2,5.8M1758.7,1036.1l7.1,-0.5 8.5,-1.1 6.6,-3.6 6.4,-2.9 6.5,2.6 6.5,2.3 6.5,-4.9 6.4,-4.9 5.9,2.8 5.5,2.1 4.3,-7.7 3.8,-8.5 3.1,-2.6 3.4,-0.7 4,3.9 4.1,4.2 4.3,1.2 3.9,-1.2 2.2,-7.4 2.6,-8.8 5.5,-6.4 5.9,-6.6 4.1,-9.6 4,-8.3 5.4,-0.4 6,0.4 7.9,-4.2 6.7,-5.5 0.1,-6.7 -1.7,-6.3 -1.7,-3.8 -1.6,-2.7M1881.4,781.2l19.5,159.1M1900.9,940.3l9.1,0.2 10.4,1.4 6.7,5.6 6.3,5.8 8.3,2 7.9,1.3 5.2,2.7 4.6,2.1 4.9,-1.5 4.8,-1.7 4.6,1.8 5.1,1.4 8.3,-4.2 8,-3.9 3.4,2.5 3.1,4 7.6,4.4 7,3.7M2016.2,967.9l3.9,-0.8 4.2,-2.4 3.5,-9.3 3,-10.2 1.4,-7.5 1.8,-5.5 4.8,0.3 5,-0.3 2.9,-9 3.6,-10.5 7.7,-7.4 8.5,-7.2 8,-8.5 6.6,-9.3 1.3,-11.2 0.3,-11.6 2.9,-11.9 2,-10.8 -3,-6.8 -3.5,-4.6M2071.4,735.8l25.9,136.3M2147.7,862.4l1.1,14.3 2.1,13.3 4.2,-2.8 5.5,-6.9 7.8,-7.8 8.5,-6.9 8.3,-1.9 7.9,0.3 6.7,2.2 4.7,4.3 -0.5,9.3 -2.8,10.2 -5.2,8.7 -6.1,7.5 -6,4 -5.4,4.2 -2.6,9.1 -2.3,8.7 -3.6,3.4 -4.5,1.5 -6.9,-1.4 -6.1,-1.9M2152.5,933.8l-2.1,8 -2.7,9.9 -3,9.5 -3.5,10 -5.3,11.7 -4.5,11 0.8,7.3 0.9,5.7 -3.4,2 -4.8,1.2 -8.4,3.1 -7.8,3.4 -1.5,3.3 -1.7,3.2 -7.7,1.7 -8.6,1.6 -6.6,3.6 -6.4,2.9 -7.4,-0.7 -7.2,-2.6 -5.9,-6.3 -5.4,-6.7 -4.8,-3.3 -5,-3.2 -6.4,-6.3 -6.6,-6.7 -6.3,-5.4 -5,-5.9 -0.6,-9.5 0.6,-8.4M2045.4,1024.7l-8.1,7.8 -9.8,10.1 -7.5,11.2 -8.7,11.5 -15.4,11.7 -13.8,9.4M2076.2,1071.8l-6.5,19.5 -16.2,19.5 -16.2,9.7 -13,4.6M1689.9,1125.1l71.4,-6.2 3.2,-9.7M2103.8,727.7l193.2,-40.6 13,3.2 9.7,14.6 17.9,11.4M2463.9,540l4,9.4 10.7,8M2352.7,544l6.7,20.1 6.7,2.7 5.3,16.1 6.7,24.1 2.7,9.3M433.4,1110l0.6,7.1 1.1,9.1 2.1,10 2.7,9.5 4.6,6.2 2.9,5.2 -5.3,4.9 -7,4.8 -5.3,4.5 -4.5,5.3 -2.2,8.7 -2.6,9.1 -7.4,7.5 -7.3,7.1 -2.7,6.7 -0.5,6.3 4,5.7 4.1,5.7 0,6.9 -1.6,6.1 -3.6,2.6 -4.5,1.3 -5.3,0.2 -4.5,-0.2M721.4,1110l-49.3,285.1M1023.5,1113.2l-4.9,45.5 -11.3,113.6 -14.6,123.4M1023.5,1118.1l147.7,12M1171.2,1130.1l-4.8,116.3M1166.4,1246.4l3.6,3.7 4.5,4.4 3.8,3.7 4.3,2.8 6.7,0.5 6.3,-0.5 2.7,-1.9 2.2,-1.4 2.6,2.7 2.2,3.8 0,4.3 0.7,3.8 5.8,1 6.5,0.7 4.2,2.2 3.9,2 5,-0.6 4.8,-0.4 3.3,2.9 3.2,2.6 4.7,-1.7 5,-2.2 5.3,-0.2 4.4,0.9 1,3.3 0.7,4.1 3.5,5.7 4.6,4.1 6.6,-3.9 6.4,-4.2 3.3,2.6 3.2,3.9 5.6,2.4 5.7,1.5 3.6,-1.4 2.9,-0.9 1.7,5.4 1.6,4.3 2.9,-6.3 3.6,-6.7 4.8,1.9 4.9,3 4,-1.6 4.1,-1 8,6.5 8.3,5.9 5.7,-3.4 5.6,-4.8 8.2,-1 8,-0.6 5.2,-2.2 4.6,-1.7 4.8,2 4.9,1.9 4.9,-3 4.9,-2.8 4.9,2.2 4.8,3.6 4.6,4.1 5.2,4 8,2.9 8.2,2.6 5.8,2.4 5.5,1.9 7.6,0.7 6.4,0.2M1439.1,1090.5l0,22.7 0.6,24.4 9.1,66.6 -0.6,108.7M1439.7,1136l140.3,-4.9M1470.9,1317.1l0.6,14.1 0.7,19.1 -0.3,32.8 0.6,30.5 4.5,5.1 5.9,4.6 4.1,9.7 4,11.4 6,13.3 4.4,14.3 -3.7,15.5 -5,15.4 -1.1,13.8 -0.6,12.1 -1.4,6.9 -1.8,6.1 -2.6,7.1 -2.3,5.9M1472.2,1350.9l107.8,-3.2M780,1385.3l26,2.3 -1.6,-14.6 188.3,22.7M1560,1132.1l97.4,-5.2 6.5,5.8 -6.5,13 -6.5,13 34.1,-0.6M1709.4,1110l-2.6,3.7 -3.9,4.4 -6.6,2.8 -6.4,3.7 -3.1,8.5 -1.8,9.4 0.2,8.3 -0.2,7.9 -3.7,7.2 -4.4,7.4 -3.5,8.9 -3,9 -1.6,8.4 -1.7,7.8 -2.8,5.7 -3.7,5.7 -6.7,7.8 -6.2,8.4 -0.9,9 -0.8,8.9 -6.3,8.3 -6.6,7.9 -2.6,7.2 -2.3,7.4 -5.2,8.7 -4.6,9.2 0.2,9.8 1.5,9.6 1.8,8.7 1.4,7.6 -0.8,4.5 -0.8,4.6 1.4,10 1.8,10.1 0.5,5 1.2,4.7 5.3,5.4 4.4,6 -2.2,7.9 -4.3,8.3 -5.6,7.1 -5.8,7.5 -4.2,8.9 -3.9,10.6 -4.5,17.2 -3.6,15.3M1693.1,1124.6l65,-4.9 6.4,-6.5 19.5,-3.2M1662.3,1219.7l108.7,-8.4 123.4,-13.6 66.6,-8.2 60,-9.7M1560,1348.6l61.7,-2.2M1602.2,1471l50.3,-2.6 50.4,-1.9 1.8,2.7 -0.2,4.4 -2.1,6.9 -1.2,7.7 5.3,7.5 6.1,7.2 3,6.4 1.9,4.9M1771,1211.3l1.7,61 -3.3,129.9 4.9,48.7 6.5,47.1M1957.7,1439.5l-134.7,16.3 -1.6,9.7 9.7,11.4 1.6,14.6M1967.5,1456.8l144.4,-12.4 9.8,6.5 -6.5,4.9 8.1,-9.8 -3.2,-14.6 11.3,-4.8 14.6,1.6M2047,1110l-7.1,4.9 -9.1,6.5 -9.6,8.2 -9.9,8 -10,5.3 -9.5,4.4 -7.9,3 -6.7,3.5 -3.6,7.3 -2.9,7.3 -4.3,3.3 -3.8,3.2 -1.2,7.6 -0.4,7M2317.3,830.9l9.4,29.4 10.7,37.5 29.4,-4M2204.5,870.5l41.9,8.5 21.4,5.4 6.7,1.3M2150,1166.8l46.8,-5.4 28.1,18.5M237.1,191.6l9.1,8 8,6.5 8.6,7.6 8.5,6.5 10.5,3.5 10.6,-2 3,-9.5 3,-10.1 6,-14 -1,-5.5" fill="none" stroke="#000" stroke-width="4.17" stroke-dasharray="5 6.05"/>
<path d="M319.8,187.9l220.8,71.4 116.9,26 142.5,32.4M800,317.7l19,4.2 107.1,20.2 129.9,15.6 103.9,8.1 107.1,6.1 61.7,2 81.2,0.6M1409.9,374.5l-0.5,-12.3 0.5,-12 4.7,-0.6 5,3.8 2.7,11.8 2.2,12.6 1.5,6.5 3.4,4.9 14.4,2.6 14.8,2.2 4.9,4.5 4.8,3.6 9.3,-4.1 10.2,-4 10,3.9 9.5,5.9 7.9,6.4 6.7,4.9 4,-2.3 4.1,-2.5 7.9,4.2 8.3,5.5 6.3,5.1 6.7,3 10.6,-5 9.3,-5.8M1579.1,417.3l2.8,-0.2 3.3,0.2 1.8,2.7 2.3,2.3 12,-1 12.3,-1 3.2,1.8 2.9,2.3 4.8,1.9 5.4,1.1 6.6,-1.4 5.5,-1.6M2593.8,392.3l-3.8,2.1 -4.3,2 -2.9,-0.1 -2.4,-1.3 -4,-6.2 -4,-7.2 -2.7,-6.9 -2.7,-5.1 -3.8,2.3 -4.2,3 -5.2,-1.9 -4.2,-3.4 0.6,-4.3 0.7,-5.1 -10.4,-28.1 -11,-28.2 -1.4,-5.8 -2.6,-4.9 -11.2,-5.4 -11.6,-4 -4.2,0.5 -3.8,2.2 -8.1,7.7 -8,7.1 -4.4,-0.4 -3.6,-2.3 -1.3,-3.5 -1.4,-3.2 -4.7,-1.3 -4.7,1.3 -3.5,10.6 -3.2,13.5 -3.8,14.5 -2.9,13.6 1.2,8.6 1.5,7.5 -2.1,6.6 -1.9,6.8 2.6,9.3 2.7,9.4 -0.7,7 -1.9,6.4 -3.4,6.2 -3.3,5.9 -0.6,4.7 -0.8,4.7 -5,8.5 -5.7,7.5 -5,-0.2 -4.4,0.2 -2.5,10 -1.5,10.1M2414.3,463.3l-37.5,12.1 -37.5,12 -32.1,8.1 -25.5,6.7M2414.3,463.3l0.4,6.9 0.9,7.9 3,5.6 2.4,5.1 -1.3,5.4 -2.7,5.3 -4.9,4.4 -4.5,5 -0.3,8.2 0.3,9.2 -1.4,9 -1.3,9.7 -0.1,13.4 0.1,11.5M2281.7,502.2l-4.2,0.8 -5.2,1.9 -7.9,7.1 -8.1,8.9 -5.5,10.7 -5.3,10.8 -6.3,8.5 -7.1,7.5 -10,6.5 -8.7,5M2097.3,872.1l50.4,-9.7 61.7,-13 64.9,-16.2 42.2,-9.8M1764.5,1109.2l214.3,-22.8 97.4,-14.6 133.2,-27.6 150.6,-30.8M2406.3,540l-2.2,7 -1.8,9.1 1.7,10.4 2.3,11 1.4,12.2 1.2,10.6 1.4,3.1 1.3,2.2M2380.8,616.3l30.8,-9.3 53.6,-13.4 13.4,-14.8 4,-1.3M2380.8,616.3l-0.8,41.6 4.8,18.7 9.4,32.2 -6.7,13.4 4,4M2384.8,659.2l29.5,-6.7 37.5,-12 21.4,-6.7 6.7,9.3 1.4,6.7M2455.8,640.5l8.1,25.4 4,12.1M2336.6,714.1l42.9,12.1M2336.6,714.1l-1.7,7.4 -2.3,8.7 -3.7,6.4 -3,5.7 1.8,4.7 2.2,4.6 -1,5.5 -0.9,5.2 2.3,3.5 3.6,3.2 6.5,4.6 6.9,4.8 5.9,4.6 3.5,4.8 -4.5,5.3 -6.2,5.4 -3.9,5.2 -2.8,4.2M269.5,1228.5l121.7,21.8 -6.5,9.7 180.2,116.9 107.2,18.2 43.8,7.1 5.5,-25.3 78.6,10.7M806,1387.6l4.5,1.6 5.2,3.3 3.6,8.2 4.5,9.6 8.5,8.9 9.4,9 8.7,10.3 7.5,9.2 3.1,3.4 3.4,3.1 8,5.3 8.2,6 4.7,6.2 3.5,6.8 2.7,8.6 2.1,9.3 0.9,9.9 0.8,9.5 1.1,6.7 2.1,6.3 5.1,7.2 6.3,7.4 7.9,7.6 8.3,7.1 8.1,4.9 8.1,4.8 8.6,6.9 7.7,6.1 4.1,1.9 4,0.7 4,-0.6 4.1,-2 6.6,-6.6 6.4,-8 3.6,-8.5 2.9,-7.8 2.9,-4.5 3.6,-3.6 6.3,-2.6 6.7,-2.3 5.7,-3.3 5.6,-2.2 5.3,2.8 6.1,3.7 9.6,1.9 9.9,1.4 7.9,-0.2 6.7,0.8 4.1,6 4,7 6.4,4.8 6.6,4.9 5.1,6.5 4.6,6.5 4.5,5.2 3.6,4.6 1.3,4.4 0.4,3.4M1896,1198.3l9.7,34.6 11.4,39.4 8.3,26.3 8,22.4 9.6,19.2 8.2,14.9 1.4,3.3 0.3,3.2 -2.3,3.6 -2.6,4.5 -1.3,9.3 -0.3,10.2 2.2,8.1 2.6,8.2 0.8,10.8 0.9,10.3 2,5.8 2.8,5.5 5.1,9.5 4.7,8.4M2021,1179.8l-4.4,7.7 -3.7,8.5 2.1,4.6 4.4,3.6 9.2,3.3 10.3,4.8 8.8,10.9 9.1,11.8 11.4,9.5 11.3,8.4 8.6,5.8 7.6,5.5 6.6,7.5 6.4,7.1 7.5,3.9 7.1,4.2 4.1,8.7 4,9.2 6.5,6.6 6.5,6.4 4.2,8.4 3.9,7.8 5.3,4.1 4.5,2.4M2310.6,825.5l6.7,-4 8,-6.7M1243.5,1787.3l6.5,0.6 16.2,1.6 9.8,4.9 6.5,4.9 8.1,-1.6 9.7,-6.5M1110.3,1592l2,6.6 2.9,8 4.1,7.3 4,7.3 1.5,7.4 1.8,7.2 5.3,6.5 6,6.5 5.1,7.4 4.7,7.2 3.2,5.9 3.3,5.5 5.8,4.9 5.5,4.8 2.8,4.7 1.4,5.1 -0.9,6.3 -1,6.7 1.6,7.4 2.6,7.2 4,5.4 4.1,5.9 2.6,9.9 2.3,9.6 2,4.5 2.9,3.6 6.1,2.4 6.9,2.5 6.1,3.8 6.8,4.3 9.6,5.1 9.9,4.7 8.3,1.9 8,1.3 8.1,1.4 8.1,1.9 8.4,4.3 7.8,3.8 5.4,-0.1 4.4,-1.5 2.9,-3.3 1.9,-3.2" fill="none" stroke="#000" stroke-width="4.17" stroke-dasharray="6 4.5"/>
<path d="M633.1,181.4l6.4,2.7 6.6,5.4 2.8,13.5 0.5,15.7 -5,15.2 -4.8,14 1.3,8.5 3.6,7.8 6.7,10.5 6.3,8.9M843.3,179.7l-26,142.2M1163.8,179.7l-3.9,185.1M1408.9,179.7l1,170.5M2057,420l7.6,6.4 8.6,7.8 5.4,7.3 4.8,6.9 5,5.7 5.1,4.5 5.6,2.1 6.6,0.9 18.3,0 18.2,0 5.5,1.1 4.7,1.9 4.1,2.9 4,3.2 5.2,3.3 4.9,2.8 3.2,1.1 2.9,-0.1 2.6,-3.8 2.5,-3.3 2.5,1.7 2.6,3.4 3.9,5.7 4.2,5.5 3.8,2.2 4.3,0.8 6,-1.4 6.2,-1.6 5.2,0.6 4.9,0.4 5.1,-1.7 5.1,-2.4 5.1,-2.9 5,-3.2 5,-3.5 5.1,-3.6 5.1,-3.3 5.1,-2.8 5,-1.4 5.1,-0.6 5.6,-0.4 4.6,1.4 0.4,7.4 -0.4,7.8 1,2.4 1,1.7M2200,488.8l7.5,-0.8 8.6,-0.6 5.5,1.7 5.2,1 6.3,-3.2 7.1,-4.8 10.7,-7.5 10.7,-7.3 7.1,-3.4 6.3,-1.9 5.9,0.3 4.8,2.4 1.1,7.8 0.3,8.2 1.3,3.9 1.3,2.8M2009.7,200.8l2,11.7 2.8,15.9 6.1,33.9 6.9,37.6 6.7,34.2 6.3,30.7 4.2,19.6 3.9,16.1 4.6,11.3 3.9,8.2M2021,1179.8l35.8,-19.5 64.9,-8.1 16.2,9.7 3.3,8.2 56.8,-8.2 63.3,42.3" fill="none" stroke="#000" stroke-width="4.17" stroke-dasharray="9 4.5"/>
<path d="M235.4,198.6l-2,6.1 -2.9,9.1 -1.6,8.1 0.9,7 2.1,8 1.2,7.8 -0.6,10.4 -1.3,12.7 -1.3,9.3 -1.5,3.7 -1.9,3.6 -0.2,2.5 4,1.4 6.2,0.9 3.1,0.9 -3.3,1.3 -6.4,1.6 -4.3,2 -0.2,3.4 1.2,4.5 0.7,3.5 -0.7,2.3 -1.2,2.1 -1.4,2.1 -2.4,3.4 -3.3,4.6 -2.4,4.9 -2.3,10.9 -2.7,14.9 -3.1,13.2 -4.7,12.6 -6.1,14.4 -5.4,12 -5.2,10.7 -5.9,11.6 -5.2,10.1 -5.2,10.7 -5.8,12.1 -5.2,9.7 -5.1,7.4 -5.8,7.3 -5.3,6.4 -6,7.1 -7,8 -4.9,6 -1.5,2.6 -1.2,2.8 -0.5,2.7 0.5,3.3 0.9,4.1 0.2,4 -1.7,5 -2.8,6.1 -2,5.1 -0.9,4.4 -0.6,4.7 -0.1,3.9 1,3.3 1.6,3.4 0.6,3.1 -1.4,3.4 -2.5,4.1 -1.6,3.8 0.2,4.5 0.8,5.4 0.3,4.7 -0.7,4.1 -1.4,4.5 -1.8,4.4 -3.7,7.1 -5.2,8.9 -4.1,6.7 -2.9,3.6 -3.1,3.3 -2.1,2.1M2618.1,178.8l-0.1,1.3 -0.1,2 -0.6,1.8 -1.6,2 -2.2,2.3 -2,2.3 -1.8,2.8 -2.1,3.3 -1.9,2.6 -1.8,1.9 -2,1.9 -2.1,1.3 -2.6,0.8 -3.2,0.5 -3,0.2 -3.2,0 -3.8,-0.3 -3.2,-0.4 -2.8,-0.9 -2.9,-1.1 -2.3,-0.2 -1.5,1.7 -1.5,2.8 -1.4,2.1 -2,0.9 -2.4,0.7 -2.2,0.5 -2.3,0.5 -2.6,0.6 -2.4,1.1 -3.6,3.6 -4.3,5 -2.3,3.1 1.3,0 3.2,-1.5 2.8,-1.4 2.1,-1.4 2.5,-1.8 2.7,-1.2 4.3,-0.5 5.7,-0.2 4.6,0 3.6,0 3.7,0.2 2.9,0.5 2.1,1.4 2.1,1.9 1.7,1.8 1.9,1.8 2.1,2.1 1.8,1.2 1.7,-0.1 1.9,-0.8 1.5,-1.2 1.6,-2.7 1.9,-3.8 1.7,-3 1.9,-2.2 2.1,-2.1 1.8,-1.6 1.6,-1.1 1.6,-0.8 1.2,-0.3 0.2,1 -0.1,1.7 0.6,1 3.2,-0.2 4.6,-0.9 3.2,-1.1 0.6,-1.7 -0.4,-2.5 -0.2,-2.4 0.3,-3.3 0.5,-4 0.6,-2.9 0.8,-1.5 1.2,-1.2 1,-0.2 1,1.7 1.2,3 0.7,2.6 0.3,2.4 0,2.7 -0.3,2.2 -1.2,1.8 -1.8,1.9 -1.4,2.1 -1,2.9 -0.8,3.7 -0.4,3.6 0.6,4.1 1.2,4.9 0.4,4.2 -0.9,3.9 -1.8,4.2 -1.7,3.6 -2.3,3.4 -2.8,3.7 -1.5,2.4 0.9,0.9 2.2,0.2 2.1,-0.4 2.2,-1.4 2.7,-2.1 2.4,-1.6 2.7,-1 3.2,-0.8 2.1,0.3 0.5,2.4 -0.2,3.7 0.4,3.4 2,3.5 2.9,4 2.4,2.8 1.9,0.6 2.2,0.1 1.8,0.7 2.2,3.2 2.7,4.6 2.4,3.9 2.5,3.5 3,3.8 3.2,2.2 4.4,-0.4 5.6,-1.7 4.7,-1.5 4.1,-1.1 4.3,-1.3 3.2,-0.6 1.9,0.3 1.8,0.8 0.7,1.1 -1.4,1.9 -2.5,2.5 -1.9,2.2 -1,2.2 -0.8,2.3 0.3,1.3 2.2,-0.6 3.4,-1.5 3.2,-0.8 3.3,0.8 3.8,1.4 3.1,0.7 2.4,-1 2.4,-1.6 2.5,-1 3.5,0.8 4.4,1.5 3.8,0.6 3.2,-1.7 3.6,-2.8 3.4,-2.1 4.4,-1.2 5.3,-0.9 3.5,-0.1 0.3,1.5 -1.1,2.3 0.1,1.4 2.9,-0.3 4.4,-1.2 3.6,-1.5 2.6,-2.3 2.6,-3.3 2.1,-3.1 2.1,-3.8 2.1,-4.6 1.7,-3.3 0.8,-1.4 0.9,-1.2 1.2,-0.3 2.1,2 2.7,3.2 2.5,2.1 2.3,0.1 2.7,-0.8 2.3,-0.8 2.2,-1.1 2.6,-1.3 2.5,-0.5 3.2,1 4,1.8 3,1.6 2,1.5 1.9,1.6 1.3,1.2 0.8,0.4 0.8,0.2 0.5,0.2M2820.4,270.8l-1.4,0 -2.2,0 -2.2,0 -2.7,0.2 -3.3,0.2 -2.8,-0.4 -2.5,-1.8 -2.7,-2.8 -2.1,-2.7 -1.7,-3.1 -1.6,-3.8 -1.1,-3.3 -0.3,-3.1 0,-3.6 0.3,-3.5 0.9,-4.2 1.2,-5.3 0.9,-5.2 0.1,-6.9 -0.2,-8.5 0.1,-6.5 0.7,-3.6 1.2,-3.5 1,-3.1 0.9,-3.4 1,-3.9 1,-2.9 1.2,-1.7 1.7,-1.3 1.5,-0.7 1.7,0.2 2.1,0.9 2,1.1 2.5,1.8 2.9,2.5 1.9,1.6M2820.4,282.5l-1.6,0.7 -2.3,1.1 -1.9,1.1 -1.6,1.5 -1.5,1.8 -0.6,1.1 1.2,0.1 2.1,-0.3 1.9,-0.5 1.6,-0.7 1.6,-0.9 1.1,-0.6M2672.1,236.5l1.2,1.2 1.4,2.6 1.1,2.8 0.4,3.7 0.3,4.6 0.8,3.3 2,1.4 2.9,0.8 2.4,0.8 2,1.4 2.1,1.7 1.7,1.3 1.6,0.8 1.6,0.6 1.2,0 0.4,-1.2 0.2,-1.9 0.8,-1.3 3.5,-0.7 5.2,-0.4 4.5,-0.3 3.9,0.1 4.2,0.2 3.6,-0.3 3.3,-1.3 3.6,-1.9 3.3,-1.9 3.6,-2 4.3,-2.5 3.8,-2.1 3.8,-2.1 4.3,-2.2 3.6,-1.6 3.5,-1 3.7,-0.6 2.3,0.2 0.1,1.7 -1,2.9 -1.3,2.7 -2.1,3.2 -2.8,3.9 -2.4,3.1 -2.2,2.1 -2.4,2 -1.3,1.8 0.3,2.4 1.3,2.9 1.4,2 1.9,0.7 2.5,0.3 1.4,0.4 -0.3,1.2 -1.1,1.8 -1.5,1.4 -2.5,1.6 -3.5,1.7 -2.8,1.1 -2.1,0 -2.1,-0.5 -1.6,-1 -1.1,-2.1 -1,-3 -0.8,-2.2 -0.9,-1.3 -1.1,-1.1 -1,-0.5 -1.1,0.5 -1.3,1.2 -0.5,1.2 1.2,1.3 2,1.7 1.2,1.4 -0.2,1.5 -0.9,1.7 -1.1,0.5 -1.6,-1.4 -2,-2.7 -1.5,-2.5 -0.6,-3.1 -0.3,-3.8 -0.6,-1.9 -1.7,1.4 -2.4,3.2 -1.7,2.7 -0.5,2.1 -0.1,2.1 -0.9,1.7 -2.8,1.3 -4.1,1.1 -3.3,0.5 -2.5,-0.5 -2.6,-1.1 -2.2,-1.3 -2,-1.9 -2.1,-2.5 -1.8,-1.5 -1.8,0 -2.1,0.7 -1.9,0.8 -2.3,1.1 -2.8,1.4 -2.2,0.4 -1.5,-1.9 -1.5,-3.1 -1.4,-2.3 -1.7,-0.9 -2.1,-0.4 -2,-0.2 -2.4,0.3 -2.9,0.6 -2,-0.1 -0.9,-1.6 -0.5,-2.5 -0.1,-2.5 0.3,-2.7 0.6,-3.2 0.6,-2.9 0.8,-2.8 1.1,-3.3 1,-2.6 1.1,-2.6 1.3,-2.7ZM2626.1,377.5l-0.6,-2.3 -0.7,-3.5 -0.1,-3 1.6,-2.9 2.5,-3.1 1.7,-1.3 0.2,2 -0.4,3.9 0.2,2.9 1.5,1.3 2.3,0.8 2,0.1 1.8,-1.1 2.1,-1.9 2,-2.1 2.3,-2.6 2.7,-3.3 2.3,-2.9 1.8,-2.7 2,-3.1 2,-3 2.7,-3.7 3.4,-4.4 2.7,-3.6 2,-2.7 2,-2.7 1.8,-1.9 2,-0.9 2.3,-0.7 1.6,-1.3 0.9,-3.4 0.6,-4.7 0,-3.6 -1.3,-2.3 -2,-2.1 -1.1,-1.4 0.4,-0.9 1.2,-0.5 1.3,-0.1 1.9,1.1 2.5,1.7 2.2,0.9 2.4,-1.1 2.7,-1.9 1.4,-0.7 -0.7,2 -1.9,3.5 -1.7,3.3 -1.4,3.2 -1.6,3.7 -1.4,3.3 -1.5,3.3 -1.7,3.7 -1.2,3.2 -1,3.3 -0.7,3.7 0.2,2.5 2.4,1 3.7,0.3 2.7,-0.5 0.6,-1.9 0,-3 0.9,-2.4 3,-1.5 4.5,-1.5 4.1,-1.4 4.2,-1.8 4.9,-2.3 4.1,-1.8 3.5,-1.5 3.6,-1.6 3.1,-1.3 2.9,-1.3 3.1,-1.3 2.8,-1 3.3,-0.8 3.8,-0.6 2.4,-0.1 0.6,1.1 -0.4,1.8 -0.9,1.5 -2.3,1.3 -3.5,1.5 -3,1.6 -2.8,2.3 -3.3,3 -2.7,2.7 -2.5,2.9 -2.8,3.4 -2,2.5 -1.3,1.2 -1.2,1.3 -0.4,1.2 1.8,1.8 2.8,2.2 1.2,1.1 -2.5,-0.5 -4.3,-1.4 -3.4,-1.8 -1.7,-2.9 -1.4,-3.8 -1.3,-2.8 -1.7,-1.7 -2.1,-1.3 -2,0.1 -3,2.8 -3.9,4.7 -3.3,4.2 -2.9,4.1 -3.2,4.8 -2.7,4.2 -2.4,4.3 -2.7,4.9 -2.2,4 -2.3,3.8 -2.6,4.1 -1.7,2.6M2467.9,178l-2.9,2.9 -4.4,4.3 -3.4,3.6 -2.1,2.7 -2,2.8 -1.3,2.5 -0.5,2.5 -0.2,2.9 -0.6,2.6 -1.9,2.5 -2.7,2.9 -2.1,2.7 -1.5,3.2 -1.4,3.9 -1.1,3.6 -0.9,4.2 -0.9,5 -0.9,4.2 -1.2,3.6 -1.4,3.9 -1.4,3.2 -1.8,2.8 -2.2,2.9 -1.4,2.3 0.1,1.8 0.7,1.8 0.5,1.8 -0.2,3.8 -0.4,5.1 -0.7,4.5 -1,4.2 -1.5,4.8 -1.5,4.4 -2,5.1 -2.6,6 -2.1,4.9 -1.9,3.7 -2,3.7 -1.5,3.4 -0.9,4.1 -0.7,4.9 -1.1,4.3 -2.2,4.3 -3.1,4.8 -2.7,4.3 -2.8,4.7 -3.1,5.2 -2.1,3.5M2395.6,356.2l2.7,-3.1 4.1,-4.7 3.9,-4.3 4.3,-4.1 5.2,-4.8 3.9,-4.5 2.2,-4.9 1.6,-5.9 1.5,-5.2 1.7,-5.1 2,-5.9 1.7,-5.1 1.7,-5.1 1.9,-5.9 1.7,-5.1 1.6,-5.2 1.9,-5.9 1.9,-5 2.4,-4.4 3,-4.7 2.6,-4.3 2.6,-5.1 2.9,-6 2.6,-4.9 2.6,-3.7 2.9,-3.7 2.5,-3.3 2.5,-3.4 2.8,-3.8 2.7,-3.6 3.3,-4.2 4,-4.9 3.5,-4.3 3.3,-3.9 3.8,-4.3 3.6,-3.8 4.5,-4.2 5.3,-4.8 3.6,-3.1M2593.8,392.3l1.5,2.9 2.1,4.3 1.7,3.6 1.2,2.7 1,2.8 0.5,2.5 -0.3,3 -0.9,3.5 -1.5,2.9 -3,2.3 -4.2,2.3 -3.5,2.1 -2.7,2.6 -2.9,3.1 -2.4,2.3 -2.4,0.9 -2.5,0.6 -1.8,1.2 -0.5,3.1 0,4.3 -0.8,3.3 -3.1,2 -4.5,1.7 -3.2,1.7 -1.2,2.6 -0.5,3.1 -0.9,2.3 -2.3,1.2 -3.2,0.8 -2.6,0.7 -1.9,1 -1.8,1.1 -1.6,0.5 -1.9,-0.4 -2.1,-0.9 -1.4,-1.3 -0.2,-2.3 0.3,-3.2 -0.1,-2.6 -1,-2.2 -1.6,-2.3 -1.4,-0.8 -1.5,1.6 -1.6,3.1 -0.9,3.3 0.6,3.9 1.3,5.1 0.8,4.4 0,4.5 -0.5,5.1 -0.9,3.8 -1.8,2.1 -2.5,1.7 -2.4,1.6 -2.5,2.7 -3.1,3.3 -2.4,2 -1.9,-0.5 -1.9,-1.7 -1.6,-0.5 -1.8,1.9 -2,3.3 -1.5,2.9 -0.9,2.8 -0.7,3.1 -1.1,2.1 -2.3,0.2 -3.2,-0.6 -2.6,0.4 -2.1,3.1 -2.1,4.4 -1.1,3.2 0.6,0.6 1.4,0.1 0.7,0.6 -1.3,5.7 -2.2,8.3 -1.9,6.1 -1.3,2.3 -1.6,2.1 -1.1,1.3M2593.8,392.3l2.2,0 3.2,-0.1 2.6,0.1 1.8,0.6 1.8,0.7 1.8,0.1 3.1,-1.5 4,-2.6 3.6,-2.6 3.7,-3.5 4.2,-4.3 2.8,-2.9M2820.1,301.3l-4.6,4.2 -7,6.4 -5.8,5.4 -4.5,4.4 -4.8,4.8 -4.1,4.2 -4.3,4.3 -4.8,5 -4.3,4.1 -4.2,3.6 -4.8,3.8 -4.3,3.3 -5.1,3.1 -5.9,3.4 -3.8,2.9 -0.2,2.7 1.3,3.1 0.3,2.3 -2,1.7 -3.2,1.5 -2.9,0.8 -3.2,-0.9 -3.6,-1.5 -2.6,-0.3 -0.7,3 0,4.7 -0.6,3 -2.3,-0.4 -3.3,-1.7 -2.4,-0.6 -1.4,1.9 -1,3.3 -0.3,2.9 1.1,2.4 1.9,2.7 1,2.9 -0.8,3.9 -1.6,5.1 -1.6,4.4 -1.7,4.2 -2,4.8 -1.7,4.4 -1.3,5.4 -1.3,6.3 -1.4,4.4 -1.9,1.4 -2.6,0.5 -2.2,0.7 -2,1.4 -2,2 -1.3,2 0.2,3 0.8,3.7 0.3,2.7 -0.9,1.3 -1.5,0.8 -1.6,0.6 -3,1.2 -4.1,1.3 -3.6,0.1 -3.5,-2.7 -4,-4.1 -3.3,-2.5 -2.9,0.7 -2.9,2.1 -2.2,1.2 -1.1,-0.7 -0.8,-1.7 -0.8,-1.6 -2.4,-3.7 -3.1,-5.2 -2.5,-4.5 -1.7,-4.2 -1.5,-4.8 -0.8,-4.4 0.1,-5.2 0.5,-6.2 0.7,-4.7 0.8,-3.1 1.1,-3 0.8,-1.9M89.3,640l-3.2,3.4 -4.8,5.1 -3.4,4.5 -1.6,4.1 -1,4.8 0,4.1 1.8,4 3.1,4.5 2.6,4.5 2.1,5.9 2.2,7.3 1.2,6.2 -0.1,5.5 -1,5.9 -1.2,4.9 -2,4.2 -2.6,4.6 -1.9,4.2 -0.7,5.2 -0.4,6.1 -0.5,4.9 -1.4,3.3 -1.7,3.2 -0.8,3.2 1.2,4.4 2.2,5.4 2.1,4.8 2,4.9 2.4,5.5 2.1,4.3 2.3,2.9 2.5,2.6 1.7,2.6 0.3,3.6 -0.3,4.3 0,3.4 1.2,2.3 1.6,2.2 0.5,2 -2.4,2.4 -3.8,3 -1.9,2.7 2,3 4,3.5 3.7,3.3 4,3.6 4.7,4.2 2.7,3.6 -0.7,3 -2.3,3.3 -1.9,3.4 -1.2,6 -1.2,7.8 -0.9,5.7 -0.7,2.2 -0.8,2.1 -0.1,2.2 1.4,4.4 2.4,5.7 2.7,4.5 4.1,2.9 5.2,2.7 3.7,2.5 1.6,3 0.7,3.7 0,3 -1.3,2.8 -2.2,3 -2,2.4 -2.1,1.5 -2.5,1.5 -1.9,1.8 -1.5,3.1 -1.4,4.3 -0.4,4 1.5,4.3 2.6,5.3 2.4,5 2.2,6.1 2.5,7.4 1.8,6 0.8,4.5 0.6,4.6 0.9,3.9 2.1,3.7 2.9,4.1 2.4,3.5 1.8,3.4 1.7,3.6 1.4,2.8 1.3,1.6 1.4,1.5 0.6,1.7 -1,2.8 -1.7,3.6 -0.6,3.4 2.3,3.5 3.6,4.2 2.2,3.6 -0.9,3.7 -2.2,4.2 -1.7,3.5 -0.7,3.2 -0.4,3.5 -0.6,3 -1.5,2.7 -1.9,2.9 -0.8,2.6 1,2.7 2.1,3 2.8,2.4 4.5,1.6 6.2,1.5 5.5,1.7 5.3,3 6.1,3.9 4.8,2.9 3.3,1.1 3.4,0.7 3.1,1.4 4.3,3.7 5.1,5.2 3.6,4.1 0.7,2.6 0.1,3 0.8,2.5 4.2,3.7 6,4.5 4.4,3.2 1.2,0.9 1.2,1 0.8,0.6M108.8,838.1l0.7,-4.6 1.2,-6.8 1.3,-4.9 1.8,-2.1 2.5,-1.4 2.2,-0.4 2.6,1.2 2.9,2.3 1,2 -3,1.4 -5,1.5 -3.4,2 -0.3,3.8 0.9,5 1.1,4.2 1.5,3.2 1.9,3.3 1.4,3.2 0.7,4.7 0.5,5.6 -0.5,2.7 -2.4,-2.6 -3.6,-5.5 -2.8,-4.9 -1.4,-4.5 -1.1,-5.1 -0.7,-3.3M115.3,828.3l4.9,-1 7.2,-1.3 5.7,-0.3 3.5,1.9 3.1,3.1 3.2,2.5 4.8,1.7 5.9,1.5 3.9,1M2485.3,550.7l-0.8,3.5 -1.2,5.2 -0.7,4.7 -0.1,4.4 0.2,5.1 0.7,3.9 1.6,3 2.2,2.9 2.1,2.1 2.5,1.1 2.8,0.7 1.4,0.9 -1.4,1.7 -2.9,2.4 -2.4,2.6 -1.5,3.7 -1.4,4.8 -1.1,3.6 -1.3,2 -1.4,2 0,1.3 3.1,0.1 5,-0.3 4,0.2 2.9,1.7 2.8,2.7 2.3,2.3 1.8,2.3 1.9,2.5 1.7,1.9 2.2,1 2.6,0.8 1.9,0.9 0.9,1.7 0.6,2.1 1.1,1.6 2.6,0.9 3.6,0.5 3.2,-0.1 3.2,-1.3 3.6,-2.1 2.6,-2 1.5,-2.1 1,-2.4 0.2,-2.2 -1.2,-2.3 -2.1,-2.5 -2.1,-1.9 -2.6,-1.3 -3.2,-1 -2.2,-0.3 -1.1,0.9 -0.6,1.7 0.3,1.4 2.1,0.9 3.3,0.8 2.7,1 1.9,1.5 1.8,2 1.6,1.8 2.1,2.1 2.3,2.4 1,2.2 -1.3,2.2 -2.7,2.5 -2.7,2 -2.9,1.4 -3.5,1.2 -3,1.4 -2.7,2.4 -2.9,2.9 -2.4,1.4 -2.2,-1.7 -2.4,-3.3 -2.1,-1.7 -2.1,1.3 -2.5,2.8 -2.1,2.6 -2.1,2.6 -2.4,3 -2.2,2.5 -2.5,1.9 -3.1,1.9 -2.4,1.5 -1.9,1.3 -1.9,1.2 -1.6,0.2 -1.5,-1.9 -1.6,-3.2 -0.9,-2.9 0,-2.8 0.5,-3.1 0.8,-2.2 1.6,-1.2 2.2,-0.7 1.6,0.6 0.9,3 0.7,4.7 -0.3,4.3 -1.8,4.4 -3.1,5.1 -3.1,3.9 -3.9,2.6 -5.1,2.2 -4.4,1.9 -4.3,1.9 -5,2 -4.1,1.5 -3.6,0.9 -3.8,0.9 -3.3,0.9 -3.4,1.6 -3.8,2 -3.5,1.7 -3.9,1.2 -4.5,1.2 -3.7,1.6 -3.1,2.7 -3.3,3.5 -3,3.2 -3.4,3 -3.9,3.3 -3.4,3.1 -3.2,3.3 -3.4,4 -2.8,3.4 -2.4,3.5 -2.4,3.9 -1.9,3.3 -1.4,2.9 -1.3,3 -1.3,2.2 -1.7,1 -2,0.6 -1.6,1 -1.2,2.3 -1,3.2 -0.5,2.6 0.6,2 1.2,2 0.9,1.3M2380.8,746.3l0.5,-5.1 0.7,-7.6 0.2,-6.1 -1,-4 -1.6,-3.9 -1.5,-2.8 -1.3,-1.7 -1.6,-1.4 -1.1,-0.9M2375.5,762.3l2.5,-1.4 3.8,-2 3,-0.6 2.1,2.1 2,3.7 1.3,3.6 0.4,4 0,4.9 0.1,4.5 0.7,5 1,6.1 0.5,5 -0.2,4.6 -0.5,5 -0.7,3.8 -1.1,2.6 -1.5,2.4 -1.4,1.7 -1.4,0.9 -1.6,0.6 -1,1.1 0.3,2.7 0.9,3.7 0.1,3 -1.8,2.2 -2.8,2.3 -2.1,2.2 -1,2.8 -0.8,3.4 -0.8,3.2 -1.2,3.5 -1.5,4.1 -1.4,3.1 -1.8,2.2 -2.1,2 -1.4,1.2M2366.1,861.5l-0.5,-4.2 -0.8,-6.2 -1.4,-4.4 -2.9,-1.2 -4.2,0 -3.6,-0.1 -3.5,-0.7 -3.9,-0.9 -3.3,-1.1 -2.8,-1.5 -3,-2 -2.3,-1.9 -2,-1.9 -1.9,-2.4 -1.4,-2.3 -0.8,-2.9 -0.6,-3.5 0,-3 0.9,-2.7 1.5,-3 1.7,-2.4 2.4,-1.8 3.1,-1.8 2.5,-1.7 2,-2.2 2.1,-2.7 1.3,-1.8M2349.4,794.7l-1.7,1.7 -2.6,2.6 -2.4,2.4 -2.5,2.4 -3,2.9 -2.5,2.7 -2.4,2.9 -2.5,3.5 -1.8,3 -0.9,3 -0.5,3.4 0.1,3 1.2,2.9 2.1,3.4 2,3 2.4,3.3 3,3.9 2.6,3.6 2.6,3.8 2.9,4.5 2.6,3.7 2.6,3.3 2.9,3.5 2.5,2.6 2.8,1.7 3.1,1.4 2.1,0.9M2384.8,751.6l2.3,-5.2 4.5,-7.6 4,-5.9 3.2,-3.3 3.8,-2.7 3.7,-2.1 4.9,-1.8 6,-1.8 5.1,-1.7 4.5,-2 4.9,-2.4 4,-2.3 3.8,-2.9 4,-3.6 3,-2.9 2.3,-2.9 2.2,-3 0.8,-0.8 -2,4.1 -3.3,6.6 -1.4,4 2.7,-1.3 5,-3.6 4.4,-3.1 4.5,-2.4 5.1,-2.5 2.4,-0.5 -2.3,3.2 -4.9,5.4 -4.8,4.8 -5,4.3 -6,5 -5.1,4.1 -4.5,3.8 -4.9,4 -4,3 -3.6,1.6 -3.8,1.3 -3.3,1.1 -3.3,1.6 -3.8,1.9 -3.6,1.8 -4.3,2.2 -5.1,2.7 -4,1.8 -3.3,0.9 -3.4,0.4ZM211,1114.9l3.6,1 5.4,1.7 4,2.1 2.3,3.3 1.8,4.5 0.8,3.6 -0.9,3 -1.7,3 -0.7,2.1 1.4,0.8 2.6,0.4 2.5,0.4 2.6,0.8 3,1 2.6,1.5 2.1,2.7 2.2,3.7 2.2,3.3 2.9,3 3.7,3.4 3.1,3.4 2.8,4.4 3,5.4 2.3,4.8 1.9,4.7 1.8,5.4 1.2,4.5 0.4,3.7 0,4 -0.4,3.7 -1.3,4.8 -1.8,5.7 -0.8,4.1 1.4,1.5 2.5,0.8 1.6,0.9 -0.1,2.1 -0.9,2.6 -0.6,1.8M269.5,1228.5l-0.1,2.9 -0.2,4.4 0.3,4.1 1.4,4 2,4.8 1.5,4.2 0.3,4.2 0,4.7 0.6,4 2.8,3.9 3.9,4.2 2.1,3.3 -1.4,2.2 -3,2.1 -2.1,2.2 -0.6,3.3 0,4.2 0.6,3.9 1.7,4 2.6,4.8 2.2,4.2 1.9,4.1 2,4.7 1,4.1 -1,4.1 -1.8,4.7 -0.5,4.2 2.7,4.4 4.3,5.1 2.8,5.1 -0.1,6.7 -1.2,8.3 -0.4,6.1 1.8,3 2.8,2.5 1.9,2.7 0,4.4 -0.8,5.7 -0.8,4.5 -1,3.3 -1.1,3.3 -0.5,3.1 0.7,3.9 1.5,4.8 2,4.3 3.3,4.6 4.4,5.4 3.7,4.6 3.2,4.4 3.5,4.9 3,3.7 3.1,2.2 3.6,1.8 3.1,2.5 4,5.7 4.8,8 4.2,7.4 4.3,8.4 4.8,10 3.8,7.6 2.8,4.1 3.1,3.8 2.3,3.4 1.7,3.5 1.3,4 0.2,3.9 -1.8,5 -3.2,6.2 -3.1,5 -3.6,4.2 -4.5,4.2 -3.3,3 -1.5,1.3 -1.5,1.1 -1.8,0.8 -3.6,0.9 -4.9,0.8 -4.5,0 -4.6,-1.7 -5.4,-2.7 -4.6,-2.1 -4.7,-1.7 -5.2,-1.5 -3.1,-0.1 -0.1,2.8 1.4,4.5 1.9,4.1 2.7,3.6 3.8,4 3.3,3.7 3.3,4.1 3.8,4.8 2.6,4.1 0.7,3.9 0.1,4.2 0.8,3.3 2.9,2.5 4.1,2.2 2.8,1.5M349,1546.7l1.5,0.6 2.1,1.1 1.3,1.5 -0.3,2.8 -0.9,3.9 -0.4,3.1 1.4,2.6 2.1,2.6 0.7,1.3 -2.3,-0.8 -3.9,-2.1 -2.9,-2 -1.5,-2.2 -1,-2.6 -0.7,-1.7M371.8,1296.7l1.6,4 2.2,6 1,4.6 -1.5,2.3 -2.8,1.9 -2.2,2.3 -2.6,7 -2.9,9.6 -1.6,7.7 0.7,5 1.9,5 1.3,4.7 0,6.2 -0.4,7.5 -0.3,5.7 0.3,3.3 0.5,3.3 -0.1,3.2 -1.7,5.4 -2.6,6.9 -1.6,5.5 0.2,4 1.1,3.9 1.3,3.5 1.7,4.1 2.4,4.9 2.4,4 3.1,3.3 3.8,3.4 2.9,3 1.7,3 1.5,3.4 1.6,3.4 2.9,4.4 3.8,5.4 3.1,4.8 2.4,4.8 2.3,5.4 1.8,4.4 1.3,3.3 1.2,3.4 0.7,3 0,3.4 -0.3,3.9 0.3,2.5 2.1,0.3 3.2,-0.5 2.2,0.2 0.4,2.2 -0.1,3.4 0.3,2.5 1.9,1 2.6,0.7 2,1.5 0.8,3.7 0.4,5.2 0.5,4.1 0.8,3 1,2.9 1.4,2.2 2.6,1.6 3.3,1.4 2.2,1.9 0,3.3 -1,4.5 -0.6,3.6 0.4,2.6 0.7,2.8 0.5,2.7 -0.3,5.2 -0.5,6.9 0.2,5.7 1.7,4.5 2.8,4.6 2.6,3.9 3.3,4 3.9,4.3 2.6,2.8M371.8,1296.7l3.4,2.5 5.2,3.7 4.3,3.5 3.3,3.5 3.4,4.2 3.1,3.7 3.6,3.9 4.2,4.4 3.5,3.1 2.8,1.2 3,0.6 2.4,-0.2 1.5,-2.1 1.4,-3.1 1.9,-1.3 4,2.5 5.4,4.7 3.6,4.1 0.5,3.8 -0.7,4.4 0.2,3.2 2.5,1.9 3.8,1.6 3.5,1.4 3.6,1.5 4.3,1.8 3.4,1.6 2.9,1.8 2.9,2 1.7,2 -0.2,2.4 -1.1,2.8 -1.3,1.9 -1.6,0.2 -2,-0.5 -1.3,0.3 0.1,2.1 0.7,3.3 0.2,2.8 -0.9,2.5 -1.5,2.9 -0.9,2.7 -0.1,2.9 0.2,3.5 0.6,3.3 1.3,3.9 2,4.7 1.6,4.4 1.5,5 1.7,5.9 1,5.3 -0.2,5.3 -0.7,6 -0.1,5 1.2,4.2 1.9,4.6 1.8,4.2 2.2,5.1 2.6,6 1.7,5.1 0.1,4.5 -0.4,4.8 0.3,3.7 2.4,2.2 3.5,1.9 2.2,2.4 -0.2,4.3 -1.1,5.6 -0.3,4.7 1.6,3.9 2.7,4.2 2.2,3.2 1.7,2.3 1.8,2.1 1.3,2.1 0.6,2.4 0.4,3 0.7,2.8 2.2,5 3,6.4 2.9,4.8 3.1,2.3 3.6,1.8 3,2.4 2.7,5.7 3,7.8 2.4,6 2,3.6 2.2,3.4 2.3,2.7 2.7,2.3 3.4,2.3 3.7,1.9 6.2,2.2 7.9,2.4 5.3,1.6M405.8,1455.8l1.3,-1.5 2.5,-0.4 2.1,0.3 1.9,1.5 2.1,2.4 1.5,2.5 0.6,3.1 0.3,3.8 0.7,2.9 2.2,1.5 3.1,1.3 1.9,2.1 0.3,5.7 -0.6,7.7 -1,4.4 -2,-1.4 -2.9,-4.2 -2.6,-4.1 -2.7,-3.9 -3.1,-4.8 -2.3,-4.3 -1.6,-4.9 -1.3,-5.8ZM464.3,1491.5l3.2,-1.3 4.3,-0.5 2.9,0.8 0.8,3.5 -0.1,5.5 -0.7,5 -1.7,5.5 -2.8,6.2 -2.7,3.5 -3.8,-1.3 -4.7,-3.9 -2.8,-3.5 0.4,-3.1 2,-3.6 1.8,-3.1 1.1,-3.4 1.2,-3.7ZM144.5,1411.9l1.9,-1.1 2.7,0.1 1.9,1 0.8,2.6 0.3,3.8 -0.2,3.4 -1.1,3.4 -1.7,3.7 -1.4,2 -1.2,-0.8 -1.2,-2.5 -0.8,-2.6 -0.4,-4.1 -0.1,-5.3ZM290.6,1521.7l2.2,-4.5 4.2,-5.7 3.3,-3.8 1.5,-0.5 1.7,0.4 1,1.1 0.1,4.3 -0.3,6.3 -0.7,4.7 -1.2,2.3 -1.8,1.9 -1.9,0.6 -2.9,-1.4 -3.6,-2.7ZM2298.6,1179.8l-1.5,4.6 -2.5,6.7 -2.5,4.9 -3.1,1.8 -4.1,0.8 -4.1,0.7 -6,1.2 -7.6,1.6 -5.9,2.1 -3.7,3.6 -3.3,4.8 -2.7,4.5 -2.8,4.4 -3,5.2 -2.4,5.1 -1.6,6.6 -1.5,8.1 -1.7,6.4 -2.8,4.6 -3.7,4.4 -3.3,3.9 -3.1,4.3 -3.5,4.8 -3.1,3.9 -3.1,2.8 -3.6,2.8 -3,2.5 -2.6,3.1 -2.8,3.6 -2.8,3.1 -3.4,2.7 -4.1,3 -3.8,2.4 -4.2,2.2 -5,2.3 -3.8,2 -2.8,2.1 -2.5,2.3 -1.2,2.1 1.2,1.9 2.5,2.1 1.2,2.5 -1.4,4 -2.7,5.2 -2.4,3.8 -2.1,1.7 -2.5,1.3 -1.9,1.8 -1.2,4.1 -1.1,5.7 -1,4.9 -1.6,4.2 -2,4.6 -1.2,4.1 0.4,4.1 1,4.8 0.2,4.1 -1.7,4 -2.8,4.7 -2,4.3 -0.9,4.9 -0.5,5.9 -0.2,5.4 0.1,5.5 0.5,6.5 1,5.9 2.2,6.6 3.1,7.8 2.8,6.7 3,7.2 3.3,7.9 1.8,4.4 -1.1,-1.8 -2.6,-5 -1.9,-3.6M2030.8,1491.5l-3.4,-1.1 -5.1,-1.5 -4.5,-0.7 -4.3,0.9 -4.9,1.8 -3.8,2.2 -2.2,3.3 -1.8,4.5 -2.5,3.6 -4.7,2.7 -6.2,2.8 -5.3,2.6 -4.2,3.2 -4.6,3.8 -4.2,2.7 -5.3,1.4 -6.3,0.8 -4.6,-0.5 -2,-3 -1.3,-4.6 -1.6,-3.8 -3.3,-2.8 -4.4,-2.8 -3.7,-2.5 -3.6,-2.6 -3.9,-2.9 -2.2,-2.6 1.3,-3 2.8,-3.4 0.8,-1.8 -3.6,1.1 -5.9,2.4 -5.2,1.4 -4.1,-1.1 -4.5,-2.1 -4.3,-1.7 -5.8,-0.6 -6.8,-0.3 -3.7,-0.7 2.3,-2 5,-2.8 2.5,-1.7 -2.8,-0.1 -5.4,0.7 -4.8,1.1 -3.9,1.8 -4.6,2.5 -4.5,2.1 -5.9,1.6 -7.4,1.8 -6.2,1.5 -5.4,1.5 -5.7,1.7 -5.1,1.7 -5.4,2.4 -6.1,2.8 -4.8,1.3 -3.6,-1.6 -3.5,-3.2 -2.6,-3.3 -1.8,-4 -1.7,-5.1 -1.4,-3.9 -1.5,-3.2 -1.7,-3 -1.6,-0.3 -1.3,5.7 -1.5,9.1 -2.1,6.3 -3.9,1.2 -5.3,-0.7 -5.4,-0.5 -7.7,0.3 -9.9,0.5 -8.4,0.8 -7.7,1.7 -8.3,2.4 -6.7,2.4 -5.2,3 -5.2,3.7 -4.2,3 -4.4,2.2 -4.5,2.1 -2.5,2.2 0.9,3.3 2.8,4.1 2.8,2.4 3,-0.2 3.7,-1.5 3,-1.6 2.5,-2.5 2.4,-3 1.6,-1 0.7,3.1 0.1,5.4 -0.8,4.5 -2.7,3.4 -3.9,3.5 -3.1,2.9 -2.2,2.7 -2.1,2.9 -0.6,2.5 1.7,2.6 3.1,3 3.3,2.5 3.8,2.2 4.7,2.3 4.5,2 5.4,2.1 6.4,2.4 4.5,2 1.8,1.4 1.4,1.9 0,1.6 -2.9,1.5 -4.7,1.7 -3.8,1.6 -2.4,2.5 -2.3,3 -1.8,1 -1.4,-3.2 -1.4,-5.5 -2,-4.3 -3.6,-2.4 -4.8,-2.1 -4.6,-2 -5.1,-2.6 -6,-3.2 -5.1,-2.3 -4.9,-1.7 -5.1,-1.5 -3,0 0.8,2.6 2.6,4.5 1.4,4.2 -1.3,5.1 -2.5,6.1 -2.7,3.4 -3.4,-1.5 -4.2,-3.8 -3.7,-2.8 -3.3,-0.8 -3.5,0 -3,0.8 -2.6,2.9 -2.8,4.2 -2.7,2.7 -3.3,0.3 -4,-0.8 -4,-1.2 -5.9,-2.2 -7.4,-3.2 -4.6,-2.7 0.3,-2 2.1,-2.3 0.9,-2.2 -2.3,-2.7 -3.9,-3.2 -3.6,-2.2 -3.7,-0.7 -4.3,-0.1 -3.4,-0.8 -2.1,-2.8 -2,-3.9 -2.3,-3 -3.8,-2.2 -5,-2.1 -4.2,-0.6 -4.3,1.8 -4.7,3.3 -2.4,3 1.3,2.7 3.4,3.1 3.4,2.3 3.9,1.7 4.6,1.4 2.9,0.2 0.1,-2.1 -1.3,-3.6 -2.1,-2.4 -3.6,-0.6 -5,0.1 -4.3,0.5 -3.7,1.4 -4,2 -3.7,1.4 -4.4,0.3 -5.2,-0.2 -3.4,-0.1M1672,1522.3l2.5,-4.7 3.8,-6.9 3.5,-4.6 3.6,-0.7 4.1,1 3.6,1.3 3.2,1.9 3.5,2.7 3.1,1.9 3.7,0.7 4.1,0.2 1.9,0.7 -1.9,1.9 -4.1,2.6 -3.7,2 -3.1,1.2 -3.6,1.1 -3.1,1 -3,1.3 -3.5,1.5 -3.2,0.4 -3.9,-1.7 -4.5,-2.8 -3,-2M1761.3,1506.8l13,3.2M1787.3,1507.4l13,-2.6M1803.5,1505.5l19.5,-3.3M1759.7,1522.3l0.7,3.4 0.8,5.2 0.1,4.4 -1.8,4.1 -2.8,4.4 -1.9,2.9M2364.1,873.7l-0.6,2.9 -0.7,4.4 0,3.4 1.8,1.9 2.8,1.7 2.1,1.7 0.8,2.3 0.5,2.9 0,2.9 -0.6,4.7 -1,6 -1.1,5.3 -1.2,4.9 -1.6,5.4 -1.2,4.5 -0.9,4 -0.8,4.3 -0.9,3.7 -1.2,3.5 -1.6,3.8 -1.3,3.4 -1.3,3.2 -1.4,3.8 -1.3,3.7 -1.3,5.2 -1.5,6.5 -1.2,4.4 -0.8,0.7 -1.1,0.4 -0.8,0.2M2364.9,905.8l0.8,3.6 1.1,5.3 0.5,4.5 -1,3.9 -1.8,4.1 -1.2,2.7M2346.7,979.4l-1.2,-3 -1.7,-4.6 -1.1,-4.4 0,-5 0.6,-6 0.8,-5.1 1.2,-4.4 1.6,-4.8 1.2,-4.2 0.8,-4.8 0.7,-5.4 -0.2,-3.2 -2.3,1 -3.4,2.9 -2.3,1.5 0.1,-1.9 0.9,-3.5 0.3,-2.6 -1.4,-1 -2.2,-0.6 -1.7,-1.1 -0.9,-3.3 -0.7,-4.5 -1.1,-2.9 -2.3,0.3 -3.1,1.5 -2.6,0.9 -1.8,-0.9 -1.8,-1.8 -1.8,-1.4 -2.6,-0.8 -3.1,-0.8 -2.3,-1 -1.4,-1.9 -1.1,-2.6 -0.2,-2.2 1.2,-2 2.1,-2.1 2.1,-1.3 2.9,0.2 3.6,0.9 1.5,0.3 -2.4,-1 -4.5,-1.6 -3.8,-1.5 -3.1,-1.2 -3.1,-1.4 -1.9,-1.4 0.4,-1.9 1.5,-2.5 0.8,-2.3 -1.1,-2.5 -1.9,-2.9 -1,-2.6 1,-2.6 2,-3 1,-2.4 -1,-1.7 -2,-1.7 -1,-2 0.8,-3.1 1.8,-4.1 1.4,-3.5 1,-3.3 1,-3.7 0.7,-2.4M2310.6,837.5l-1.4,1.7 -2,2.6 -2,2.4 -2.1,2.5 -2.5,3 -2,2.6 -1.3,2.8 -1.3,3.1 -1.5,2.1 -2.8,0.2 -3.4,-0.4 -1.8,0.2 1.5,2.2 3.2,3.3 2,2.5 -0.5,1.4 -1.5,1.2 -0.7,1.4 1.4,3.4 2.3,4.7 1.7,4 0.6,3.5 0.3,3.8 0.4,3.4 0.7,3.5 0.9,4 1.1,3.2 1.5,2.6 1.9,2.7 1.9,2.7 3,4.1 3.6,5.1 1.5,2.9 -2.7,-0.5 -5.1,-2.3 -4.3,-2.6 -3.4,-3.6 -3.5,-4.7 -2.4,-3.7 -0.9,-2.8 -0.5,-2.9 0,-1 1.2,3 1.9,5.2 0.9,3.8 -1.1,1.5 -2.2,0.9 -2,0.3 -1.6,-0.3 -1.9,-0.8 -1.9,-0.2 -2.4,1 -3,1.6 -2.6,1.4 -2.7,1.2 -3,1.2 -2.3,0.3 -1.6,-1.5 -1.5,-2.6 -0.9,-2.6 -0.4,-2.8 0,-3.4 0.4,-3.2 1.4,-3.4 2.1,-4 1.8,-3.3 1.5,-2.9 1.5,-3.1 1,-2M2265.6,905.8l-0.5,3.8 -0.5,5.7 0.5,3.9 2.7,1.1 4.1,0 3.9,0.2 4,1.2 4.9,1.5 4.5,1.3 5,0.6 6,0.6 5,1.5 4.8,3.7 5.1,5.3 3.5,4.4 1.4,3.8 0.5,4.2 -0.5,2.7 -2.3,0.9 -3.6,-0.1 -3.5,-0.8 -4.7,-2.4 -6,-3.7 -5.4,-3.3 -6.5,-3.6 -7.4,-4 -3.5,-1.7 3.4,2.4 7.3,4.7 6.7,4.1 6.2,3.5 7.2,3.8 5.4,2.9 2.9,2 2.8,2.1 2.3,1.2 2,-0.7 1.9,-1.5 1.5,-0.4 1.2,2.1 1.1,3.4 0.3,2.5 -1.5,1.1 -2.4,0.8 -1.4,0.8 1,1.2 2.1,1.5 0.9,1.3 -1.5,1.5 -2.7,1.6 -2.5,0.9 -2.4,-0.4 -2.9,-1.1 -2.7,-1.2 -3.8,-2 -4.5,-2.5 -2.4,-0.8 1.4,2.5 3.3,4.5 3.3,3.7 3.2,2.8 4,2.9 3.5,2.3 3.9,2 4.3,1.9 2.5,1.5 -0.6,1.2 -2.3,1.1 -2.4,0.3 -2.9,-1.3 -3.9,-2.2 -3.9,-1.8 -4.8,-1.4 -5.9,-1.6 -5.4,-1 -6.5,-0.5 -7.4,-0.3 -3.5,0 3.5,0.5 7.4,0.9 6.5,1.2 5.4,2.1 6,2.9 4.7,2.5 3.4,2.5 3.2,2.8 2.7,1.4 2.5,-1.1 2.7,-2.3 2.9,-1.9 4.6,-1.4 5.8,-1.4 4.3,0.1 2.3,3.1 1.7,4.9 1.3,4 1.5,3.1 1.5,3 1,2M2357.4,1012.9l1.7,3.5 2.5,5.2 2.5,4.7 2.8,4.3 3.5,4.9 3.1,4.1 3.1,3.6 3.5,3.9 2.8,3.2 2.3,2.7 2.4,2.7 2,2.7 1.9,3.2 2,3.9 1.4,3.6 1,4.3 0.8,5.1 0.1,4 -1.2,3.1 -2,3 -1.4,1.9M2385.5,1094.5l-10.7,6.7M2366.8,1114.6l-1.4,2.7 -2,4.2 -1.9,3.8 -1.6,4.2 -1.9,4.8 -1.9,3 -2.2,-0.2 -2.9,-1.5 -2.9,-0.9 -4,0.9 -5.1,1.6 -4.3,1.5 -3.6,1.2 -3.9,1.4 -3.2,1.4 -2.8,2 -2.9,2.3 -2.3,1 -2.1,-2 -2.1,-3.3 -1.2,-1.4 0.3,2.8 0.9,5 0.1,4.3 -1.7,3.1 -2.6,3.3 -2.4,3 -2.2,3.5 -2.5,4 -1.9,3.2 -1.2,2.4 -1,2.4 -0.5,1.6 0.6,0.4 1.2,-0.3 0.9,-0.2M2380.2,1054.4l-2.1,-1.2 -3.1,-1.7 -2.8,-1.2 -2.6,-0.1 -2.9,0.3 -2.6,-0.2 -2.7,-1.2 -3.1,-1.9 -2.2,-2.2 -1.1,-3.6 -0.7,-4.6 -0.9,-2.5 -1.4,1.1 -1.8,3 -2.1,2.6 -3.1,2.2 -4,2.4 -3.6,2.1 -3.6,2.2 -4.1,2.3 -3,0.8 -1.9,-2.8 -1.5,-4.6 -0.7,-1.9 0.2,4.1 0.9,7.1 1.6,4.8 3.2,0.7 4.5,-0.8 4.4,-1.2 5,-1.7 6.1,-2.3 4.9,-1.4 4.1,0.1 4.1,0.9 2.5,1.7 0,3.8 -1.2,5.2 -0.1,3 2.5,-1.4 3.9,-3.4 3,-1.9 1.9,1.2 1.6,2.6 0.5,2.9 -1.5,3.7 -2.8,4.6 -2.4,3.8 -1.6,3 -1.8,3 -2,2 -3.1,0.9 -4,0.4 -3.6,0.1 -3.6,-0.2 -4.2,-0.5 -2.9,-0.7 -1,-1.4 -0.7,-1.9 -1,-0.7 -2,2.2 -2.9,3.5 -3.1,2.3 -5.2,-0.4 -6.5,-1.5 -3,-0.7 3.8,1.3 7.4,2.2 6.2,1.8 4.6,1.2 4.6,1.2 2.8,1.6 0.2,3.1 -1.3,4.1 -1.5,3.5 -1.6,3.1 -2.3,3.3 -2.8,1.7 -5.4,-1.4 -6.9,-2.8 -3.8,-1.2 1.8,2.5 4.7,4.2 4.2,2.7 3.3,-0.1 3.8,-1.3 3.6,-1.3 4.4,-1.5 5.3,-1.7 3.7,-0.8 1.6,1 0.9,2.2 0.2,2.1 -0.8,2.6 -1.6,3.2 -1.6,2.3 -2.4,1 -3,0.7 -1.3,0.9 1.9,2.1 3.6,2.7 2.5,1.9M2159.9,1460l3.4,5.1 5.1,7.6 4.5,6.8 3.9,6 4.5,6.9 4.5,6.6 6,8.1 7.4,9.7 6.1,8.1 5.1,6.8 5.4,7.2 4.1,5.5 3.2,4.1 3.1,4 1.9,3.3 -0.3,2.7 -1.2,2.7 -0.2,2.7 2.7,5.2 4.4,7.2 4.3,7.1 5.1,8.9 6.2,11.1 4.9,9.2 3.6,7.8 3.4,8.2 2.8,6.7 2.8,5.5 2.9,5.6 2.4,5.2 2,5.9 2,7 1.5,6.5 1,7.1 0.9,8.3 0.7,7.4 0.8,7.5 0.8,8.5 0,6.7 -1.7,4.6 -2.8,4.4 -2,4 -0.8,5.3 -0.4,6.2 -0.4,4.7 -0.5,2.5 -0.7,2.4 -0.4,1.6M2271.9,1752.2l-2.1,2.7 -3.3,4 -2.7,3 -2,1.3 -2.3,1 -2.2,1 -2.8,1.5 -3.6,1.8 -3.4,1.6 -4.2,1.7 -5,1.8 -3.8,0.7 -2.5,-1.2 -2.1,-2.4 -1.2,-2.3 -0.1,-2.7 0.6,-3.2 0.5,-2.2M2229.7,1760.3l2.2,0.4 3.3,0.5 2.6,0.7 1.9,1 1.8,1.4 1.2,0.9M2229.7,1760.3l-2.1,-3.9 -3.2,-5.9 -2.8,-4.8 -2.8,-3.5 -3.1,-3.5 -2.3,-2.7 -1,-1.8 -0.8,-1.8 -1.4,-1.3 -3.2,-0.6 -4.4,-0.4 -3.8,-0.6 -3.2,-1.2 -3.6,-1.7 -2.9,-2 -2.7,-3.2 -3,-4.2 -2.4,-4 -2.1,-4.8 -2.3,-5.7 -2.1,-4.1 -2.5,-1.9 -3,-1.2 -2.6,-0.1 -2.2,1.9 -2.4,3 -1.9,1.6 -1.9,-1.3 -2.1,-2.6 -0.9,-2.6 1.1,-2.3 2.2,-2.8 1.6,-3 0.9,-5.1 0.6,-6.5 0.1,-4.7 -0.6,-1.6 -1.3,-1.2 -1.4,-0.4 -1.9,1.2 -2.5,2.1 -2,1.6 -1.6,1 -1.7,0.7 -1.6,-0.1 -2.8,-2.4 -3.7,-3.8 -3.3,-3.6 -3,-3.9 -3.5,-4.8 -3.2,-4.2 -4.2,-4.2 -4.9,-4.8 -2.3,-4 2.5,-3.2 5,-3.4 3.9,-3.2 2,-4.2 1.5,-5.1 0.4,-3.7 -1.6,-1.6 -2.8,-0.9 -2.7,-0.7 -2.8,-1.4 -3.3,-1.5 -2.1,-0.3 0.2,2.4 1.1,4 0.4,3.3 -1.1,2.6 -1.9,2.6 -1.9,1.3 -2.3,-0.6 -2.7,-1.8 -1.5,-2.5 0,-10.6 0.9,-15.1 0.7,-11.6 0.6,-5.7 0.8,-5.8 0.2,-4.8 -0.6,-4.9 -1.1,-5.4 -1.5,-4.3 -2.1,-3.5 -3,-3.4 -3,-2.8 -3.8,-2.1 -4.7,-2.1 -4.5,-2.3 -5.1,-3.3 -6,-4.2 -5.1,-3.9 -4.3,-4 -4.7,-4.8 -4,-4.2 -4.1,-4.3 -4.8,-4.9 -4.1,-3.7 -4.5,-2.6 -5.2,-2.3 -3.3,-1.6 0,-0.3 0.5,-0.4 0.3,-0.3M2159.9,1701.9l1.1,-2.6 1.8,-3.9 1.9,-3.3 2.8,-3.3 3.5,-3.4 1.9,-1.4 -0.9,2.8 -2.3,5.1 -1.7,3.5M2335.2,1651.6l3.3,2.9 5.8,4.4 5.5,2.4 5.2,-1.4 6.4,-3.3 6.3,-3.4 9,-4.1 11.2,-5.1 7.4,-3.8 1,-1.7 0,-2.2 -1,-1 -5.7,1.5 -8.5,2.8 -6.9,2.2 -4.7,1.5 -4.7,1.3 -3.6,0.5 -2.6,-1.6 -2.3,-2.5 -1.6,-0.8 -0.5,3 -0.2,4.9 -0.9,3.5 -3.2,1.2 -4.6,0.4 -3.6,0 -2.9,-0.7 -2.9,-1ZM2388.8,1625.6l1.6,-1.5 3.1,-2 3.4,-1.4 4.7,-0.6 6.1,-0.1 5.4,0.7 5.2,2.6 6,4 5.1,3.2 5,2 5.5,2.1 4.1,2.3 2.9,3.8 2.4,5 1.2,4.2 -1.1,3.5 -2.3,3.9 -1.5,4 0.6,6 1.3,7.4 -0.3,4.5 -4.4,-0.1 -6.4,-2.3 -3.8,-2.5 1.4,-2.7 3.8,-3.6 2.9,-3.5 1.1,-3.9 0.7,-4.8 -0.2,-4.2 -1.2,-4.1 -2.2,-4.8 -3.1,-4.1 -5.3,-4.5 -7.3,-5.2 -6.8,-3.3 -7.6,-0.6 -8.9,0.7 -6.3,0.5 -2.1,0 -2,-0.1ZM2398.5,1736l1.8,-0.9 3.3,-0.2 3,0.4 2.7,1.3 3.1,2.1 2.3,2.1 1.1,2.4 0.8,3.1 1.4,2.7 4.8,4.4 6.7,5.6 4.7,4.6 1.9,3.6 0.9,3.9 -0.5,3.8 -3,5.1 -4.8,6.1 -4.2,3.4 -3.7,-1.4 -4.2,-3.8 -3.5,-2.9 -3.2,-0.8 -3.5,-0.3 -3,-0.5 -3.7,-1.5 -4.1,-2.1 -2,-1.9 2.3,-1.6 4.6,-1.8 2.9,-2.5 -0.5,-4.8 -1.8,-6.5 -1,-4.9 0.9,-2.3 1.6,-2.1 0.8,-2.1 -1.5,-3.2 -2.4,-3.8ZM2424.5,1792.8l4.5,-2.6 7.4,-2.6 5.9,-1.3 3.7,1 3.4,2.4 2.7,3.1 2.5,5.2 2.5,7.1 1.5,5.5 0.2,3.7 -0.5,3.6 -1.4,2.5 -3.4,1.3 -4.9,0.7 -3.7,-0.4 -1.6,-2.4 -1.2,-3.8 -1.4,-3.5 -2.9,-3.6 -3.7,-4.3 -3.1,-3.5 -3,-2.8 -3,-2.9ZM2437.5,1736l2.9,-1.7 4.7,-2.1 3.7,-1.1 2.8,0.5 2.6,1.4 1.1,1.4 -1.7,1.8 -3.4,2.2 -3,1.5 -2.6,0.4 -2.8,0 -2.1,-0.4 -1.4,-1 -1,-1.5ZM2478.1,1693.1l3.4,1.4 5.1,3.3 4.4,2.5 4,0.6 4.7,0.2 4.3,0.8 5.4,2.4 6.4,3.5 4.5,3.8 1.8,5.3 0.9,6.9 0.5,5.7 1,5.5 1,5.9 -0.4,3.2 -3.9,-1.4 -5.7,-3.7 -3.4,-3 1.2,-1 3.2,-0.7 2.1,-1.6 0.2,-4.6 -0.6,-6.4 -1.8,-5.2 -4.2,-3.6 -6,-3.5 -5.4,-2.6 -5.4,-1.7 -6.2,-1.4 -4.7,-0.8 -3.1,0.3 -3.1,0.6 -1.9,-0.3 -0.4,-3.2 0.6,-4.6ZM2546.2,1734.4l1,-1.4 2.9,-0.3 2.6,0.7 3.7,3.6 4.8,5.5 4.5,4.8 5.8,4.4 6.9,4.9 3.5,3.7 -2.8,2.9 -6,2.6 -4.1,1 0.4,-1.7 1.9,-3.3 0.3,-3.1 -3.6,-3.4 -5.6,-4.2 -4.8,-3.8 -4.3,-4.4 -4.6,-5.1ZM2625.8,1752.2l1.8,-1.1 2.7,-0.7 2,0.2 0.7,1.6 0.3,2.6 -0.1,2.3 -0.8,2.4 -1.3,2.6 -1.1,1.5 -1.1,-0.3 -1.2,-1.4 -0.9,-1.6 -0.7,-2.5 -0.5,-3.3ZM2546.2,1802.5l2.4,-0.5 3.7,0 3.7,0.5 5.2,2.1 6.3,3 4.1,2.4 0.2,1.5 -1.2,1.7 -1.6,0.7 -4.1,-1.1 -5.9,-2.1 -4.6,-1.7 -2.8,-0.7 -2.8,-0.7 -1.9,-0.8 -0.9,-1.4 -0.4,-1.7ZM2586.8,1791.2l2.4,1.7 3.9,3 3.5,3.4 4.4,5.9 5.5,7.8 4.7,5.8 4.4,2.6 4.9,1.9 3.7,2 2.9,4 2.5,4.9 0.4,2.4 -3.8,-2.5 -6.4,-5 -5.4,-3.8 -4.9,-1.5 -5.2,-1 -2.9,-0.8 1.4,-0.7 3.5,-0.8 1.6,-1.7 -2.6,-4.1 -4.7,-5.8 -4,-4.7 -3.2,-3.6 -3.3,-3.6 -2.3,-2.6 -0.8,-1.3 -0.5,-1.5ZM2659.9,1828.5l4.1,0.3 6.6,1.2 5.5,0.8 4.6,-0.9 4.8,-1.3 3.6,-0.1 2.4,2.7 1.9,4.5 0.6,4.2 -1.2,4.4 -2.4,5.4 -2.9,4.8 -4.7,5.8 -6.1,6.6 -3.8,3.8 -0.2,-1.1 1.6,-3.5 1.8,-3.5 2.9,-4.4 3.9,-5.6 2.9,-4.6 1.8,-3.6 1.4,-3.8 0.1,-2.4 -2.2,-0.5 -3.7,0.3 -3.8,0.2 -5.2,-0.2 -6.5,-0.5 -4.6,-0.9 -2.4,-2.5 -1.3,-3.4ZM2734.5,1834l4.4,-0.8 6.5,-0.5 5.4,0 4.3,0.8 4.3,1.3 2.7,1.2 0.4,1.3 -0.7,1.7 -1.3,0.9 -3.5,-0.3 -5,-0.9 -4.5,-0.5 -4.5,0.6 -5.1,0.9 -3.4,0.2 -1.2,-1.6 0,-2.5ZM2793,1857.7l3.8,-0.6 5.7,0 3.5,0.6 -0.5,1.8 -2.2,2.8 -2.2,1.9 -2.1,0.9 -2.6,0.4 -1.8,-0.3 -1.2,-2.1 -0.9,-3.2ZM2810.8,1844.7l2.3,-0.2 4.4,0.8 3.1,1.1 0.9,2.2 0,3 -0.9,1.3 -3.1,-2 -4.4,-3.7ZM2755.6,1890.2l1.5,-1.5 2.7,-1.3 2.3,-0.5 1.8,1.1 1.8,2 0.7,1.8 -1.3,1.9 -2.5,2.1 -2.1,0.9 -2,-1.5 -2,-2.8ZM2728.1,1927.5l2.3,-3.3 3.7,-3.5 3.7,-2.3 4.6,-0.5 5.6,0.3 4.4,-0.4 3.2,-2.2 2.9,-3.3 2,-2.6 0.7,-1.9 0.4,-2 0.5,-1 1.1,0.8 1.4,2 0.8,2.1 0,3.3 -0.4,4.4 -0.6,3.6 -0.7,2.9 -1.2,3 -2,2.3 -4.5,1.9 -6.3,1.9 -5.4,1.7 -5.1,2.2 -5.7,2.4 -3.8,0.6 -1.6,-3 -0.5,-5.1ZM2116,1940.5l5.4,-3 8.3,-4.5 7.4,-3.8 7.2,-2.8 8.3,-2.8 7.3,-2.6 7.4,-3.2 8.5,-3.7 6.8,-2.8 5.3,-1.7 5.4,-1.3 5.5,-0.9 9.9,-0.4 12.7,-0.1 9.9,-0.5 6,-1.5 5.9,-2.2 4.3,-1.1 2.3,1.2 2,2.4 2.2,1.2 3.6,-1 4.8,-2 4.6,-1.8 5.7,-1.5 6.9,-1.7 5.3,-0.7 2.8,1 2.6,2 2.7,1.5 3.9,0.9 4.8,0.9 4.3,0.2 4,-0.9 4.7,-1.5 4.3,-0.9 5.1,0.3 6.1,0.9 5,1.1 4,1.8 4.1,2.4 3.3,2.3 2.6,2.5 2.7,3 2.8,2.6 3.9,2.5 5,2.7 4.1,1.9 3.1,1.1 3.3,0.8 3.3,0.1 6.6,-1.7 8.7,-2.6 7.4,-1.6 6.2,0.4 6.8,1.3 6.5,1.6 8.2,2.3 9.9,3.1 7.9,2.7 6.2,2.8 6.1,3.2 3.9,2.1M2346.6,1903.2l21.1,8.1M2406.6,1909.7l4.5,-1.3 8.2,-1.4 6.8,-0.6 4.5,1 4.6,2 3.9,1.9 4.1,1.9 4.8,2.3 4.1,2.3 4.1,3 4.8,3.6 4.1,2.5 4.5,0.4 5.2,-0.3 3.3,0.5 0.9,3 -0.3,4.3 -1.3,2.5 -3.2,-0.6 -4.8,-2.1 -4.3,-2.2 -4,-2.4 -4.6,-3 -4.4,-2.7 -5,-2.7 -6,-3.1 -5.3,-2.3 -5.3,-1.3 -5.9,-1.1 -5,-0.9 -5.3,-1 -5.6,-1.2ZM2481.3,1936.6l13,3.3M2185.8,1940.5l5.1,-0.8 7.6,-1.1 6.8,-0.7 6.8,0 7.6,0.4 5.1,0.3M1560.1,1562.9l-3,-0.5 -4.5,-0.9 -3.9,-0.9 -3.1,-1.4 -3.4,-1.8 -3.2,-1.6 -4,-1.5 -5,-1.6 -4,-1.1 -3.2,-0.6 -3.4,-0.5 -3.2,-0.2 -4,0 -4.9,0.3 -4.1,0.3 -3.8,0.4 -4.1,0.6 -3.4,0.6 -2.7,1 -2.8,1.3 -2.6,1 -2.9,0.7 -3.5,0.7 -3.4,0.9 -4,1.4 -4.8,2 -4.2,1.7 -4.2,1.7 -4.8,2 -3.9,1.9 -3.4,2 -3.6,2.3 -2.8,2.2 -2.2,2.5 -2.1,3.1 -2.2,2.5 -3,2.2 -3.7,2.4 -3,1.9 -2.3,1.5 -2.2,1.6 -2,1.7 -1.9,2.4 -2.2,3 -2.4,2.8 -3.8,3 -4.9,3.7 -4.3,3 -4.1,2.7 -4.8,3 -4.1,2.4 -4.1,2.1 -4.8,2.3 -4.1,2.1 -4.1,2.5 -4.8,3 -4.1,2.6 -4.2,2.6 -4.8,3 -3.9,2.5 -3.3,2.2 -3.4,2.3 -3.1,2 -3.6,2 -4.2,2.3 -3.5,2.2 -2.8,2.4 -2.9,2.9 -2.5,2.8 -2.6,3.4 -2.9,4.3 -2.6,3.7 -2.6,3.6 -3,4.1 -2.5,3.7 -2.2,4 -2.4,4.8 -1.9,4.2 -1.8,4 -1.9,4.6 -1.2,4.3 -0.1,5 0.5,6 0.6,5.3 0.6,5.1 0.8,5.7 0.9,5.4 1.4,6.1 1.9,7.3 1.6,6.1 1.4,5.5 1.4,6 1.1,4.7 0.8,3.7 0.7,3.7 0.4,2.4M1301.3,1791.2l-0.1,3.4 -0.3,5.1 -0.6,4.5 -1.2,4 -1.8,4.6 -1.8,4.3 -2.5,5 -3.1,6 -2.6,5.3 -2.2,5.1 -2.3,5.7 -2,5.4 -2,5.9 -2.4,7.1 -2,6.5 -2.1,7 -2.4,8.4 -2,7.3 -1.7,7.1 -1.8,8.2 -1.4,7.4 -1,8.9 -1,10.3 -0.6,6.8M1449.7,1566.5l-2.2,0.3 -3.2,0.3 -2.7,0 -2.2,-0.6 -2.4,-1.1 -1.3,-1.5 0.4,-2.8 1.2,-3.7 0.4,-2.6 -1.5,-0.8 -2.4,-0.1 -2,0.3 -1.1,0.7 -1,1.1 -1.1,0.8 -2.4,0 -3,-0.1 -1.8,0.7 0.6,2.5 1.8,3.8 1.5,3.4 0.7,3.5 0.6,4 1.3,2.3 3.2,-0.4 4.3,-1.7 2.9,-1.2M1483.8,1555.8l-1.1,-1.6 -1.6,-2.4 -0.6,-2.5 1.6,-3.3 2.7,-4 2.2,-2.5 1.5,-0.3 1.7,0.7 0.7,1.3 -1.4,3.4 -2.4,4.7 -1.7,3.2M1370.1,1627.2l-5,2.4 -7.2,3.4 -4,1.7 2.9,-1.9 5.8,-3.8 2.7,-2.8 -4.3,-1.3 -7.6,-0.8 -6,-0.1 -3.1,1.5 -2.8,2.4 -2.2,0.9 -2,-2.4 -2,-4 -1.5,-2.7 -1,-0.2 -1.2,0.4 -0.4,0.8 1.3,4.1 2.2,5.9 2.3,4.6 2.9,2.7 3.5,2.4 2.4,1.4M1436.7,1581.8l-21.1,12M1323.1,1656.4l1,-4.6 1.5,-6.8 0.7,-4.8 -1.1,-1.6 -1.9,-1 -1.2,0.3 0.5,3.2 1.2,5 0.2,3.8 -2,2.2 -3.1,1.8 -2.3,0.9 -0.7,-0.8 -0.3,-1.6 -0.7,-0.8 -4.1,1.1 -5.8,2.1 -3.1,1.6 2.2,0.4 4.7,0.2 2.9,1.1 -0.8,3.8 -2.4,5.4 -1.7,3.7M1298.7,1684l-1.2,-2.8 -1.8,-4.1 -1.9,-2.8 -2.6,-0.9 -3.2,0 -1.6,0.9 1.7,3 3.3,4.4 2.4,3M1284.1,1710l-4.1,-2.2 -6.1,-3.4 -4.4,-2.5 -1.5,-1.5 -1.4,-1.6 -0.4,-0.2 1.2,3.2 2.2,5.2 2.5,3.6 3.8,1 4.9,0.1 3.3,-0.1M1284.1,1716.5l-2,3.3 -2.8,5 -1.7,4.7 0.4,4.9 1.5,5.8 1.3,5.5 0.9,6.1 1.1,7.3 1.3,6.1 2.3,5.6 3.2,6.1 2.6,4.5 2.2,2.6 2.6,2.4 1.7,1.5M553.5,1594.3l-1.8,2.7 -2.7,4 -2,4 -1,4.5 -0.6,5.4 0,4.7 1,4.4 1.9,4.8 2,3.8 2.6,2.9 3.4,2.8 3.7,2.4 5.7,2.4 7.3,2.8 4.9,2.9 0.9,3.9 -0.7,4.8 -0.2,4.3 0.9,4.4 1.5,5.1 2.4,3.5 4.7,1.1 6.5,0.3 5.1,1.2 3.7,3.7 3.6,5.3 2.4,4.6 0.9,4.4 0.2,4.9 0.5,3.7 1.7,2.7 2.2,2.5 1,1.3 -1.3,-0.9 -2.6,-1.9 -2.6,-0.4 -4.6,3.5 -5.9,5.7 -4.1,5.4 -1.5,5.7 -0.4,6.8 0.3,5.3 1,3.8 1.7,3.5 2.1,2.5 3.2,1.5 4.3,1 3.9,0.1 4.8,-1.9 5.6,-2.9 2.6,-1.1 -3.5,2.9 -6.4,5 -3.1,3.5 4.4,0.8 7.9,-0.2 5.6,0.4 0.6,1.8 -0.7,2.8 0.1,2.5 4,3.9 5.9,5.1 4.7,4 2.7,2.8 2.6,2.9 2.8,2.4 4.8,2.5 6,2.8 3.8,2.2 0.1,1.8 -1.4,1.9 -2,0.8 -3.7,-1.7 -4.8,-2.8 -2.8,-1 1,2.7 2.8,4.7 2.7,4 2.5,3.2 3,3.6 1.9,2.9 -0.1,2.6 -0.9,2.9 0.1,2.6 2.2,3.2 3.6,3.8 3.9,2.8 5.8,1.5 7.3,1.2 4.8,1.5 1.3,3.3 -0.3,4.3 -1.7,2.1 -5,-2.7 -7.1,-4.8 -3.5,-2.2 3.4,3.5 7,6.3 5.9,5.5 4.3,4.2 4.7,4.6 4,4.1 4.2,4.4 4.8,5.3 3.9,5 3.3,6.1 3.5,7.4 3,5.9 3.2,4.4 3.6,4.5 2.9,4.1 2.1,5 2.1,6.1 2.3,5.2 3.7,5.2 4.6,5.7 3.1,3.7M553.5,1871.2l1.5,-0.9 2.7,1 2.3,1.6 2.4,2.8 2.7,4.2 1.4,4.3 -0.8,5.8 -2,7.2 -2.1,4.9 -2.6,2 -3.4,0.9 -2.1,-1.3 -0.7,-9.3 0.1,-13.9ZM337.7,1594.9l1.7,1.2 2.6,2 2.2,2 1.5,2.9 1.6,3.6 1.7,2.6 2.5,0.9 3.1,0.3 2.5,1.1 1.8,3.2 1.6,4.5 1.5,3.7 1.4,3.1 1.7,3.1 1.8,1.9 2.8,-0.3 3.6,-1.2 3.3,-0.8 3.6,0.8 4.3,1.3 3.5,0.2 2.9,-2.8 2.9,-4.2 1.7,-1.8 -0.2,3.1 -1.2,5.6 -0.6,4.9 0.6,3.8 1.2,4 1.5,3.6 2.5,3.7 3.4,4.2 3.1,3.5 3,3.2 3.4,3.5 3.4,3 4.3,2.8 5.3,3.1 4,3.2 2.4,4.5 2,5.8 1.5,5 1.3,4.7 1.2,5.4 0.7,4.5 -0.3,4.3 -0.8,4.8 -0.5,3.9 0.5,3.2 0.9,3.3 0.2,3.2 -1.2,3.9 -2,4.9 -1.7,4.2 -1.6,4.2 -1.8,4.9 -1.4,3.9 -1.4,3.3 -1.4,3.5 -0.5,2.9 0.9,2.6 1.9,2.8 2.1,2.7 3.1,3.6 4,4.5 2.6,3.3 -0.3,1.8 -1.2,1.9 -0.1,1.2 2.5,0 4,-0.4 3.3,0.4 2.1,2.5 2.2,3.7 2.1,3.5 2.8,3.5 3.6,4.1 3.4,3.8 4,4 5,4.7 4,4.3 3.3,4.6 3.4,5.3 3,4.7 3,4.7 3.4,5.3 3.4,4.6 4.7,4.2 5.7,4.7 4.2,4.1 2.1,4.3 1.5,5 1.2,3.7 1.3,2.1 1.6,2.1 1,2.2 0.4,4.8 0.2,6.3 0.4,5.2 0.8,4.1 1.2,4.2 1.3,3 1.8,1.7 2.3,1.2 2.3,0.4 3,-0.6 3.7,-1.3 3.1,-1.4 2.6,-1.9 2.9,-2.5 2.6,-2.1 3.1,-1.5 3.7,-1.6 2.9,-1.7 1.9,-2.3 1.7,-2.9 1.3,-2.9 1.3,-3.5 1.4,-4.4 0.6,-3.5 -0.5,-2.8 -1.2,-2.9 -1.6,-2.4 -2.9,-2.1 -4,-2.2 -2.8,-2.2 -0.9,-2.9 -0.3,-3.6 -0.5,-3.3 -1.2,-3.5 -1.8,-4.1 -1.8,-3.7 -2.3,-4 -3,-4.8 -2.8,-4.2 -3.2,-4.5 -3.7,-5 -2.9,-3.5 -1.6,-1.2 -1.8,-0.8 -1.4,0.4 -0.8,3.1 -0.7,4.7 -0.8,3.5 -1.2,1.6 -1.6,1.3 -1.4,0.4 -1,-1.1 -1.1,-2 -1.2,-1.8 -1.9,-1.3 -2.5,-1.6 -2.1,-1.9 -1.8,-3.1 -1.8,-4.2 -1.3,-4.1 -0.9,-5 -0.8,-6.2 0.1,-5 1.8,-3.9 2.9,-4 1.8,-3.5 0.1,-3.6 -0.7,-4.1 -1,-3.7 -1.9,-4 -2.6,-4.7 -2,-4.3 -1.3,-4.7 -1.1,-5.5 -0.8,-4.4 -0.2,-3.5 0,-3.5 -0.5,-2.7 -1.8,-1.6 -2.6,-1.4 -2.1,-1.9 -1.9,-4.2 -2,-5.8 -1.3,-4.6 -0.5,-3.3 -0.2,-3.3 0.1,-3.1 0.8,-3.3 1.2,-4 0.6,-4.1 -0.5,-5.5 -1.2,-6.8 -0.9,-5.5 -0.6,-4 -0.6,-4 -0.5,-3.4 -0.5,-3.1 -0.6,-3.5 -1.1,-3.2 -2.6,-4.3 -3.6,-5.1 -2.9,-3.5 -2.1,-0.7 -2.5,-0.1 -1.9,-0.9 -1.3,-3.1 -1.3,-4.5 -1.3,-3.7 -1.8,-2.7 -2.2,-2.7 -1.9,-2.7 -1.7,-3.3 -1.8,-4.2 -1.3,-3.9 -0.7,-4.9 -0.6,-5.8 -0.3,-3.9M414,1767.3l4.2,-8.5 6.1,-12.4 4.3,-8.3 0.6,0 0.8,0.7 0.2,0.9 -2.2,6.2 -3.4,9.1 -2.5,7.5 -1,5.8 -0.6,5.9 0,4.5 0.8,3.1 1.4,3.1 1,1.9M425.3,1785.2l3.1,1.5 4.6,2.4 3.7,2.6 3.1,3.9 3.1,4.8 1.3,2.7 -1.9,-0.9 -3.8,-2.7 -3.4,-2.9 -3.4,-3.7 -3.8,-4.6 -2.6,-3.1M464.3,1644l1.7,-1.4 2.4,-1 1.7,0.7 1.2,6 0.9,9 0.2,6.1 -1.1,0.6 -2.1,-0.8 -1.7,-1.4 -1.4,-2.7 -1.6,-3.8 -0.9,-3.2 -0.2,-2.9 0.2,-3ZM488.6,1715.4l1.3,-3.9 2.8,-6.3 2.4,-4.4 2,-0.7 2.3,0.4 1.2,0.9 -1.1,2 -2.3,3 -2.1,2.5 -2.4,2.8 -2.8,2.9ZM509.1,1767.3l1.8,-0.2 3.1,1.5 2.2,2 1.1,3.5 0.7,4.7 -0.1,3.1 -1.5,0.5 -2.3,-0.7 -1.8,-1.4 -1.5,-3.9 -1.4,-5.6ZM547.1,1823.5l0.8,-0.5 1.4,0.3 1,0.9 1,3.8 1,5.4 0.3,3.7 -1,0.8 -1.7,0 -1.2,-0.8 -0.8,-3.9 -0.6,-5.8ZM1954.5,192.7l2.8,-3.2 4.3,-4.7 4.2,-3.4 5,-1.3 6.2,-0.4 5.1,0 4.3,0.5 4.7,1.1 4,1.7 4.2,3.2 4.9,4.5 3.9,3.7 3.6,3 3.7,3.1 2.4,2M234.6,179.5l3.6,3.1 5.5,4.6 4.5,3.9 3.4,3 3.5,3.2 3.1,2.8 3.2,3 3.7,3.3 3.2,2.8 3.1,2.7 3.3,2.7 2.6,1.6 1.9,-0.4 1.7,-1.5 1.4,-1.1 1.3,-0.5 1.4,-0.4 1.3,-0.1 1.4,0.8 1.6,1.1 1.1,0.1 0.5,-2.5 0.2,-3.9 -0.2,-2.7 -1,-0.5 -1.5,0 -1.1,-0.5 -0.8,-2.2 -0.7,-3.4 -0.5,-3.4 -0.4,-5 -0.4,-6.4 -0.2,-4.2M235.1,197.1l2.4,2.1 3.5,3.1 3.2,2.8 3.1,2.7 3.4,3 2.5,2.4 1.1,1.7 0.9,1.8 1,1.5 1.6,1.3 2.2,1.5 2.2,1.2 2.9,1.2 3.8,1.5 3.4,1.3 3.6,1.7 4.1,1.9 3.3,1.4 2.5,0.4 2.6,0.1 2,0.5 1.4,1.8 1.3,2.4 1.3,1.9 1.9,1 2.2,0.7 1.9,0.3 1.5,-0.2 1.5,-0.5 1,-0.3M310.4,179.5l0.1,2 0.3,2.8 0.6,1.8 1.4,-0.2 2,-1.1 1.7,-0.7 1.4,0.1 1.5,0.4 1.1,0.5 0.9,0.7 0.7,1.1 0.4,1.2 -0.3,3.5 -0.6,4.9 -0.1,3.6 1.4,1.5 2.2,1 1.4,1.5 -0.2,3.3 -1,4.4 -0.8,3.4 -0.5,1.9 -0.6,1.9 -0.9,1.2 -1.8,0.2 -2.4,-0.2 -1.8,0 -1.1,0.8 -0.7,1.2 -0.2,1 0.9,0.8 1.7,1 1.4,1.2 1.5,2.3 1.6,3.2 0.9,2.6 -0.4,1.9 -1,2.1 -0.6,2 0.4,2.9 0.9,3.5 0.7,2.6 0.5,1 0.5,1 0,1 -1.2,1.8 -2,2.3 -1.8,2 -1.7,1.5 -1.9,1.7 -1.4,1.8 -0.8,2.6 -0.7,3.4 -0.6,3 -0.9,3.2 -1.1,3.8 -1,3 -0.8,2.6 -1,2.6 -1.2,1.9 -2.1,0.9 -2.7,0.5 -2.2,0.6 -1.4,1.2 -1.2,1.5 -1.4,1.3 -2.1,1.5 -2.8,1.6 -2.2,0.9 -1.6,-0.5 -1.7,-1.3 -1.7,-1.2 -2.8,-1.2 -3.3,-1.4 -1.9,-1.4 0.8,-1.9 2.2,-2.3 2,-1.8 1.9,-1.3 2.2,-1.2 1.9,-0.5 1.7,0.8 1.7,1.4 1.7,0.8 2,-0.4 2.3,-1 1.7,-1.6 0.9,-3.1 0.6,-4.4 0.5,-3.6 0.5,-2.9 0.6,-2.9 0.9,-2.2 1.8,-1.4 2.4,-1.2 1.8,-1.4 1,-2.2 0.7,-3 0.3,-2.9 -0.4,-3.9 -0.8,-4.8 -0.8,-3.3 -0.6,-0.5 -0.8,-0.3 -0.6,-0.2" fill="none" stroke="#000" stroke-width="4.17" stroke-linejoin="round" stroke-linecap="round"/>
<path d="M289.4,180l-0.1,2.6 -0.2,4 -0.2,3.5 -0.2,3.4 -0.2,3.7 -0.1,2.9 0.1,1.7 0.2,1.7 0.2,1.1M293.4,180l0.6,1.6 0.9,2.3 0.5,2.2 -0.3,2.4 -0.7,2.8 -0.5,1.8M296.4,257.3l-2.1,1.6 -3.1,2.4 -2.8,2.1 -2.7,1.9 -3,2.2 -2.4,1.9 -2.1,2 -2,2.2 -1.4,1.8 -0.5,1.2 -0.3,1.4 0.3,0.9 1.2,0.2 2,0 1.8,-0.2 2,-0.3 2.4,-0.4 1.6,-0.3M310.4,230.2l1.5,0.8 2.2,1.4 1.4,1.9 0.1,3.4 -0.5,4.7 -0.6,3.9 -0.8,3.3 -1.1,3.6 -1.2,3.1 -1.5,3.2 -2,3.7 -1.5,3.2 -1.1,3.2 -1.1,3.7 -0.8,3.1 -0.3,3.1 -0.1,3.4 -0.6,2.6 -1.8,1.7 -2.5,1.4 -1.7,0.9M317.5,240.3l0.8,2.6 1,4 0.2,3.4 -1.6,2.9 -2.6,3.2 -1.8,2M296.4,188.1l1.5,-6.1M309.4,182l1.1,1.2 1.7,1.8 1.3,1.1 0.8,-0.3 0.7,-1 0.5,-0.7" fill="none" stroke="#000" stroke-width="6.5" stroke-linejoin="round" stroke-linecap="round"/>
<path d="M2427.7,255.7l-3.4,-0.1 -5.2,-0.2 -4.8,-0.2 -5,-0.3 -6.1,-0.4 -5,-0.1 -4.4,0.3 -4.8,0.6 -4.2,0.4 -4.7,0.3 -5.2,0.2 -3.5,0.1M2394.2,355.4l-3.1,2.3 -4.8,3.6 -4.1,2.9 -3.4,2.1 -3.8,2.1 -3.6,2.5 -4,3.6 -4.9,4.9 -4.5,4.9 -5.1,6.6 -6.1,8.2 -4.8,6.6 -3.4,4.5 -3.3,4.5 -2.7,4.4 -2.3,5.9 -2.3,7.2 -2.1,5.7 -2.4,3.7 -2.9,3.5 -2.7,3.5 -3.1,4.6 -3.8,5.8 -3.8,5.7 -5.9,8.4 -7.4,10.5 -5.5,7.9 -2.6,4 -2.5,4.1 -1.6,2.6M2332.6,419.1l2.1,-2.6 3,-3.9 1.6,-2.8 -1.1,-1.3 -2.5,-0.6 -1.8,0.5 -0.7,3 -0.4,4.6 -0.2,3.1M2325.9,437.9l-3.7,2.1 -5.5,3.1 -4.2,2.8 -2.6,2.6 -2.2,2.9 -0.5,2.6 2.6,3 4.5,3.2 3.6,1.8 2.6,-0.6 2.5,-2.1 1.6,-2.7 0.8,-5.7 0.3,-7.8 0.2,-5.2M2323.2,463.3l-4.1,0.8 -6.2,1.2 -5.7,0.7 -6.9,-0.3 -8.1,-0.8 -3.8,-0.2 4,1.2 8.2,1.8 6.6,1 4.1,-0.9 4,-1.8 2.6,-1.3M2353.4,1007.5l2,3.8 3.1,5.7 3,5.2 3.3,5.1 4,5.9 3.4,5.1 3.6,5.4 3.9,6 2.6,3.9M2206.9,1542.8l2.2,3.8 3.2,5.8 2.8,5 2,4.1 2.1,4.5 2.4,4.4 3.6,5.6 4.8,7.1 4.5,6.8 5.1,8.1 6.2,9.8 5,8 4.2,6.7 4.3,6.8 2.8,4.4M2280,1750.6l-0.7,2.9 -1.2,4.4 -1.3,4 -1.8,4.2 -2.4,4.9 -2.3,3.9 -2.8,3.1 -3.2,3.1 -2.2,2M2254,1790.5l-16.2,9.8M2221.6,1802.5l3.2,6.5M2208.6,1809.4l6.5,-2.6M2198.8,1817.1l6.5,-2.6" fill="none" stroke="#000" stroke-width="6.5" stroke-linejoin="round" stroke-linecap="round"/>
<path d="M2820.4,240.1l-5.8,5.9 -3.7,5.8 3.7,4.4 1.5,4.4 4.3,1.5ZM2741.5,180.2l8.8,0.8 -2.2,6.5 5.1,2.2 -2.9,5.9 -7.3,0.7 -1.5,-8.8ZM2611.2,407.1l5.4,2.7 0,8 -4.1,4 -3.2,-6.7ZM2643.3,421.8l4.1,-10.7 5.3,-8 2.7,2.6 -5.4,13.4 -4.8,14.8ZM2660.8,388.3l6.7,1.4 -4.1,8 -6.7,2.7ZM129.9,1089.7l9.7,3.2 11.4,3.3 1.6,4.8 -9.7,2.6 -4.9,-7.4ZM155.8,1096.2l9.8,1.6 9.7,3.2 0,4.9 -13,-1ZM2510.7,665.9l6.7,-8 6.7,0 -4,5.3 -6.7,4.8ZM2536.2,660.5l9.4,-8 5.3,6.7 -5.3,3.5ZM157.5,1147.3l6.5,-0.9 3.2,5.2 -4.9,3.2 -4.2,-3.2ZM211,1150.6l13,8.1 0,6.5 -8.1,-1.6ZM202.9,1178.2l4.9,-0.7 5.8,15.3 -5.8,1ZM296.4,207.1l4,-3 3,4.1 1,5 4,4 2,4 -4,1 -4,-5 -5,-5ZM305.4,205.1l5,-3 5.1,2 1,5.1 -4.1,2 -5,-1ZM313.5,219.2l4,-1 2,3 -3,2.5 -2.5,-1.5Z" fill="#000" stroke="#000" stroke-width="3" stroke-linejoin="round"/>
</g>
<rect x="30.4" y="178.4" width="2790.1" height="1762.8" fill="none" stroke="#000" stroke-width="3.33"/>
<rect x="2994.0" y="1596.6" width="74.3" height="134.9" fill="#053061"/>
<rect x="2994.0" y="1462.4" width="74.3" height="134.9" fill="#256baf"/>
<rect x="2994.0" y="1328.1" width="74.3" height="134.9" fill="#559ec9"/>
<rect x="2994.0" y="1193.8" width="74.3" height="134.9" fill="#a7d0e4"/>
<rect x="2994.0" y="1059.5" width="74.3" height="134.9" fill="#e2edf3"/>
<rect x="2994.0" y="925.3" width="74.3" height="134.9" fill="#fae7dc"/>
<rect x="2994.0" y="791" width="74.3" height="134.9" fill="#f7b799"/>
<rect x="2994.0" y="656.7" width="74.3" height="134.9" fill="#dd6f59"/>
<rect x="2994.0" y="522.5" width="74.3" height="134.9" fill="#b6202f"/>
<rect x="2994.0" y="388.2" width="74.3" height="134.9" fill="#67001f"/>
<path d="M2994.0,388.5L3031.2,319.5L3068.3,388.5Z" fill="#67001f"/>
<path d="M2994.0,1731.2L3031.2,1799.7L3068.3,1731.2Z" fill="#053061"/>
<path d="M2994.0,388.5L3031.2,319.5L3068.3,388.5L3068.3,1731.2L3031.2,1799.7L2994.0,1731.2Z" fill="none" stroke="#000" stroke-width="3.33" stroke-linejoin="miter"/>
<path d="M3068.3,1731.2h15.4" stroke="#000" stroke-width="3.33"/>
<text x="3097.8" y="1745.7" font-family="DejaVu Sans, sans-serif" font-size="41.67" fill="#000">0.0</text>
<path d="M3068.3,1596.9h15.4" stroke="#000" stroke-width="3.33"/>
<text x="3097.8" y="1611.4" font-family="DejaVu Sans, sans-serif" font-size="41.67" fill="#000">0.1</text>
<path d="M3068.3,1462.7h15.4" stroke="#000" stroke-width="3.33"/>
<text x="3097.8" y="1477.2" font-family="DejaVu Sans, sans-serif" font-size="41.67" fill="#000">0.2</text>
<path d="M3068.3,1328.4h15.4" stroke="#000" stroke-width="3.33"/>
<text x="3097.8" y="1342.9" font-family="DejaVu Sans, sans-serif" font-size="41.67" fill="#000">0.3</text>
<path d="M3068.3,1194.1h15.4" stroke="#000" stroke-width="3.33"/>
<text x="3097.8" y="1208.6" font-family="DejaVu Sans, sans-serif" font-size="41.67" fill="#000">0.4</text>
<path d="M3068.3,1059.8h15.4" stroke="#000" stroke-width="3.33"/>
<text x="3097.8" y="1074.3" font-family="DejaVu Sans, sans-serif" font-size="41.67" fill="#000">0.5</text>
<path d="M3068.3,925.6h15.4" stroke="#000" stroke-width="3.33"/>
<text x="3097.8" y="940.1" font-family="DejaVu Sans, sans-serif" font-size="41.67" fill="#000">0.6</text>
<path d="M3068.3,791.3h15.4" stroke="#000" stroke-width="3.33"/>
<text x="3097.8" y="805.8" font-family="DejaVu Sans, sans-serif" font-size="41.67" fill="#000">0.7</text>
<path d="M3068.3,657h15.4" stroke="#000" stroke-width="3.33"/>
<text x="3097.8" y="671.5" font-family="DejaVu Sans, sans-serif" font-size="41.67" fill="#000">0.8</text>
<path d="M3068.3,522.8h15.4" stroke="#000" stroke-width="3.33"/>
<text x="3097.8" y="537.3" font-family="DejaVu Sans, sans-serif" font-size="41.67" fill="#000">0.9</text>
<path d="M3068.3,388.5h15.4" stroke="#000" stroke-width="3.33"/>
<text x="3097.8" y="403" font-family="DejaVu Sans, sans-serif" font-size="41.67" fill="#000">1.0</text>
<text transform="translate(3211,1062.5) rotate(-90)" text-anchor="middle" font-family="DejaVu Sans, sans-serif" font-size="41.67" fill="#000">Hit Rate</text>
<text x="1425.5" y="80.3" text-anchor="middle" font-family="DejaVu Sans, sans-serif" font-size="66.67" fill="#000">Hit Rate (Below Normal): NOAA</text>
<text x="1425.5" y="153.9" text-anchor="middle" font-family="DejaVu Sans, sans-serif" font-size="66.67" fill="#000">Variable: PRAVG, Month: JAN, Start: 0903</text>
</svg></body></html>
